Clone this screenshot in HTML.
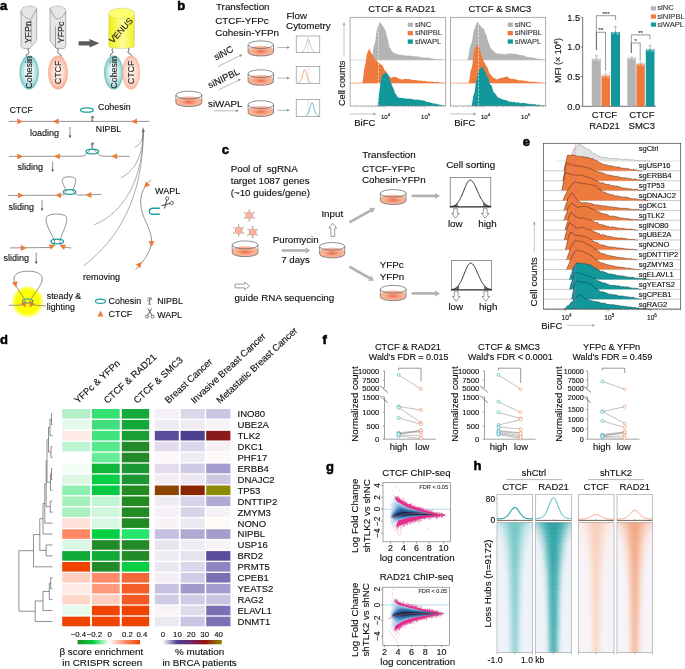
<!DOCTYPE html>
<html><head><meta charset="utf-8"><title>Figure</title>
<style>
html,body{margin:0;padding:0;background:#fff;}
body{width:685px;height:669px;overflow:hidden;}
svg{display:block;will-change:transform;}
text{font-family:"Liberation Sans",sans-serif;}
</style></head>
<body>
<svg width="685" height="669" viewBox="0 0 685 669" font-family="Liberation Sans, sans-serif">
<rect x="0" y="0" width="685" height="669" fill="#fff"/>
<defs>
<radialGradient id="gCoh" cx="50%" cy="50%" r="50%"><stop offset="0" stop-color="#ffffff"/><stop offset="0.45" stop-color="#e2f3f3"/><stop offset="0.8" stop-color="#a4d9d9"/><stop offset="1" stop-color="#6cc2c2"/></radialGradient>
<radialGradient id="gCtcf" cx="50%" cy="50%" r="50%"><stop offset="0" stop-color="#fffaf7"/><stop offset="0.45" stop-color="#fde6dc"/><stop offset="0.8" stop-color="#f9c6b0"/><stop offset="1" stop-color="#f3aa8c"/></radialGradient>
<linearGradient id="gVen" x1="0" x2="1" y1="0" y2="0"><stop offset="0" stop-color="#eeee10"/><stop offset="0.55" stop-color="#ffff9a"/><stop offset="1" stop-color="#efef20"/></linearGradient>
<radialGradient id="gGlow" cx="50%" cy="50%" r="50%"><stop offset="0" stop-color="#ffff10"/><stop offset="0.68" stop-color="#ffff00"/><stop offset="0.86" stop-color="#ffff30" stop-opacity="0.75"/><stop offset="1" stop-color="#ffff80" stop-opacity="0"/></radialGradient>
<linearGradient id="gDish" x1="0" x2="0" y1="0" y2="1"><stop offset="0" stop-color="#f07e5c"/><stop offset="0.5" stop-color="#f6a88c"/><stop offset="1" stop-color="#f4b39c"/></linearGradient>
<radialGradient id="gDishR" cx="50%" cy="55%" r="50%"><stop offset="0" stop-color="#ec6a44"/><stop offset="0.4" stop-color="#f39474"/><stop offset="1" stop-color="#f8bca4" stop-opacity="0.3"/></radialGradient>
</defs>
<text x="0.00" y="10.00" font-size="13" font-weight="bold" fill="#000" stroke="#000" stroke-width="0.55">a</text>
<path d="M21,11.4 C21,8 25,6.2 29,6.0 C33,5.9 36.7,7 36.7,8.8 L36.7,40.7 L29.4,48.6 L25.5,48.6 C22.5,48.6 21,47 21,45 Z" fill="#e6e6e6" stroke="none" stroke-width="0.6"/>
<path d="M21,11.4 L21,45 C21,47 22.5,48.6 25.5,48.6 L29.4,48.6 L36.7,40.7 L36.7,8.8" fill="none" stroke="#6a6a6a" stroke-width="0.5"/>
<path d="M21,11.4 C21,8 25,6.2 29,6.0 C33,5.9 36.7,7 36.7,8.8" fill="none" stroke="#6a6a6a" stroke-width="0.5" stroke-dasharray="1.3,0.8"/>
<path d="M21,11.4 C22,16 27,19.3 30.8,19.3 L36.7,8.8" fill="none" stroke="#6a6a6a" stroke-width="0.5"/>
<line x1="31.20" y1="20.10" x2="31.20" y2="42.90" stroke="#555" stroke-width="0.5"/>
<path d="M50,8.3 C51,7 54,6 57.9,6 C62,6 65.8,8 65.8,11.4 L65.8,45.5 C65.8,47.5 64.5,48.6 62.7,48.6 L55.7,48.2 L50,40.7 Z" fill="#e6e6e6" stroke="none" stroke-width="0.6"/>
<path d="M65.8,11.4 L65.8,45.5 C65.8,47.5 64.5,48.6 62.7,48.6 L55.7,48.2 L50,40.7 L50,8.3" fill="none" stroke="#6a6a6a" stroke-width="0.5"/>
<path d="M50,8.3 C51,7 54,6 57.9,6 C62,6 65.8,8 65.8,11.4" fill="none" stroke="#6a6a6a" stroke-width="0.5" stroke-dasharray="1.3,0.8"/>
<path d="M50,8.8 L55.5,18.8 C58,19.5 63,18.5 65.8,11.4" fill="none" stroke="#6a6a6a" stroke-width="0.5"/>
<line x1="55.50" y1="26.30" x2="55.50" y2="47.70" stroke="#555" stroke-width="0.5"/>
<text x="30.60" y="32.20" font-size="8.9" text-anchor="middle" fill="#1a1a1a" stroke="#1a1a1a" stroke-width="0.12" transform="rotate(-90 30.60 32.20) ">YFPn</text>
<text x="64.40" y="32.40" font-size="8.9" text-anchor="middle" fill="#1a1a1a" stroke="#1a1a1a" stroke-width="0.12" transform="rotate(-90 64.40 32.40) ">YFPc</text>
<path d="M28.5,48.6 C27,50.5 30.5,52.5 28,53.8 C26,54.8 25.5,55.5 26.5,57" fill="none" stroke="#222" stroke-width="0.7"/>
<path d="M57.5,48.4 C59.5,50 56,52 58.5,53.5 C61,54.5 61.5,55.5 61,57" fill="none" stroke="#222" stroke-width="0.7"/>
<ellipse cx="29.1" cy="72.4" rx="9.7" ry="17" fill="url(#gCoh)"/>
<ellipse cx="58" cy="72.4" rx="9.9" ry="17" fill="url(#gCtcf)"/>
<text x="32.30" y="72.40" font-size="8.9" text-anchor="middle" fill="#1a1a1a" stroke="#1a1a1a" stroke-width="0.12" transform="rotate(-90 32.30 72.40) ">Cohesin</text>
<text x="61.30" y="72.40" font-size="8.9" text-anchor="middle" fill="#1a1a1a" stroke="#1a1a1a" stroke-width="0.12" transform="rotate(-90 61.30 72.40) ">CTCF</text>
<polygon points="78.60,41.20 89.50,41.20 89.50,39.00 99.40,43.30 89.50,47.60 89.50,45.40 78.60,45.40" fill="#5a5a5a" stroke="none" stroke-width="0.6"/>
<path d="M108.8,13.5 L108.8,46.3 A12.8,2.2 0 0 0 134.4,46.3 L134.4,13.5 A12.8,5.3 0 0 0 108.8,13.5 Z" fill="url(#gVen)" stroke="#b0b0a0" stroke-width="0.4"/>
<ellipse cx="121.6" cy="13.5" rx="12.8" ry="5.3" fill="#ffff70" stroke="#b8b890" stroke-width="0.4" stroke-dasharray="1.2,1"/>
<text x="123.20" y="32.50" font-size="8.8" text-anchor="middle" fill="#1a1a1a" stroke="#1a1a1a" stroke-width="0.12" transform="rotate(-48 123.20 32.50) ">VENUS</text>
<path d="M113,48.3 C110,50 115,52 112,53.5 C110,54.5 110,55 111,56.5" fill="none" stroke="#222" stroke-width="0.7"/>
<path d="M128,48.3 C131,50 126,52 129,53.5 C131.5,54.5 132,55 131.5,56.5" fill="none" stroke="#222" stroke-width="0.7"/>
<ellipse cx="113.6" cy="72.4" rx="9.6" ry="17" fill="url(#gCoh)"/>
<ellipse cx="131.1" cy="72.4" rx="9.1" ry="17" fill="url(#gCtcf)" opacity="0.88"/>
<text x="116.80" y="72.40" font-size="8.9" text-anchor="middle" fill="#1a1a1a" stroke="#1a1a1a" stroke-width="0.12" transform="rotate(-90 116.80 72.40) ">Cohesin</text>
<text x="134.40" y="72.40" font-size="8.9" text-anchor="middle" fill="#1a1a1a" stroke="#1a1a1a" stroke-width="0.12" transform="rotate(-90 134.40 72.40) ">CTCF</text>
<line x1="8.90" y1="121.40" x2="149.50" y2="121.40" stroke="#7a7a7a" stroke-width="0.8"/>
<polygon points="23.10,121.40 17.30,118.50 17.30,124.30" fill="#F07A3A" stroke="none" stroke-width="0.6"/>
<polygon points="52.80,121.40 58.60,124.30 58.60,118.50" fill="#F07A3A" stroke="none" stroke-width="0.6"/>
<polygon points="131.10,121.40 136.90,124.30 136.90,118.50" fill="#F07A3A" stroke="none" stroke-width="0.6"/>
<text x="9.80" y="113.20" font-size="8.6" fill="#0d0d0d" stroke="#0d0d0d" stroke-width="0.12">CTCF</text>
<ellipse cx="86.9" cy="110" rx="6.3" ry="2.2" fill="none" stroke="#1a9ea0" stroke-width="1.3"/>
<text x="98.00" y="109.50" font-size="8.9" fill="#0d0d0d" stroke="#0d0d0d" stroke-width="0.12">Cohesin</text>
<path d="M90.86,116.61999999999999 L93.74,116.61999999999999 M92.3,116.61999999999999 L92.3,120.75999999999999 M91.13,120.75999999999999 L93.47,120.75999999999999 M91.22,117.69999999999999 C90.86,119.05 91.75999999999999,119.22999999999999 92.3,118.96" fill="none" stroke="#333" stroke-width="0.55"/>
<circle cx="93.11" cy="117.52" r="0.63" fill="none" stroke="#333" stroke-width="0.45"/>
<text x="95.80" y="132.00" font-size="8.8" fill="#0d0d0d" stroke="#0d0d0d" stroke-width="0.12">NIPBL</text>
<text x="29.90" y="135.90" font-size="9" fill="#0d0d0d" stroke="#0d0d0d" stroke-width="0.12">loading</text>
<line x1="70.00" y1="127.00" x2="70.00" y2="136.70" stroke="#444" stroke-width="0.6"/>
<polygon points="68.70,135.60 71.30,135.60 70.00,138.20" fill="#444" stroke="none" stroke-width="0.6"/>
<path d="M8.9,156.4 L82,156.2 C87,155.8 88.5,150.5 90.5,149.5 C91.5,149 93,149 94,149.5 C96,150.5 97.5,155.8 103,156.2 L129.7,156.4" fill="none" stroke="#7a7a7a" stroke-width="0.8"/>
<polygon points="23.10,156.40 17.30,153.50 17.30,159.30" fill="#F07A3A" stroke="none" stroke-width="0.6"/>
<polygon points="54.00,156.30 59.80,159.20 59.80,153.40" fill="#F07A3A" stroke="none" stroke-width="0.6"/>
<polygon points="111.30,156.30 117.10,159.20 117.10,153.40" fill="#F07A3A" stroke="none" stroke-width="0.6"/>
<ellipse cx="92.3" cy="151.5" rx="6.3" ry="2.4" fill="none" stroke="#1a9ea0" stroke-width="1.3"/>
<path d="M90.86,143.02 L93.74,143.02 M92.3,143.02 L92.3,147.16 M91.13,147.16 L93.47,147.16 M91.22,144.1 C90.86,145.45 91.75999999999999,145.63 92.3,145.36" fill="none" stroke="#333" stroke-width="0.55"/>
<circle cx="93.11" cy="143.92" r="0.63" fill="none" stroke="#333" stroke-width="0.45"/>
<text x="17.50" y="170.20" font-size="9" fill="#0d0d0d" stroke="#0d0d0d" stroke-width="0.12">sliding</text>
<line x1="52.60" y1="161.60" x2="52.60" y2="170.50" stroke="#444" stroke-width="0.6"/>
<polygon points="51.30,169.40 53.90,169.40 52.60,172.00" fill="#444" stroke="none" stroke-width="0.6"/>
<path d="M8.2,195.4 L60,195.3 C64,195 65.5,193 66.3,190.5 C64,186 61.5,182 62.5,179 C63.5,176 74.5,176 75.5,179 C76.5,182 74,186 72.8,190.5 C74,193 76,195 80,195.2 L101.6,194.3" fill="none" stroke="#7a7a7a" stroke-width="0.8"/>
<polygon points="23.80,195.40 18.00,192.50 18.00,198.30" fill="#F07A3A" stroke="none" stroke-width="0.6"/>
<polygon points="55.20,195.30 61.00,198.20 61.00,192.40" fill="#F07A3A" stroke="none" stroke-width="0.6"/>
<polygon points="85.60,195.00 91.40,197.90 91.40,192.10" fill="#F07A3A" stroke="none" stroke-width="0.6"/>
<ellipse cx="69.6" cy="192" rx="6.3" ry="2.3" fill="none" stroke="#1a9ea0" stroke-width="1.3"/>
<text x="8.60" y="209.90" font-size="9" fill="#0d0d0d" stroke="#0d0d0d" stroke-width="0.12">sliding</text>
<line x1="42.00" y1="200.00" x2="42.00" y2="209.50" stroke="#444" stroke-width="0.6"/>
<polygon points="40.70,208.40 43.30,208.40 42.00,211.00" fill="#444" stroke="none" stroke-width="0.6"/>
<path d="M9.8,247.9 L50,247.5 C53,246.5 54.5,244 54.8,241 C51,233 44,222 46.5,217 C49,213 64,213 66.5,217 C68.5,222 62,233 59.8,241 C60,244 62,246.5 65,247.4 L71.3,247.9" fill="none" stroke="#7a7a7a" stroke-width="0.8"/>
<polygon points="26.60,247.90 20.80,245.00 20.80,250.80" fill="#F07A3A" stroke="none" stroke-width="0.6"/>
<polygon points="55.31,245.11 48.86,244.36 50.85,249.81" fill="#F07A3A" stroke="none" stroke-width="0.6"/>
<polygon points="59.49,245.21 63.95,249.91 65.94,244.46" fill="#F07A3A" stroke="none" stroke-width="0.6"/>
<ellipse cx="57.2" cy="241.5" rx="6.3" ry="2.3" fill="none" stroke="#1a9ea0" stroke-width="1.3"/>
<text x="3.50" y="261.20" font-size="9" fill="#0d0d0d" stroke="#0d0d0d" stroke-width="0.12">sliding</text>
<line x1="36.20" y1="252.50" x2="36.20" y2="262.70" stroke="#444" stroke-width="0.6"/>
<polygon points="34.90,261.60 37.50,261.60 36.20,264.20" fill="#444" stroke="none" stroke-width="0.6"/>
<circle cx="27.6" cy="301.8" r="16.5" fill="url(#gGlow)"/>
<path d="M9,305.3 L20,305.2 C23,304.6 25,303 25.3,300.5 C22,295 14,285 14,279 C14,273.5 20,271.2 28,271.2 C36,271.2 42.3,273.5 42.3,279 C42.3,285 33,295 30,300.5 C30.3,303 32,304.6 35,305.2 L46,305.8" fill="none" stroke="#7a7a7a" stroke-width="0.8"/>
<ellipse cx="27.6" cy="301" rx="5.2" ry="2.0" fill="none" stroke="#1a9ea0" stroke-width="1.2"/>
<polygon points="25.80,307.57 25.41,301.10 20.39,304.00" fill="#F07A3A" stroke="none" stroke-width="0.6"/>
<polygon points="29.60,307.57 35.01,304.00 29.99,301.10" fill="#F07A3A" stroke="none" stroke-width="0.6"/>
<polygon points="15.86,287.45 17.70,281.24 11.99,282.24" fill="#F07A3A" stroke="none" stroke-width="0.6"/>
<text x="46.70" y="299.30" font-size="8.9" fill="#0d0d0d" stroke="#0d0d0d" stroke-width="0.12">steady &amp;</text>
<text x="46.70" y="309.80" font-size="8.9" fill="#0d0d0d" stroke="#0d0d0d" stroke-width="0.12">lighting</text>
<text x="83.00" y="279.90" font-size="9" fill="#0d0d0d" stroke="#0d0d0d" stroke-width="0.12">removing</text>
<path d="M143.2,131 C143.3,139 140,145 134.9,147.3" fill="none" stroke="#6a6a6a" stroke-width="0.55"/>
<path d="M143.2,131 C143.5,152 136,171 120.8,177.7" fill="none" stroke="#6a6a6a" stroke-width="0.55"/>
<path d="M143.2,131 C143.5,178 125,212 94.2,224.8" fill="none" stroke="#6a6a6a" stroke-width="0.55"/>
<path d="M143.2,131 C143.5,195 120,238 83.8,265.7" fill="none" stroke="#6a6a6a" stroke-width="0.55"/>
<polygon points="141.60,132.00 144.80,132.00 143.20,127.60" fill="#6a6a6a" stroke="none" stroke-width="0.6"/>
<path d="M151.2,179.8 C145,185 140.5,192 140.7,203 C141,218 151.5,228 151.5,240 C151.5,252 143,262 135.5,269.8" fill="none" stroke="#7a7a7a" stroke-width="0.8"/>
<polygon points="144.34,187.75 150.29,185.17 145.85,181.44" fill="#F07A3A" stroke="none" stroke-width="0.6"/>
<polygon points="151.88,246.89 154.26,240.86 148.48,241.36" fill="#F07A3A" stroke="none" stroke-width="0.6"/>
<polygon points="141.76,261.95 135.81,264.53 140.25,268.26" fill="#F07A3A" stroke="none" stroke-width="0.6"/>
<text x="155.00" y="193.50" font-size="9" fill="#0d0d0d" stroke="#0d0d0d" stroke-width="0.12">WAPL</text>
<path d="M159.8,208.3 L153.2,208.3 C150.6,208.3 149.3,209.8 149.3,211.3 C149.3,212.8 150.6,214.3 153.2,214.3 L159.8,214.3" fill="none" stroke="#1a9ea0" stroke-width="1.4"/>
<g transform="translate(166.8,203.4) rotate(-135) scale(1.45)"><circle cx="-2.2" cy="2.6" r="1.15" fill="none" stroke="#333" stroke-width="0.5"/><circle cx="2.2" cy="2.6" r="1.15" fill="none" stroke="#333" stroke-width="0.5"/><path d="M-1.6,1.6 L1.4,-3.6 M1.6,1.6 L-1.4,-3.6" stroke="#333" stroke-width="0.6" fill="none"/></g>
<ellipse cx="100.5" cy="301.2" rx="5.0" ry="2.1" fill="none" stroke="#1a9ea0" stroke-width="1.2"/>
<text x="108.60" y="304.20" font-size="8.9" fill="#0d0d0d" stroke="#0d0d0d" stroke-width="0.12">Cohesin</text>
<polygon points="100.50,310.60 97.60,316.40 103.40,316.40" fill="#F07A3A" stroke="none" stroke-width="0.6"/>
<text x="108.60" y="317.20" font-size="8.9" fill="#0d0d0d" stroke="#0d0d0d" stroke-width="0.12">CTCF</text>
<path d="M147.34,297.92999999999995 L151.66,297.92999999999995 M149.5,297.92999999999995 L149.5,304.14 M147.745,304.14 L151.255,304.14 M147.88,299.54999999999995 C147.34,301.575 148.69,301.84499999999997 149.5,301.44" fill="none" stroke="#333" stroke-width="0.55"/>
<circle cx="150.715" cy="299.28" r="0.945" fill="none" stroke="#333" stroke-width="0.45"/>
<text x="157.20" y="304.30" font-size="8.9" fill="#0d0d0d" stroke="#0d0d0d" stroke-width="0.12">NIPBL</text>
<g transform="translate(149.8,313.2) rotate(0) scale(1.3)"><circle cx="-2.2" cy="2.6" r="1.15" fill="none" stroke="#333" stroke-width="0.5"/><circle cx="2.2" cy="2.6" r="1.15" fill="none" stroke="#333" stroke-width="0.5"/><path d="M-1.6,1.6 L1.4,-3.6 M1.6,1.6 L-1.4,-3.6" stroke="#333" stroke-width="0.6" fill="none"/></g>
<text x="157.20" y="317.60" font-size="8.9" fill="#0d0d0d" stroke="#0d0d0d" stroke-width="0.12">WAPL</text>
<text x="177.20" y="9.90" font-size="13" font-weight="bold" fill="#000" stroke="#000" stroke-width="0.55">b</text>
<text x="216.00" y="9.90" font-size="9.8" fill="#0d0d0d" stroke="#0d0d0d" stroke-width="0.12">Transfection</text>
<text x="215.30" y="24.30" font-size="9.8" fill="#0d0d0d" stroke="#0d0d0d" stroke-width="0.12">CTCF-YFPc</text>
<text x="215.30" y="35.50" font-size="9.8" fill="#0d0d0d" stroke="#0d0d0d" stroke-width="0.12">Cohesin-YFPn</text>
<text x="286.40" y="18.60" font-size="9.8" fill="#0d0d0d" stroke="#0d0d0d" stroke-width="0.12">Flow</text>
<text x="286.10" y="29.30" font-size="9.8" fill="#0d0d0d" stroke="#0d0d0d" stroke-width="0.12">Cytometry</text>
<path d="M175.90,100.29 L175.90,102.75 A12.95,3.85 0 0 0 201.80,102.75 L201.80,100.29 A12.95,3.85 0 0 0 175.90,100.29 Z" fill="#f6b49a" stroke="none" stroke-width="0.6"/>
<ellipse cx="188.85" cy="101.63" rx="12.30" ry="4.04" fill="url(#gDishR)"/>
<path d="M175.90,95.05 L175.90,102.75 A12.95,3.85 0 0 0 201.80,102.75 L201.80,95.05" fill="none" stroke="#4a4a4a" stroke-width="0.6"/>
<ellipse cx="188.85" cy="95.05" rx="12.95" ry="3.85" fill="none" stroke="#4a4a4a" stroke-width="0.6"/>
<line x1="218.00" y1="66.50" x2="239.81" y2="55.73" stroke="#8a8a8a" stroke-width="0.6"/>
<polygon points="242.50,54.40 240.39,56.89 239.23,54.56" fill="#8a8a8a" stroke="none" stroke-width="0.6"/>
<line x1="218.60" y1="90.00" x2="238.31" y2="80.32" stroke="#8a8a8a" stroke-width="0.6"/>
<polygon points="241.00,79.00 238.88,81.49 237.73,79.16" fill="#8a8a8a" stroke="none" stroke-width="0.6"/>
<line x1="214.00" y1="110.80" x2="236.00" y2="110.80" stroke="#8a8a8a" stroke-width="0.6"/>
<polygon points="239.00,110.80 236.00,112.10 236.00,109.50" fill="#8a8a8a" stroke="none" stroke-width="0.6"/>
<text x="216.00" y="60.60" font-size="9.4" fill="#0d0d0d" stroke="#0d0d0d" stroke-width="0.12" transform="rotate(-28 216.00 60.60) ">siNC</text>
<text x="209.80" y="88.60" font-size="9.4" fill="#0d0d0d" stroke="#0d0d0d" stroke-width="0.12" transform="rotate(-26 209.80 88.60) ">siNIPBL</text>
<text x="208.00" y="107.00" font-size="9.8" fill="#0d0d0d" stroke="#0d0d0d" stroke-width="0.12">siWAPL</text>
<path d="M248.10,49.81 L248.10,52.23 A12.70,3.78 0 0 0 273.50,52.23 L273.50,49.81 A12.70,3.78 0 0 0 248.10,49.81 Z" fill="#f6b49a" stroke="none" stroke-width="0.6"/>
<ellipse cx="260.80" cy="51.13" rx="12.07" ry="3.96" fill="url(#gDishR)"/>
<path d="M248.10,44.67 L248.10,52.23 A12.70,3.78 0 0 0 273.50,52.23 L273.50,44.67" fill="none" stroke="#4a4a4a" stroke-width="0.6"/>
<ellipse cx="260.80" cy="44.67" rx="12.70" ry="3.78" fill="none" stroke="#4a4a4a" stroke-width="0.6"/>
<path d="M248.10,78.94 L248.10,81.42 A12.70,3.88 0 0 0 273.50,81.42 L273.50,78.94 A12.70,3.88 0 0 0 248.10,78.94 Z" fill="#f6b49a" stroke="none" stroke-width="0.6"/>
<ellipse cx="260.80" cy="80.30" rx="12.07" ry="4.07" fill="url(#gDishR)"/>
<path d="M248.10,73.67 L248.10,81.42 A12.70,3.88 0 0 0 273.50,81.42 L273.50,73.67" fill="none" stroke="#4a4a4a" stroke-width="0.6"/>
<ellipse cx="260.80" cy="73.67" rx="12.70" ry="3.88" fill="none" stroke="#4a4a4a" stroke-width="0.6"/>
<path d="M248.10,110.02 L248.10,112.55 A12.70,3.95 0 0 0 273.50,112.55 L273.50,110.02 A12.70,3.95 0 0 0 248.10,110.02 Z" fill="#f6b49a" stroke="none" stroke-width="0.6"/>
<ellipse cx="260.80" cy="111.40" rx="12.07" ry="4.15" fill="url(#gDishR)"/>
<path d="M248.10,104.65 L248.10,112.55 A12.70,3.95 0 0 0 273.50,112.55 L273.50,104.65" fill="none" stroke="#4a4a4a" stroke-width="0.6"/>
<ellipse cx="260.80" cy="104.65" rx="12.70" ry="3.95" fill="none" stroke="#4a4a4a" stroke-width="0.6"/>
<line x1="277.20" y1="47.50" x2="287.00" y2="47.50" stroke="#8a8a8a" stroke-width="0.6"/>
<polygon points="290.00,47.50 287.00,48.80 287.00,46.20" fill="#8a8a8a" stroke="none" stroke-width="0.6"/>
<line x1="277.20" y1="78.10" x2="287.00" y2="78.10" stroke="#8a8a8a" stroke-width="0.6"/>
<polygon points="290.00,78.10 287.00,79.40 287.00,76.80" fill="#8a8a8a" stroke="none" stroke-width="0.6"/>
<line x1="277.20" y1="110.30" x2="287.00" y2="110.30" stroke="#8a8a8a" stroke-width="0.6"/>
<polygon points="290.00,110.30 287.00,111.60 287.00,109.00" fill="#8a8a8a" stroke="none" stroke-width="0.6"/>
<rect x="296.20" y="36.00" width="23.60" height="16.70" fill="none" stroke="#808080" stroke-width="0.6"/>
<line x1="308.30" y1="37.00" x2="308.30" y2="52.70" stroke="#999" stroke-width="0.5" stroke-dasharray="1.2,1"/>
<polyline points="301.78,51.57 301.97,51.52 302.16,51.46 302.35,51.39 302.54,51.32 302.73,51.24 302.93,51.14 303.12,51.03 303.31,50.90 303.50,50.75 303.69,50.58 303.88,50.38 304.08,50.16 304.27,49.89 304.46,49.59 304.65,49.25 304.84,48.87 305.03,48.44 305.23,47.96 305.42,47.44 305.61,46.87 305.80,46.26 305.99,45.61 306.18,44.92 306.38,44.22 306.57,43.50 306.76,42.78 306.95,42.08 307.14,41.41 307.33,40.80 307.53,40.26 307.72,39.82 307.91,39.48 308.10,39.28 308.29,39.20 308.48,39.26 308.68,39.46 308.87,39.79 309.06,40.22 309.25,40.75 309.44,41.36 309.63,42.02 309.83,42.72 310.02,43.44 310.21,44.16 310.40,44.86 310.59,45.55 310.78,46.20 310.98,46.82 311.17,47.39 311.36,47.92 311.55,48.40 311.74,48.83 311.93,49.22 312.12,49.57 312.32,49.87 312.51,50.13 312.70,50.37 312.89,50.57 313.08,50.74 313.28,50.89 313.47,51.02 313.66,51.13 313.85,51.23 314.04,51.31 314.23,51.39 314.43,51.45 314.62,51.51 314.81,51.56" fill="none" stroke="#b0b0b0" stroke-width="0.7"/>
<rect x="296.20" y="66.30" width="23.60" height="17.30" fill="none" stroke="#808080" stroke-width="0.6"/>
<line x1="308.30" y1="67.30" x2="308.30" y2="83.60" stroke="#999" stroke-width="0.5" stroke-dasharray="1.2,1"/>
<polyline points="297.94,82.46 298.13,82.41 298.33,82.36 298.52,82.30 298.71,82.23 298.90,82.15 299.09,82.05 299.28,81.95 299.48,81.83 299.67,81.69 299.86,81.53 300.05,81.34 300.24,81.12 300.43,80.87 300.62,80.59 300.82,80.26 301.01,79.89 301.20,79.48 301.39,79.01 301.58,78.50 301.78,77.94 301.97,77.33 302.16,76.68 302.35,75.98 302.54,75.26 302.73,74.52 302.93,73.77 303.12,73.02 303.31,72.30 303.50,71.61 303.69,71.00 303.88,70.46 304.08,70.03 304.27,69.72 304.46,69.54 304.65,69.50 304.84,69.61 305.03,69.86 305.23,70.24 305.42,70.73 305.61,71.31 305.80,71.96 305.99,72.67 306.18,73.41 306.38,74.16 306.57,74.91 306.76,75.64 306.95,76.35 307.14,77.02 307.33,77.65 307.53,78.24 307.72,78.77 307.91,79.26 308.10,79.70 308.29,80.09 308.48,80.44 308.68,80.74 308.87,81.01 309.06,81.24 309.25,81.44 309.44,81.61 309.63,81.76 309.83,81.89 310.02,82.01 310.21,82.10 310.40,82.19 310.59,82.26 310.78,82.33 310.98,82.39 311.17,82.44" fill="none" stroke="#EE7B3E" stroke-width="0.7"/>
<rect x="296.20" y="99.40" width="23.60" height="17.30" fill="none" stroke="#808080" stroke-width="0.6"/>
<line x1="308.30" y1="100.40" x2="308.30" y2="116.70" stroke="#999" stroke-width="0.5" stroke-dasharray="1.2,1"/>
<polyline points="305.42,115.54 305.61,115.49 305.80,115.43 305.99,115.37 306.18,115.30 306.38,115.21 306.57,115.12 306.76,115.00 306.95,114.88 307.14,114.73 307.33,114.56 307.53,114.36 307.72,114.13 307.91,113.87 308.10,113.57 308.29,113.22 308.48,112.84 308.68,112.40 308.87,111.92 309.06,111.39 309.25,110.81 309.44,110.18 309.63,109.51 309.83,108.80 310.02,108.07 310.21,107.32 310.40,106.57 310.59,105.83 310.78,105.12 310.98,104.46 311.17,103.87 311.36,103.38 311.55,102.99 311.74,102.73 311.93,102.61 312.12,102.63 312.32,102.80 312.51,103.10 312.70,103.52 312.89,104.04 313.08,104.66 313.28,105.33 313.47,106.05 313.66,106.80 313.85,107.55 314.04,108.30 314.23,109.02 314.43,109.72 314.62,110.37 314.81,110.99 315.00,111.55 315.19,112.07 315.38,112.54 315.58,112.96 315.77,113.33 315.96,113.66 316.15,113.95 316.34,114.20 316.53,114.42 316.73,114.61 316.92,114.78 317.11,114.92 317.30,115.04 317.49,115.15 317.68,115.24 317.88,115.32 318.07,115.39 318.26,115.45 318.45,115.51 318.64,115.56" fill="none" stroke="#1fa3a8" stroke-width="0.7"/>
<path d="M371.00,60.10 L371.00,60.10 L371.70,58.56 L372.40,54.71 L373.10,49.63 L373.80,46.06 L374.50,44.07 L375.10,42.43 L375.70,38.43 L376.30,33.08 L376.90,29.19 L377.50,27.15 L378.13,26.13 L378.77,23.76 L379.40,22.25 L380.00,22.33 L380.60,23.50 L381.20,23.79 L381.80,24.29 L382.40,25.51 L383.00,26.55 L383.62,27.25 L384.25,28.12 L384.88,30.04 L385.50,30.05 L386.17,32.47 L386.83,36.33 L387.50,38.37 L388.17,40.65 L388.83,44.77 L389.50,47.62 L390.10,47.78 L390.70,48.78 L391.30,50.21 L391.90,51.13 L392.50,51.91 L393.10,52.11 L393.70,52.47 L394.30,52.70 L394.90,53.35 L395.50,53.63 L396.14,53.51 L396.79,53.79 L397.43,54.15 L398.07,54.08 L398.71,54.40 L399.36,54.91 L400.00,54.75 L400.62,54.81 L401.24,54.63 L401.87,54.82 L402.49,55.24 L403.11,54.87 L403.73,55.59 L404.36,55.47 L404.98,55.30 L405.60,55.74 L406.23,55.52 L406.86,55.87 L407.49,55.47 L408.12,55.47 L408.76,55.68 L409.39,55.55 L410.02,56.04 L410.65,55.86 L411.28,56.03 L411.91,56.13 L412.54,56.30 L413.18,56.11 L413.81,56.10 L414.44,56.48 L415.07,56.37 L415.70,56.81 L416.33,56.37 L416.96,56.44 L417.59,56.25 L418.23,56.43 L418.86,56.88 L419.49,56.90 L420.12,56.79 L420.75,57.33 L421.38,57.12 L422.01,57.42 L422.64,57.54 L423.27,57.65 L423.91,57.22 L424.54,57.72 L425.17,57.67 L425.80,57.58 L426.44,57.26 L427.07,57.86 L427.71,57.67 L428.35,57.70 L428.99,57.58 L429.62,57.75 L430.26,57.86 L430.90,58.41 L431.54,58.45 L432.18,58.62 L432.81,58.38 L433.45,58.45 L434.09,59.11 L434.73,59.16 L435.36,59.17 L436.00,59.19 L436.63,59.02 L437.27,58.98 L437.90,59.25 L438.53,59.49 L439.17,59.26 L439.80,59.37 L440.43,59.31 L441.07,59.12 L441.70,59.39 L442.33,59.58 L442.97,59.66 L443.60,59.72 L444.23,59.76 L444.87,59.79 L445.50,59.80 L445.50,60.10 Z" fill="#b4b4b4" stroke="none" stroke-width="0.3"/>
<line x1="350.10" y1="60.10" x2="445.70" y2="60.10" stroke="#c4c4c4" stroke-width="0.6"/>
<path d="M362.20,83.10 L362.20,83.10 L362.90,80.21 L363.60,73.98 L364.30,68.22 L365.00,64.82 L365.62,62.87 L366.25,58.34 L366.88,53.92 L367.50,52.18 L368.10,51.21 L368.70,49.64 L369.30,48.31 L370.15,50.56 L371.00,52.40 L371.65,53.50 L372.30,54.74 L372.92,55.13 L373.54,56.57 L374.16,58.09 L374.78,59.22 L375.40,59.78 L376.02,59.92 L376.64,60.92 L377.26,61.25 L377.88,62.20 L378.50,62.85 L379.23,63.09 L379.95,63.71 L380.67,64.38 L381.40,64.86 L382.08,64.80 L382.77,65.81 L383.45,67.62 L384.13,69.06 L384.82,70.45 L385.50,70.88 L386.10,71.23 L386.70,72.52 L387.30,73.61 L387.90,75.32 L388.50,75.93 L389.10,75.50 L389.70,76.32 L390.30,77.21 L390.90,77.45 L391.50,78.03 L392.17,77.61 L392.83,77.11 L393.50,76.95 L394.17,76.82 L394.83,76.94 L395.50,76.79 L396.10,77.12 L396.70,77.14 L397.30,77.84 L397.90,78.12 L398.50,78.62 L399.12,78.82 L399.74,78.70 L400.36,78.94 L400.98,79.33 L401.60,79.49 L402.27,79.40 L402.93,79.27 L403.60,79.39 L404.27,78.95 L404.93,78.88 L405.60,79.03 L406.21,79.06 L406.82,78.96 L407.43,79.08 L408.04,78.92 L408.65,78.88 L409.26,79.38 L409.87,79.18 L410.48,79.25 L411.09,79.35 L411.70,79.79 L412.32,79.91 L412.95,79.95 L413.57,80.05 L414.19,80.13 L414.82,79.94 L415.44,79.86 L416.06,80.02 L416.68,80.38 L417.31,80.37 L417.93,80.36 L418.55,80.93 L419.18,80.57 L419.80,80.41 L420.41,80.51 L421.01,80.55 L421.62,80.78 L422.22,81.03 L422.82,80.65 L423.43,81.03 L424.04,80.77 L424.64,80.72 L425.25,81.20 L425.85,81.27 L426.45,80.96 L427.06,81.19 L427.66,81.65 L428.27,81.75 L428.88,81.79 L429.48,81.31 L430.08,81.42 L430.69,81.92 L431.29,81.46 L431.90,81.36 L432.52,81.60 L433.14,81.83 L433.75,81.73 L434.37,82.06 L434.99,82.20 L435.61,81.59 L436.23,81.88 L436.85,82.04 L437.46,81.83 L438.08,82.26 L438.70,82.04 L439.32,82.15 L439.94,82.66 L440.55,82.71 L441.17,82.61 L441.79,82.68 L442.41,82.74 L443.03,82.80 L443.65,82.84 L444.26,82.87 L444.88,82.89 L445.50,82.90 L445.50,83.10 Z" fill="#EE7B3E" stroke="none" stroke-width="0.3"/>
<line x1="350.10" y1="83.10" x2="445.70" y2="83.10" stroke="#EE7B3E" stroke-width="0.6"/>
<path d="M377.40,106.00 L377.40,106.00 L378.03,102.52 L378.67,95.81 L379.30,91.94 L380.05,86.17 L380.80,80.06 L381.47,78.83 L382.13,75.64 L382.80,74.60 L383.48,74.29 L384.15,73.69 L384.82,72.95 L385.50,73.06 L386.12,72.86 L386.75,73.50 L387.38,73.82 L388.00,73.98 L388.75,76.69 L389.50,78.74 L390.17,80.30 L390.83,82.97 L391.50,83.79 L392.17,85.47 L392.83,87.57 L393.50,88.64 L394.17,90.06 L394.83,92.63 L395.50,93.79 L396.20,94.56 L396.90,95.90 L397.60,97.18 L398.33,97.03 L399.05,97.63 L399.77,97.98 L400.50,97.81 L401.12,98.03 L401.74,98.06 L402.36,98.01 L402.98,97.98 L403.60,98.34 L404.21,98.24 L404.82,98.36 L405.43,98.42 L406.04,98.38 L406.65,98.63 L407.26,98.67 L407.87,98.79 L408.48,98.53 L409.09,98.74 L409.70,98.64 L410.30,98.61 L410.90,99.13 L411.50,98.99 L412.10,98.80 L412.70,98.96 L413.30,99.54 L413.90,99.64 L414.50,99.48 L415.10,99.78 L415.70,99.68 L416.31,99.82 L416.92,99.46 L417.53,99.47 L418.14,99.50 L418.75,100.14 L419.36,99.87 L419.97,100.02 L420.58,100.47 L421.19,100.01 L421.80,99.97 L422.40,100.54 L423.00,100.15 L423.60,100.72 L424.20,100.87 L424.80,100.76 L425.40,101.10 L426.00,101.79 L426.60,101.78 L427.20,101.84 L427.80,102.01 L428.42,102.15 L429.05,102.15 L429.67,102.01 L430.29,102.69 L430.92,102.52 L431.54,102.83 L432.16,103.35 L432.78,103.36 L433.41,103.36 L434.03,103.62 L434.65,104.08 L435.28,103.53 L435.90,103.70 L436.50,103.59 L437.10,104.25 L437.70,104.23 L438.30,104.50 L438.90,104.12 L439.50,104.63 L440.10,104.89 L440.70,104.85 L441.30,104.68 L441.90,104.91 L442.50,105.45 L443.10,105.66 L443.70,105.53 L444.30,105.62 L444.90,105.68 L445.50,105.70 L445.50,106.00 Z" fill="#12979A" stroke="none" stroke-width="0.3"/>
<line x1="378.40" y1="20.50" x2="378.40" y2="106.00" stroke="#ffffff" stroke-width="0.8" stroke-dasharray="2,1.6" opacity="0.85"/>
<rect x="350.10" y="17.30" width="95.60" height="88.70" fill="none" stroke="#8a8a8a" stroke-width="0.7"/>
<path d="M467.30,60.10 L467.30,60.10 L467.92,58.62 L468.53,55.90 L469.15,51.96 L469.77,48.54 L470.38,45.59 L471.00,43.97 L471.70,42.59 L472.40,39.12 L473.10,34.07 L473.80,30.57 L474.50,28.89 L475.17,27.84 L475.83,24.41 L476.50,23.40 L477.15,22.20 L477.80,21.83 L478.65,23.31 L479.50,24.56 L480.17,24.95 L480.83,26.61 L481.50,27.36 L482.17,27.39 L482.83,28.17 L483.50,28.57 L484.12,29.44 L484.75,31.51 L485.38,33.40 L486.00,34.23 L486.62,35.53 L487.25,38.07 L487.88,41.25 L488.50,42.40 L489.17,43.84 L489.83,45.99 L490.50,47.44 L491.20,48.16 L491.90,49.96 L492.60,50.34 L493.27,50.69 L493.93,51.50 L494.60,52.02 L495.27,52.42 L495.93,53.55 L496.60,53.28 L497.21,53.56 L497.82,53.57 L498.43,53.40 L499.04,53.79 L499.65,53.80 L500.26,53.76 L500.87,53.63 L501.48,54.15 L502.09,53.85 L502.70,53.96 L503.32,53.99 L503.93,54.13 L504.55,54.13 L505.16,54.28 L505.78,54.16 L506.39,54.14 L507.01,53.60 L507.62,53.87 L508.24,53.87 L508.85,53.87 L509.47,53.30 L510.08,53.25 L510.70,53.38 L511.34,53.68 L511.97,53.77 L512.61,53.83 L513.25,53.83 L513.89,54.15 L514.52,54.04 L515.16,54.24 L515.80,53.78 L516.42,53.80 L517.05,54.19 L517.67,54.53 L518.30,54.17 L518.92,54.78 L519.55,54.88 L520.17,55.21 L520.80,54.98 L521.43,54.95 L522.06,55.01 L522.69,55.35 L523.32,55.30 L523.96,55.85 L524.59,55.89 L525.22,56.24 L525.85,56.27 L526.48,56.76 L527.11,57.01 L527.74,57.03 L528.38,57.28 L529.01,57.20 L529.64,57.37 L530.27,57.30 L530.90,57.39 L531.51,57.37 L532.11,57.31 L532.72,57.74 L533.33,57.90 L533.93,57.58 L534.54,58.31 L535.15,58.06 L535.75,58.28 L536.36,58.86 L536.97,58.45 L537.57,58.54 L538.18,58.84 L538.79,58.86 L539.39,58.86 L540.00,59.35 L540.61,59.10 L541.22,59.17 L541.83,59.02 L542.44,59.14 L543.06,59.22 L543.67,59.49 L544.28,59.62 L544.89,59.68 L545.50,59.70 L545.50,60.10 Z" fill="#b4b4b4" stroke="none" stroke-width="0.3"/>
<line x1="450.60" y1="60.10" x2="545.70" y2="60.10" stroke="#c4c4c4" stroke-width="0.6"/>
<path d="M468.40,83.10 L468.40,83.10 L469.02,81.27 L469.64,77.69 L470.26,73.24 L470.88,69.85 L471.50,68.43 L472.10,66.48 L472.70,61.86 L473.30,56.71 L473.90,51.74 L474.50,50.06 L475.27,48.53 L476.03,45.79 L476.80,44.27 L477.50,45.26 L478.20,46.45 L478.85,47.04 L479.50,48.23 L480.10,49.45 L480.70,51.93 L481.30,54.83 L481.90,57.75 L482.50,58.33 L483.17,59.74 L483.83,61.83 L484.50,62.76 L485.17,63.48 L485.83,65.77 L486.50,66.43 L487.18,66.87 L487.87,68.70 L488.55,70.73 L489.23,72.61 L489.92,73.97 L490.60,74.51 L491.20,74.94 L491.80,75.69 L492.40,77.00 L493.00,77.72 L493.60,77.97 L494.20,77.76 L494.80,78.39 L495.40,78.59 L496.00,79.31 L496.60,79.41 L497.21,79.22 L497.82,78.83 L498.43,78.66 L499.04,78.48 L499.65,78.55 L500.26,78.18 L500.87,78.03 L501.48,77.87 L502.09,78.01 L502.70,77.42 L503.37,77.84 L504.03,77.11 L504.70,76.89 L505.37,77.30 L506.03,76.80 L506.70,76.48 L507.37,76.52 L508.03,77.25 L508.70,77.86 L509.37,78.38 L510.03,78.24 L510.70,78.90 L511.33,78.66 L511.96,79.02 L512.59,78.83 L513.23,78.63 L513.86,79.33 L514.49,78.98 L515.12,79.34 L515.75,79.23 L516.38,79.51 L517.01,79.98 L517.64,79.65 L518.27,80.06 L518.91,80.48 L519.54,80.58 L520.17,80.29 L520.80,80.33 L521.40,80.45 L522.00,80.61 L522.60,80.52 L523.20,80.62 L523.80,80.35 L524.40,81.05 L525.00,80.64 L525.60,80.70 L526.20,81.33 L526.80,80.88 L527.40,81.15 L528.00,81.13 L528.60,81.65 L529.20,81.67 L529.80,81.72 L530.40,81.34 L531.00,81.64 L531.60,81.80 L532.21,81.77 L532.81,81.91 L533.42,82.11 L534.02,82.11 L534.62,81.65 L535.23,82.10 L535.83,81.71 L536.44,82.26 L537.04,82.32 L537.65,82.22 L538.25,82.52 L538.85,82.46 L539.46,82.13 L540.06,82.25 L540.67,82.37 L541.27,82.65 L541.88,82.71 L542.48,82.77 L543.08,82.81 L543.69,82.85 L544.29,82.88 L544.90,82.89 L545.50,82.90 L545.50,83.10 Z" fill="#EE7B3E" stroke="none" stroke-width="0.3"/>
<line x1="450.60" y1="83.10" x2="545.70" y2="83.10" stroke="#EE7B3E" stroke-width="0.6"/>
<path d="M471.40,106.00 L471.40,106.00 L472.05,104.03 L472.70,99.71 L473.35,95.57 L474.00,93.97 L474.62,91.66 L475.25,87.32 L475.88,82.02 L476.50,80.03 L477.12,78.26 L477.75,74.90 L478.38,71.71 L479.00,70.32 L479.62,69.17 L480.25,68.56 L480.88,67.15 L481.50,66.71 L482.17,67.26 L482.83,67.91 L483.50,68.27 L484.17,69.78 L484.83,71.38 L485.50,72.64 L486.17,73.55 L486.83,75.69 L487.50,76.93 L488.12,77.78 L488.74,79.76 L489.36,81.66 L489.98,83.96 L490.60,85.00 L491.27,85.12 L491.93,86.55 L492.60,88.89 L493.27,91.05 L493.93,92.52 L494.60,93.19 L495.27,93.38 L495.93,94.48 L496.60,95.58 L497.27,96.77 L497.93,97.48 L498.60,97.63 L499.21,97.78 L499.82,98.17 L500.43,98.39 L501.04,98.59 L501.65,98.99 L502.26,99.31 L502.87,99.77 L503.48,99.85 L504.09,99.52 L504.70,100.16 L505.30,99.95 L505.90,100.02 L506.50,100.08 L507.10,100.80 L507.70,101.06 L508.30,101.37 L508.90,101.54 L509.50,101.73 L510.10,101.53 L510.70,101.66 L511.33,101.65 L511.96,102.28 L512.59,102.32 L513.23,101.91 L513.86,101.85 L514.49,102.24 L515.12,102.25 L515.75,102.75 L516.38,102.57 L517.01,102.28 L517.64,102.44 L518.27,102.49 L518.91,102.48 L519.54,103.03 L520.17,103.16 L520.80,103.14 L521.40,102.90 L522.00,102.81 L522.60,102.68 L523.20,102.90 L523.80,103.03 L524.40,103.03 L525.00,103.34 L525.60,103.37 L526.20,103.82 L526.80,103.40 L527.40,103.87 L528.00,103.48 L528.60,103.74 L529.20,104.05 L529.80,104.22 L530.40,104.16 L531.00,103.90 L531.60,103.87 L532.21,104.30 L532.81,104.37 L533.42,104.11 L534.02,104.13 L534.62,104.34 L535.23,104.54 L535.83,104.37 L536.44,104.88 L537.04,104.78 L537.65,104.77 L538.25,104.53 L538.85,104.85 L539.46,104.79 L540.06,105.18 L540.67,105.44 L541.27,105.53 L541.88,105.11 L542.48,105.51 L543.08,105.57 L543.69,105.63 L544.29,105.67 L544.90,105.69 L545.50,105.70 L545.50,106.00 Z" fill="#12979A" stroke="none" stroke-width="0.3"/>
<line x1="478.40" y1="20.50" x2="478.40" y2="106.00" stroke="#ffffff" stroke-width="0.8" stroke-dasharray="2,1.6" opacity="0.85"/>
<rect x="450.60" y="17.30" width="95.10" height="88.70" fill="none" stroke="#8a8a8a" stroke-width="0.7"/>
<text x="368.30" y="12.10" font-size="9.45" fill="#0d0d0d" stroke="#0d0d0d" stroke-width="0.12">CTCF &amp; RAD21</text>
<text x="468.40" y="12.10" font-size="9.45" fill="#0d0d0d" stroke="#0d0d0d" stroke-width="0.12">CTCF &amp; SMC3</text>
<rect x="407.70" y="22.60" width="5.20" height="4.30" fill="#b3b3b3"/>
<rect x="407.70" y="31.00" width="5.20" height="4.30" fill="#EE7B3E"/>
<rect x="407.70" y="39.40" width="5.20" height="4.30" fill="#12979A"/>
<text x="414.90" y="26.90" font-size="7.5" fill="#333" stroke="#333" stroke-width="0.12">siNC</text>
<text x="414.90" y="35.20" font-size="7.5" fill="#333" stroke="#333" stroke-width="0.12">siNIPBL</text>
<text x="414.90" y="43.70" font-size="7.5" fill="#333" stroke="#333" stroke-width="0.12">siWAPL</text>
<rect x="507.70" y="22.60" width="5.20" height="4.30" fill="#b3b3b3"/>
<rect x="507.70" y="31.00" width="5.20" height="4.30" fill="#EE7B3E"/>
<rect x="507.70" y="39.40" width="5.20" height="4.30" fill="#12979A"/>
<text x="514.80" y="26.90" font-size="7.5" fill="#333" stroke="#333" stroke-width="0.12">siNC</text>
<text x="514.80" y="35.20" font-size="7.5" fill="#333" stroke="#333" stroke-width="0.12">siNIPBL</text>
<text x="514.80" y="43.70" font-size="7.5" fill="#333" stroke="#333" stroke-width="0.12">siWAPL</text>
<text x="345.50" y="83.30" font-size="9.2" text-anchor="middle" fill="#0d0d0d" stroke="#0d0d0d" stroke-width="0.12" transform="rotate(-90 345.50 83.30) ">Cell counts</text>
<line x1="344.00" y1="56.50" x2="344.00" y2="25.20" stroke="#a0a0a0" stroke-width="0.6"/>
<polygon points="344.00,22.00 345.40,25.20 342.60,25.20" fill="#a0a0a0" stroke="none" stroke-width="0.6"/>
<line x1="349.60" y1="114.00" x2="373.40" y2="114.00" stroke="#a0a0a0" stroke-width="0.6"/>
<polygon points="376.60,114.00 373.40,115.40 373.40,112.60" fill="#a0a0a0" stroke="none" stroke-width="0.6"/>
<text x="354.20" y="126.20" font-size="9.5" fill="#0d0d0d" stroke="#0d0d0d" stroke-width="0.12">BiFC</text>
<text x="381.00" y="119.20" font-size="6.0" fill="#0d0d0d" stroke="#0d0d0d" stroke-width="0.12">10<tspan font-size="4.4" dy="-2.8">4</tspan></text>
<text x="421.10" y="119.20" font-size="6.0" fill="#0d0d0d" stroke="#0d0d0d" stroke-width="0.12">10<tspan font-size="4.4" dy="-2.8">5</tspan></text>
<line x1="356.17" y1="106.00" x2="356.17" y2="107.30" stroke="#777" stroke-width="0.4"/>
<line x1="363.23" y1="106.00" x2="363.23" y2="107.30" stroke="#777" stroke-width="0.4"/>
<line x1="368.24" y1="106.00" x2="368.24" y2="107.30" stroke="#777" stroke-width="0.4"/>
<line x1="372.13" y1="106.00" x2="372.13" y2="107.30" stroke="#777" stroke-width="0.4"/>
<line x1="375.30" y1="106.00" x2="375.30" y2="107.30" stroke="#777" stroke-width="0.4"/>
<line x1="377.99" y1="106.00" x2="377.99" y2="107.30" stroke="#777" stroke-width="0.4"/>
<line x1="380.31" y1="106.00" x2="380.31" y2="107.30" stroke="#777" stroke-width="0.4"/>
<line x1="382.37" y1="106.00" x2="382.37" y2="107.30" stroke="#777" stroke-width="0.4"/>
<line x1="384.20" y1="106.00" x2="384.20" y2="108.00" stroke="#777" stroke-width="0.4"/>
<line x1="396.27" y1="106.00" x2="396.27" y2="107.30" stroke="#777" stroke-width="0.4"/>
<line x1="403.33" y1="106.00" x2="403.33" y2="107.30" stroke="#777" stroke-width="0.4"/>
<line x1="408.34" y1="106.00" x2="408.34" y2="107.30" stroke="#777" stroke-width="0.4"/>
<line x1="412.23" y1="106.00" x2="412.23" y2="107.30" stroke="#777" stroke-width="0.4"/>
<line x1="415.40" y1="106.00" x2="415.40" y2="107.30" stroke="#777" stroke-width="0.4"/>
<line x1="418.09" y1="106.00" x2="418.09" y2="107.30" stroke="#777" stroke-width="0.4"/>
<line x1="420.41" y1="106.00" x2="420.41" y2="107.30" stroke="#777" stroke-width="0.4"/>
<line x1="422.47" y1="106.00" x2="422.47" y2="107.30" stroke="#777" stroke-width="0.4"/>
<line x1="424.30" y1="106.00" x2="424.30" y2="108.00" stroke="#777" stroke-width="0.4"/>
<line x1="436.37" y1="106.00" x2="436.37" y2="107.30" stroke="#777" stroke-width="0.4"/>
<line x1="443.43" y1="106.00" x2="443.43" y2="107.30" stroke="#777" stroke-width="0.4"/>
<line x1="449.60" y1="114.00" x2="473.40" y2="114.00" stroke="#a0a0a0" stroke-width="0.6"/>
<polygon points="476.60,114.00 473.40,115.40 473.40,112.60" fill="#a0a0a0" stroke="none" stroke-width="0.6"/>
<text x="454.20" y="126.20" font-size="9.5" fill="#0d0d0d" stroke="#0d0d0d" stroke-width="0.12">BiFC</text>
<text x="481.00" y="119.20" font-size="6.0" fill="#0d0d0d" stroke="#0d0d0d" stroke-width="0.12">10<tspan font-size="4.4" dy="-2.8">4</tspan></text>
<text x="521.10" y="119.20" font-size="6.0" fill="#0d0d0d" stroke="#0d0d0d" stroke-width="0.12">10<tspan font-size="4.4" dy="-2.8">5</tspan></text>
<line x1="456.17" y1="106.00" x2="456.17" y2="107.30" stroke="#777" stroke-width="0.4"/>
<line x1="463.23" y1="106.00" x2="463.23" y2="107.30" stroke="#777" stroke-width="0.4"/>
<line x1="468.24" y1="106.00" x2="468.24" y2="107.30" stroke="#777" stroke-width="0.4"/>
<line x1="472.13" y1="106.00" x2="472.13" y2="107.30" stroke="#777" stroke-width="0.4"/>
<line x1="475.30" y1="106.00" x2="475.30" y2="107.30" stroke="#777" stroke-width="0.4"/>
<line x1="477.99" y1="106.00" x2="477.99" y2="107.30" stroke="#777" stroke-width="0.4"/>
<line x1="480.31" y1="106.00" x2="480.31" y2="107.30" stroke="#777" stroke-width="0.4"/>
<line x1="482.37" y1="106.00" x2="482.37" y2="107.30" stroke="#777" stroke-width="0.4"/>
<line x1="484.20" y1="106.00" x2="484.20" y2="108.00" stroke="#777" stroke-width="0.4"/>
<line x1="496.27" y1="106.00" x2="496.27" y2="107.30" stroke="#777" stroke-width="0.4"/>
<line x1="503.33" y1="106.00" x2="503.33" y2="107.30" stroke="#777" stroke-width="0.4"/>
<line x1="508.34" y1="106.00" x2="508.34" y2="107.30" stroke="#777" stroke-width="0.4"/>
<line x1="512.23" y1="106.00" x2="512.23" y2="107.30" stroke="#777" stroke-width="0.4"/>
<line x1="515.40" y1="106.00" x2="515.40" y2="107.30" stroke="#777" stroke-width="0.4"/>
<line x1="518.09" y1="106.00" x2="518.09" y2="107.30" stroke="#777" stroke-width="0.4"/>
<line x1="520.41" y1="106.00" x2="520.41" y2="107.30" stroke="#777" stroke-width="0.4"/>
<line x1="522.47" y1="106.00" x2="522.47" y2="107.30" stroke="#777" stroke-width="0.4"/>
<line x1="524.30" y1="106.00" x2="524.30" y2="108.00" stroke="#777" stroke-width="0.4"/>
<line x1="536.37" y1="106.00" x2="536.37" y2="107.30" stroke="#777" stroke-width="0.4"/>
<line x1="543.43" y1="106.00" x2="543.43" y2="107.30" stroke="#777" stroke-width="0.4"/>
<line x1="582.70" y1="17.20" x2="582.70" y2="106.30" stroke="#333" stroke-width="0.7"/>
<line x1="582.70" y1="106.30" x2="656.00" y2="106.30" stroke="#333" stroke-width="0.7"/>
<line x1="580.70" y1="106.30" x2="582.70" y2="106.30" stroke="#333" stroke-width="0.6"/>
<text x="580.30" y="109.60" font-size="9.3" text-anchor="end" fill="#0d0d0d" stroke="#0d0d0d" stroke-width="0.12">0.0</text>
<line x1="580.70" y1="76.60" x2="582.70" y2="76.60" stroke="#333" stroke-width="0.6"/>
<text x="580.30" y="79.90" font-size="9.3" text-anchor="end" fill="#0d0d0d" stroke="#0d0d0d" stroke-width="0.12">0.5</text>
<line x1="580.70" y1="46.90" x2="582.70" y2="46.90" stroke="#333" stroke-width="0.6"/>
<text x="580.30" y="50.20" font-size="9.3" text-anchor="end" fill="#0d0d0d" stroke="#0d0d0d" stroke-width="0.12">1.0</text>
<line x1="580.70" y1="17.20" x2="582.70" y2="17.20" stroke="#333" stroke-width="0.6"/>
<text x="580.30" y="20.50" font-size="9.3" text-anchor="end" fill="#0d0d0d" stroke="#0d0d0d" stroke-width="0.12">1.5</text>
<line x1="581.50" y1="91.45" x2="582.70" y2="91.45" stroke="#555" stroke-width="0.4"/>
<line x1="581.50" y1="61.75" x2="582.70" y2="61.75" stroke="#555" stroke-width="0.4"/>
<line x1="581.50" y1="32.05" x2="582.70" y2="32.05" stroke="#555" stroke-width="0.4"/>
<rect x="591.80" y="58.78" width="9.00" height="47.52" fill="#b3b3b3"/>
<line x1="596.30" y1="55.81" x2="596.30" y2="58.78" stroke="#555" stroke-width="0.5"/>
<line x1="595.00" y1="55.81" x2="597.60" y2="55.81" stroke="#555" stroke-width="0.5"/>
<circle cx="594.10" cy="59.37" r="1.3" fill="#ffffff" fill-opacity="0.35" stroke="#dddddd" stroke-width="0.3"/>
<circle cx="596.30" cy="57.00" r="1.3" fill="#ffffff" fill-opacity="0.35" stroke="#dddddd" stroke-width="0.3"/>
<circle cx="598.50" cy="59.97" r="1.3" fill="#ffffff" fill-opacity="0.35" stroke="#dddddd" stroke-width="0.3"/>
<rect x="601.50" y="75.41" width="8.60" height="30.89" fill="#EE7B3E"/>
<line x1="605.80" y1="73.63" x2="605.80" y2="75.41" stroke="#555" stroke-width="0.5"/>
<line x1="604.50" y1="73.63" x2="607.10" y2="73.63" stroke="#555" stroke-width="0.5"/>
<circle cx="603.60" cy="76.01" r="1.3" fill="#ffffff" fill-opacity="0.35" stroke="#dddddd" stroke-width="0.3"/>
<circle cx="605.80" cy="74.34" r="1.3" fill="#ffffff" fill-opacity="0.35" stroke="#dddddd" stroke-width="0.3"/>
<circle cx="608.00" cy="76.60" r="1.3" fill="#ffffff" fill-opacity="0.35" stroke="#dddddd" stroke-width="0.3"/>
<rect x="611.00" y="32.05" width="9.00" height="74.25" fill="#12979A"/>
<line x1="615.50" y1="26.70" x2="615.50" y2="32.05" stroke="#555" stroke-width="0.5"/>
<line x1="614.20" y1="26.70" x2="616.80" y2="26.70" stroke="#555" stroke-width="0.5"/>
<circle cx="613.30" cy="32.64" r="1.3" fill="#ffffff" fill-opacity="0.35" stroke="#dddddd" stroke-width="0.3"/>
<circle cx="615.50" cy="28.84" r="1.3" fill="#ffffff" fill-opacity="0.35" stroke="#dddddd" stroke-width="0.3"/>
<circle cx="617.70" cy="33.24" r="1.3" fill="#ffffff" fill-opacity="0.35" stroke="#dddddd" stroke-width="0.3"/>
<rect x="627.30" y="57.59" width="8.50" height="48.71" fill="#b3b3b3"/>
<line x1="631.55" y1="57.00" x2="631.55" y2="57.59" stroke="#555" stroke-width="0.5"/>
<line x1="630.25" y1="57.00" x2="632.85" y2="57.00" stroke="#555" stroke-width="0.5"/>
<circle cx="629.35" cy="58.19" r="1.3" fill="#ffffff" fill-opacity="0.35" stroke="#dddddd" stroke-width="0.3"/>
<circle cx="631.55" cy="57.24" r="1.3" fill="#ffffff" fill-opacity="0.35" stroke="#dddddd" stroke-width="0.3"/>
<circle cx="633.75" cy="58.78" r="1.3" fill="#ffffff" fill-opacity="0.35" stroke="#dddddd" stroke-width="0.3"/>
<rect x="636.40" y="63.53" width="8.40" height="42.77" fill="#EE7B3E"/>
<line x1="640.60" y1="62.34" x2="640.60" y2="63.53" stroke="#555" stroke-width="0.5"/>
<line x1="639.30" y1="62.34" x2="641.90" y2="62.34" stroke="#555" stroke-width="0.5"/>
<circle cx="638.40" cy="64.13" r="1.3" fill="#ffffff" fill-opacity="0.35" stroke="#dddddd" stroke-width="0.3"/>
<circle cx="640.60" cy="62.82" r="1.3" fill="#ffffff" fill-opacity="0.35" stroke="#dddddd" stroke-width="0.3"/>
<circle cx="642.80" cy="64.72" r="1.3" fill="#ffffff" fill-opacity="0.35" stroke="#dddddd" stroke-width="0.3"/>
<rect x="645.80" y="49.28" width="8.70" height="57.02" fill="#12979A"/>
<line x1="650.15" y1="45.71" x2="650.15" y2="49.28" stroke="#555" stroke-width="0.5"/>
<line x1="648.85" y1="45.71" x2="651.45" y2="45.71" stroke="#555" stroke-width="0.5"/>
<circle cx="647.95" cy="49.87" r="1.3" fill="#ffffff" fill-opacity="0.35" stroke="#dddddd" stroke-width="0.3"/>
<circle cx="650.15" cy="47.14" r="1.3" fill="#ffffff" fill-opacity="0.35" stroke="#dddddd" stroke-width="0.3"/>
<circle cx="652.35" cy="50.46" r="1.3" fill="#ffffff" fill-opacity="0.35" stroke="#dddddd" stroke-width="0.3"/>
<polyline points="596.40,50.00 596.40,15.70 615.60,15.70 615.60,20.00" fill="none" stroke="#333" stroke-width="0.5"/>
<text x="606.00" y="15.60" font-size="6.0" text-anchor="middle" fill="#333" stroke="#333" stroke-width="0.12">***</text>
<polyline points="596.40,50.00 596.40,32.30 605.50,32.30 605.50,70.60" fill="none" stroke="#333" stroke-width="0.5"/>
<text x="600.95" y="32.20" font-size="6.0" text-anchor="middle" fill="#333" stroke="#333" stroke-width="0.12">**</text>
<polyline points="631.30,53.00 631.30,34.90 649.90,34.90 649.90,39.30" fill="none" stroke="#333" stroke-width="0.5"/>
<text x="640.60" y="34.80" font-size="6.0" text-anchor="middle" fill="#333" stroke="#333" stroke-width="0.12">**</text>
<polyline points="631.30,53.00 631.30,43.00 640.20,43.00 640.20,60.50" fill="none" stroke="#333" stroke-width="0.5"/>
<text x="635.75" y="42.90" font-size="6.0" text-anchor="middle" fill="#333" stroke="#333" stroke-width="0.12">*</text>
<text x="560.50" y="60.50" font-size="9.0" text-anchor="middle" fill="#0d0d0d" stroke="#0d0d0d" stroke-width="0.12" transform="rotate(-90 560.50 60.50) ">MFI (× 10<tspan font-size="5.5" dy="-3">4</tspan><tspan dy="3">)</tspan></text>
<text x="604.50" y="118.00" font-size="9.5" text-anchor="middle" fill="#0d0d0d" stroke="#0d0d0d" stroke-width="0.12">CTCF</text>
<text x="641.80" y="118.00" font-size="9.5" text-anchor="middle" fill="#0d0d0d" stroke="#0d0d0d" stroke-width="0.12">CTCF</text>
<text x="604.50" y="129.10" font-size="9.5" text-anchor="middle" fill="#0d0d0d" stroke="#0d0d0d" stroke-width="0.12">RAD21</text>
<text x="641.80" y="129.10" font-size="9.5" text-anchor="middle" fill="#0d0d0d" stroke="#0d0d0d" stroke-width="0.12">SMC3</text>
<rect x="650.90" y="6.30" width="5.10" height="4.20" fill="#b3b3b3"/>
<text x="657.30" y="10.40" font-size="7.6" fill="#333" stroke="#333" stroke-width="0.12">siNC</text>
<rect x="650.90" y="14.40" width="5.10" height="4.20" fill="#EE7B3E"/>
<text x="657.30" y="18.50" font-size="7.6" fill="#333" stroke="#333" stroke-width="0.12">siNIPBL</text>
<rect x="650.90" y="22.50" width="5.10" height="4.20" fill="#12979A"/>
<text x="657.30" y="26.60" font-size="7.6" fill="#333" stroke="#333" stroke-width="0.12">siWAPL</text>
<text x="221.70" y="153.70" font-size="13" font-weight="bold" fill="#000" stroke="#000" stroke-width="0.55">c</text>
<text x="230.70" y="171.60" font-size="9.8" fill="#0d0d0d" stroke="#0d0d0d" stroke-width="0.12">Pool of&#160; sgRNA</text>
<text x="230.70" y="183.60" font-size="9.8" fill="#0d0d0d" stroke="#0d0d0d" stroke-width="0.12">target 1087 genes</text>
<text x="230.70" y="195.50" font-size="9.8" fill="#0d0d0d" stroke="#0d0d0d" stroke-width="0.12">(~10 guides/gene)</text>
<line x1="252.32" y1="217.30" x2="254.05" y2="218.30" stroke="#555" stroke-width="0.5"/>
<circle cx="254.05" cy="218.30" r="0.45" fill="#444"/>
<line x1="249.20" y1="219.10" x2="249.20" y2="221.10" stroke="#555" stroke-width="0.5"/>
<circle cx="249.20" cy="221.10" r="0.45" fill="#444"/>
<line x1="246.08" y1="217.30" x2="244.35" y2="218.30" stroke="#555" stroke-width="0.5"/>
<circle cx="244.35" cy="218.30" r="0.45" fill="#444"/>
<line x1="246.08" y1="213.70" x2="244.35" y2="212.70" stroke="#555" stroke-width="0.5"/>
<circle cx="244.35" cy="212.70" r="0.45" fill="#444"/>
<line x1="249.20" y1="211.90" x2="249.20" y2="209.90" stroke="#555" stroke-width="0.5"/>
<circle cx="249.20" cy="209.90" r="0.45" fill="#444"/>
<line x1="252.32" y1="213.70" x2="254.05" y2="212.70" stroke="#555" stroke-width="0.5"/>
<circle cx="254.05" cy="212.70" r="0.45" fill="#444"/>
<circle cx="249.2" cy="215.5" r="3.6" fill="#f6b4a0" stroke="#c88a78" stroke-width="0.4"/>
<line x1="241.82" y1="232.20" x2="243.55" y2="233.20" stroke="#555" stroke-width="0.5"/>
<circle cx="243.55" cy="233.20" r="0.45" fill="#444"/>
<line x1="238.70" y1="234.00" x2="238.70" y2="236.00" stroke="#555" stroke-width="0.5"/>
<circle cx="238.70" cy="236.00" r="0.45" fill="#444"/>
<line x1="235.58" y1="232.20" x2="233.85" y2="233.20" stroke="#555" stroke-width="0.5"/>
<circle cx="233.85" cy="233.20" r="0.45" fill="#444"/>
<line x1="235.58" y1="228.60" x2="233.85" y2="227.60" stroke="#555" stroke-width="0.5"/>
<circle cx="233.85" cy="227.60" r="0.45" fill="#444"/>
<line x1="238.70" y1="226.80" x2="238.70" y2="224.80" stroke="#555" stroke-width="0.5"/>
<circle cx="238.70" cy="224.80" r="0.45" fill="#444"/>
<line x1="241.82" y1="228.60" x2="243.55" y2="227.60" stroke="#555" stroke-width="0.5"/>
<circle cx="243.55" cy="227.60" r="0.45" fill="#444"/>
<circle cx="238.7" cy="230.4" r="3.6" fill="#f6b4a0" stroke="#c88a78" stroke-width="0.4"/>
<line x1="255.82" y1="234.00" x2="257.55" y2="235.00" stroke="#555" stroke-width="0.5"/>
<circle cx="257.55" cy="235.00" r="0.45" fill="#444"/>
<line x1="252.70" y1="235.80" x2="252.70" y2="237.80" stroke="#555" stroke-width="0.5"/>
<circle cx="252.70" cy="237.80" r="0.45" fill="#444"/>
<line x1="249.58" y1="234.00" x2="247.85" y2="235.00" stroke="#555" stroke-width="0.5"/>
<circle cx="247.85" cy="235.00" r="0.45" fill="#444"/>
<line x1="249.58" y1="230.40" x2="247.85" y2="229.40" stroke="#555" stroke-width="0.5"/>
<circle cx="247.85" cy="229.40" r="0.45" fill="#444"/>
<line x1="252.70" y1="228.60" x2="252.70" y2="226.60" stroke="#555" stroke-width="0.5"/>
<circle cx="252.70" cy="226.60" r="0.45" fill="#444"/>
<line x1="255.82" y1="230.40" x2="257.55" y2="229.40" stroke="#555" stroke-width="0.5"/>
<circle cx="257.55" cy="229.40" r="0.45" fill="#444"/>
<circle cx="252.7" cy="232.2" r="3.6" fill="#f6b4a0" stroke="#c88a78" stroke-width="0.4"/>
<path d="M232.20,250.22 L232.20,252.75 A12.85,3.95 0 0 0 257.90,252.75 L257.90,250.22 A12.85,3.95 0 0 0 232.20,250.22 Z" fill="#f6b49a" stroke="none" stroke-width="0.6"/>
<ellipse cx="245.05" cy="251.60" rx="12.21" ry="4.15" fill="url(#gDishR)"/>
<path d="M232.20,244.85 L232.20,252.75 A12.85,3.95 0 0 0 257.90,252.75 L257.90,244.85" fill="none" stroke="#4a4a4a" stroke-width="0.6"/>
<ellipse cx="245.05" cy="244.85" rx="12.85" ry="3.95" fill="none" stroke="#4a4a4a" stroke-width="0.6"/>
<text x="272.80" y="242.70" font-size="9.7" fill="#0d0d0d" stroke="#0d0d0d" stroke-width="0.12">Puromycin</text>
<line x1="281.60" y1="250.50" x2="305.50" y2="250.50" stroke="#b0b0b0" stroke-width="2.6"/>
<polygon points="310.50,250.50 305.50,253.50 305.50,247.50" fill="#b0b0b0" stroke="none" stroke-width="0.6"/>
<text x="281.20" y="263.20" font-size="9.7" fill="#0d0d0d" stroke="#0d0d0d" stroke-width="0.12">7 days</text>
<polygon points="235.10,284.10 244.70,284.10 244.70,282.20 249.50,286.00 244.70,289.80 244.70,287.90 235.10,287.90" fill="#fff" stroke="#555" stroke-width="0.6"/>
<text x="234.60" y="301.00" font-size="9.8" fill="#0d0d0d" stroke="#0d0d0d" stroke-width="0.12">guide RNA sequencing</text>
<path d="M319.60,251.59 L319.60,254.05 A12.55,3.85 0 0 0 344.70,254.05 L344.70,251.59 A12.55,3.85 0 0 0 319.60,251.59 Z" fill="#f6b49a" stroke="none" stroke-width="0.6"/>
<ellipse cx="332.15" cy="252.93" rx="11.92" ry="4.04" fill="url(#gDishR)"/>
<path d="M319.60,246.35 L319.60,254.05 A12.55,3.85 0 0 0 344.70,254.05 L344.70,246.35" fill="none" stroke="#4a4a4a" stroke-width="0.6"/>
<ellipse cx="332.15" cy="246.35" rx="12.55" ry="3.85" fill="none" stroke="#4a4a4a" stroke-width="0.6"/>
<text x="321.40" y="216.60" font-size="9.8" fill="#0d0d0d" stroke="#0d0d0d" stroke-width="0.12">Input</text>
<polygon points="330.90,236.40 330.90,228.00 329.00,228.00 332.80,223.20 336.60,228.00 334.70,228.00 334.70,236.40" fill="#fff" stroke="#555" stroke-width="0.6"/>
<line x1="349.40" y1="222.30" x2="370.83" y2="210.42" stroke="#b0b0b0" stroke-width="2.6"/>
<polygon points="375.20,208.00 372.28,213.05 369.37,207.80" fill="#b0b0b0" stroke="none" stroke-width="0.6"/>
<line x1="349.40" y1="266.70" x2="369.65" y2="278.23" stroke="#b0b0b0" stroke-width="2.6"/>
<polygon points="374.00,280.70 368.17,280.83 371.14,275.62" fill="#b0b0b0" stroke="none" stroke-width="0.6"/>
<text x="362.20" y="158.00" font-size="9.8" fill="#0d0d0d" stroke="#0d0d0d" stroke-width="0.12">Transfection</text>
<text x="361.90" y="171.90" font-size="9.8" fill="#0d0d0d" stroke="#0d0d0d" stroke-width="0.12">CTCF-YFPc</text>
<text x="361.90" y="183.40" font-size="9.8" fill="#0d0d0d" stroke="#0d0d0d" stroke-width="0.12">Cohesin-YFPn</text>
<path d="M380.40,198.39 L380.40,200.78 A12.80,3.73 0 0 0 406.00,200.78 L406.00,198.39 A12.80,3.73 0 0 0 380.40,198.39 Z" fill="#f6b49a" stroke="none" stroke-width="0.6"/>
<ellipse cx="393.20" cy="199.69" rx="12.16" ry="3.91" fill="url(#gDishR)"/>
<path d="M380.40,193.32 L380.40,200.78 A12.80,3.73 0 0 0 406.00,200.78 L406.00,193.32" fill="none" stroke="#4a4a4a" stroke-width="0.6"/>
<ellipse cx="393.20" cy="193.32" rx="12.80" ry="3.73" fill="none" stroke="#4a4a4a" stroke-width="0.6"/>
<text x="379.70" y="268.40" font-size="9.8" fill="#0d0d0d" stroke="#0d0d0d" stroke-width="0.12">YFPc</text>
<text x="379.70" y="279.80" font-size="9.8" fill="#0d0d0d" stroke="#0d0d0d" stroke-width="0.12">YFPn</text>
<path d="M380.40,294.43 L380.40,296.88 A12.80,3.83 0 0 0 406.00,296.88 L406.00,294.43 A12.80,3.83 0 0 0 380.40,294.43 Z" fill="#f6b49a" stroke="none" stroke-width="0.6"/>
<ellipse cx="393.20" cy="295.77" rx="12.16" ry="4.02" fill="url(#gDishR)"/>
<path d="M380.40,289.22 L380.40,296.88 A12.80,3.83 0 0 0 406.00,296.88 L406.00,289.22" fill="none" stroke="#4a4a4a" stroke-width="0.6"/>
<ellipse cx="393.20" cy="289.22" rx="12.80" ry="3.83" fill="none" stroke="#4a4a4a" stroke-width="0.6"/>
<line x1="411.70" y1="195.90" x2="435.00" y2="195.90" stroke="#b0b0b0" stroke-width="2.6"/>
<polygon points="440.00,195.90 435.00,198.90 435.00,192.90" fill="#b0b0b0" stroke="none" stroke-width="0.6"/>
<line x1="411.50" y1="293.40" x2="435.00" y2="293.40" stroke="#b0b0b0" stroke-width="2.6"/>
<polygon points="440.00,293.40 435.00,296.40 435.00,290.40" fill="#b0b0b0" stroke="none" stroke-width="0.6"/>
<text x="446.20" y="168.40" font-size="9.8" fill="#0d0d0d" stroke="#0d0d0d" stroke-width="0.12">Cell sorting</text>
<rect x="450.20" y="177.50" width="40.60" height="29.40" fill="none" stroke="#555" stroke-width="0.6"/>
<polygon points="450.20,206.68 450.71,206.62 451.21,206.55 451.72,206.46 452.23,206.35 452.74,206.21 453.25,206.05 453.75,205.86 454.26,205.64 454.77,205.37 455.27,205.06 455.78,204.70 456.29,204.28 456.80,203.81 457.31,203.27 457.81,202.66 457.81,206.90 450.20,206.90" fill="#6a6a6a" stroke="none" stroke-width="0.6"/>
<polygon points="483.19,201.87 483.69,202.50 484.20,203.07 484.71,203.58 485.22,204.04 485.73,204.45 486.23,204.81 486.74,205.12 487.25,205.40 487.75,205.64 488.26,205.85 488.77,206.02 489.28,206.17 489.79,206.30 490.29,206.41 490.80,206.50 490.80,206.90 483.19,206.90" fill="#6a6a6a" stroke="none" stroke-width="0.6"/>
<polyline points="450.20,206.68 450.71,206.62 451.21,206.55 451.72,206.46 452.23,206.35 452.74,206.21 453.25,206.05 453.75,205.86 454.26,205.64 454.77,205.37 455.27,205.06 455.78,204.70 456.29,204.28 456.80,203.81 457.31,203.27 457.81,202.66 458.32,201.99 458.83,201.24 459.33,200.41 459.84,199.52 460.35,198.55 460.86,197.51 461.37,196.41 461.87,195.25 462.38,194.05 462.89,192.81 463.39,191.54 463.90,190.26 464.41,188.99 464.92,187.74 465.43,186.52 465.93,185.37 466.44,184.29 466.95,183.30 467.45,182.42 467.96,181.66 468.47,181.05 468.98,180.58 469.49,180.26 469.99,180.11 470.50,180.12 471.01,180.27 471.51,180.56 472.02,180.97 472.53,181.50 473.04,182.16 473.55,182.92 474.05,183.77 474.56,184.71 475.07,185.71 475.57,186.78 476.08,187.89 476.59,189.03 477.10,190.18 477.61,191.34 478.11,192.50 478.62,193.63 479.13,194.74 479.63,195.82 480.14,196.85 480.65,197.83 481.16,198.75 481.67,199.62 482.17,200.43 482.68,201.18 483.19,201.87 483.69,202.50 484.20,203.07 484.71,203.58 485.22,204.04 485.73,204.45 486.23,204.81 486.74,205.12 487.25,205.40 487.75,205.64 488.26,205.85 488.77,206.02 489.28,206.17 489.79,206.30 490.29,206.41 490.80,206.50" fill="none" stroke="#1a1a1a" stroke-width="0.9"/>
<line x1="449.70" y1="206.90" x2="491.30" y2="206.90" stroke="#222" stroke-width="1.0"/>
<rect x="451.40" y="260.50" width="40.30" height="29.40" fill="none" stroke="#555" stroke-width="0.6"/>
<polygon points="451.40,289.60 451.90,289.52 452.41,289.42 452.91,289.30 453.41,289.16 453.92,288.99 454.42,288.79 454.93,288.55 455.43,288.27 455.93,287.95 456.44,287.58 456.94,287.15 457.44,286.66 457.95,286.10 458.45,285.48 458.96,284.79 458.96,289.90 451.40,289.90" fill="#6a6a6a" stroke="none" stroke-width="0.6"/>
<polygon points="484.14,285.44 484.65,286.01 485.15,286.52 485.65,286.98 486.16,287.40 486.66,287.76 487.17,288.08 487.67,288.36 488.17,288.60 488.68,288.81 489.18,288.99 489.69,289.15 490.19,289.28 490.69,289.39 491.20,289.48 491.70,289.56 491.70,289.90 484.14,289.90" fill="#6a6a6a" stroke="none" stroke-width="0.6"/>
<polyline points="451.40,289.60 451.90,289.52 452.41,289.42 452.91,289.30 453.41,289.16 453.92,288.99 454.42,288.79 454.93,288.55 455.43,288.27 455.93,287.95 456.44,287.58 456.94,287.15 457.44,286.66 457.95,286.10 458.45,285.48 458.96,284.79 459.46,284.03 459.96,283.19 460.47,282.29 460.97,281.31 461.47,280.26 461.98,279.16 462.48,278.00 462.99,276.79 463.49,275.55 463.99,274.29 464.50,273.02 465.00,271.76 465.50,270.52 466.01,269.33 466.51,268.19 467.02,267.13 467.52,266.17 468.02,265.31 468.53,264.58 469.03,263.98 469.53,263.53 470.04,263.24 470.54,263.11 471.05,263.13 471.55,263.29 472.05,263.58 472.56,264.00 473.06,264.54 473.56,265.20 474.07,265.95 474.57,266.80 475.08,267.74 475.58,268.74 476.08,269.80 476.59,270.90 477.09,272.03 477.59,273.18 478.10,274.33 478.60,275.47 479.11,276.60 479.61,277.71 480.11,278.77 480.62,279.80 481.12,280.77 481.62,281.70 482.13,282.56 482.63,283.37 483.14,284.12 483.64,284.81 484.14,285.44 484.65,286.01 485.15,286.52 485.65,286.98 486.16,287.40 486.66,287.76 487.17,288.08 487.67,288.36 488.17,288.60 488.68,288.81 489.18,288.99 489.69,289.15 490.19,289.28 490.69,289.39 491.20,289.48 491.70,289.56" fill="none" stroke="#1a1a1a" stroke-width="0.9"/>
<line x1="450.90" y1="289.90" x2="492.20" y2="289.90" stroke="#222" stroke-width="1.0"/>
<polygon points="453.60,208.70 453.60,213.50 451.70,213.50 455.50,218.30 459.30,213.50 457.40,213.50 457.40,208.70" fill="#fff" stroke="#555" stroke-width="0.6"/>
<polygon points="483.30,208.70 483.30,213.50 481.40,213.50 485.20,218.30 489.00,213.50 487.10,213.50 487.10,208.70" fill="#fff" stroke="#555" stroke-width="0.6"/>
<polygon points="454.30,291.20 454.30,296.50 452.40,296.50 456.20,301.30 460.00,296.50 458.10,296.50 458.10,291.20" fill="#fff" stroke="#555" stroke-width="0.6"/>
<polygon points="484.00,291.20 484.00,296.50 482.10,296.50 485.90,301.30 489.70,296.50 487.80,296.50 487.80,291.20" fill="#fff" stroke="#555" stroke-width="0.6"/>
<text x="447.90" y="227.10" font-size="9.8" fill="#0d0d0d" stroke="#0d0d0d" stroke-width="0.12">low</text>
<text x="478.20" y="227.10" font-size="9.8" fill="#0d0d0d" stroke="#0d0d0d" stroke-width="0.12">high</text>
<text x="448.40" y="310.00" font-size="9.8" fill="#0d0d0d" stroke="#0d0d0d" stroke-width="0.12">low</text>
<text x="478.90" y="310.00" font-size="9.8" fill="#0d0d0d" stroke="#0d0d0d" stroke-width="0.12">high</text>
<text x="0.00" y="343.50" font-size="13" font-weight="bold" fill="#000" stroke="#000" stroke-width="0.55">d</text>
<rect x="62.20" y="409.00" width="27.90" height="9.60" fill="#b3f0c8"/>
<rect x="91.90" y="409.00" width="27.80" height="9.60" fill="#35e073"/>
<rect x="121.80" y="409.00" width="27.40" height="9.60" fill="#15a83a"/>
<rect x="154.80" y="409.00" width="24.00" height="9.60" fill="#f5f0f5"/>
<rect x="180.60" y="409.00" width="24.10" height="9.60" fill="#dcd6ea"/>
<rect x="206.20" y="409.00" width="24.20" height="9.60" fill="#cbc6e2"/>
<text x="237.50" y="417.20" font-size="9.55" fill="#0d0d0d" stroke="#0d0d0d" stroke-width="0.12">INO80</text>
<rect x="62.20" y="419.93" width="27.90" height="9.60" fill="#e3faea"/>
<rect x="91.90" y="419.93" width="27.80" height="9.60" fill="#3fe07b"/>
<rect x="121.80" y="419.93" width="27.40" height="9.60" fill="#14a83a"/>
<rect x="154.80" y="419.93" width="24.00" height="9.60" fill="#efebf3"/>
<rect x="180.60" y="419.93" width="24.10" height="9.60" fill="#efebf3"/>
<rect x="206.20" y="419.93" width="24.20" height="9.60" fill="#f7f3f7"/>
<text x="237.50" y="428.13" font-size="9.55" fill="#0d0d0d" stroke="#0d0d0d" stroke-width="0.12">UBE2A</text>
<rect x="62.20" y="430.86" width="27.90" height="9.60" fill="#ffebe5"/>
<rect x="91.90" y="430.86" width="27.80" height="9.60" fill="#3fe47d"/>
<rect x="121.80" y="430.86" width="27.40" height="9.60" fill="#1a9e33"/>
<rect x="154.80" y="430.86" width="24.00" height="9.60" fill="#5a4e9c"/>
<rect x="180.60" y="430.86" width="24.10" height="9.60" fill="#4b3f8e"/>
<rect x="206.20" y="430.86" width="24.20" height="9.60" fill="#8b1a1a"/>
<text x="237.50" y="439.06" font-size="9.55" fill="#0d0d0d" stroke="#0d0d0d" stroke-width="0.12">TLK2</text>
<rect x="62.20" y="441.79" width="27.90" height="9.60" fill="#bff5d2"/>
<rect x="91.90" y="441.79" width="27.80" height="9.60" fill="#55e88a"/>
<rect x="121.80" y="441.79" width="27.40" height="9.60" fill="#228b28"/>
<rect x="154.80" y="441.79" width="24.00" height="9.60" fill="#e2dcec"/>
<rect x="180.60" y="441.79" width="24.10" height="9.60" fill="#dcd6ea"/>
<rect x="206.20" y="441.79" width="24.20" height="9.60" fill="#f5f0f5"/>
<text x="237.50" y="449.99" font-size="9.55" fill="#0d0d0d" stroke="#0d0d0d" stroke-width="0.12">DKC1</text>
<rect x="62.20" y="452.72" width="27.90" height="9.60" fill="#ffffff"/>
<rect x="91.90" y="452.72" width="27.80" height="9.60" fill="#66eb98"/>
<rect x="121.80" y="452.72" width="27.40" height="9.60" fill="#228b28"/>
<rect x="154.80" y="452.72" width="24.00" height="9.60" fill="#fdf8f8"/>
<rect x="180.60" y="452.72" width="24.10" height="9.60" fill="#efebf3"/>
<rect x="206.20" y="452.72" width="24.20" height="9.60" fill="#fdf8f8"/>
<text x="237.50" y="460.92" font-size="9.55" fill="#0d0d0d" stroke="#0d0d0d" stroke-width="0.12">PHF17</text>
<rect x="62.20" y="463.65" width="27.90" height="9.60" fill="#f2fdf5"/>
<rect x="91.90" y="463.65" width="27.80" height="9.60" fill="#10b53c"/>
<rect x="121.80" y="463.65" width="27.40" height="9.60" fill="#1b9832"/>
<rect x="154.80" y="463.65" width="24.00" height="9.60" fill="#e2dcec"/>
<rect x="180.60" y="463.65" width="24.10" height="9.60" fill="#cfc9e4"/>
<rect x="206.20" y="463.65" width="24.20" height="9.60" fill="#a29ccc"/>
<text x="237.50" y="471.85" font-size="9.55" fill="#0d0d0d" stroke="#0d0d0d" stroke-width="0.12">ERBB4</text>
<rect x="62.20" y="474.58" width="27.90" height="9.60" fill="#dcf8e5"/>
<rect x="91.90" y="474.58" width="27.80" height="9.60" fill="#07cf44"/>
<rect x="121.80" y="474.58" width="27.40" height="9.60" fill="#1c9632"/>
<rect x="154.80" y="474.58" width="24.00" height="9.60" fill="#f3eef4"/>
<rect x="180.60" y="474.58" width="24.10" height="9.60" fill="#ece7f1"/>
<rect x="206.20" y="474.58" width="24.20" height="9.60" fill="#cfc9e4"/>
<text x="237.50" y="482.78" font-size="9.55" fill="#0d0d0d" stroke="#0d0d0d" stroke-width="0.12">DNAJC2</text>
<rect x="62.20" y="485.51" width="27.90" height="9.60" fill="#8eefb0"/>
<rect x="91.90" y="485.51" width="27.80" height="9.60" fill="#06c944"/>
<rect x="121.80" y="485.51" width="27.40" height="9.60" fill="#228b22"/>
<rect x="154.80" y="485.51" width="24.00" height="9.60" fill="#8b4500"/>
<rect x="180.60" y="485.51" width="24.10" height="9.60" fill="#8b2500"/>
<rect x="206.20" y="485.51" width="24.20" height="9.60" fill="#8b8b00"/>
<text x="237.50" y="493.71" font-size="9.55" fill="#0d0d0d" stroke="#0d0d0d" stroke-width="0.12">TP53</text>
<rect x="62.20" y="496.44" width="27.90" height="9.60" fill="#a3f0bc"/>
<rect x="91.90" y="496.44" width="27.80" height="9.60" fill="#c1f5d2"/>
<rect x="121.80" y="496.44" width="27.40" height="9.60" fill="#228b22"/>
<rect x="154.80" y="496.44" width="24.00" height="9.60" fill="#efebf3"/>
<rect x="180.60" y="496.44" width="24.10" height="9.60" fill="#d8d3e9"/>
<rect x="206.20" y="496.44" width="24.20" height="9.60" fill="#b0aad4"/>
<text x="237.50" y="504.64" font-size="9.55" fill="#0d0d0d" stroke="#0d0d0d" stroke-width="0.12">DNTTIP2</text>
<rect x="62.20" y="507.37" width="27.90" height="9.60" fill="#a8f0c0"/>
<rect x="91.90" y="507.37" width="27.80" height="9.60" fill="#cff7dc"/>
<rect x="121.80" y="507.37" width="27.40" height="9.60" fill="#228b22"/>
<rect x="154.80" y="507.37" width="24.00" height="9.60" fill="#f5f1f6"/>
<rect x="180.60" y="507.37" width="24.10" height="9.60" fill="#d8d3e9"/>
<rect x="206.20" y="507.37" width="24.20" height="9.60" fill="#f5f1f6"/>
<text x="237.50" y="515.57" font-size="9.55" fill="#0d0d0d" stroke="#0d0d0d" stroke-width="0.12">ZMYM3</text>
<rect x="62.20" y="518.30" width="27.90" height="9.60" fill="#ffe0d8"/>
<rect x="91.90" y="518.30" width="27.80" height="9.60" fill="#d8f8e3"/>
<rect x="121.80" y="518.30" width="27.40" height="9.60" fill="#228b22"/>
<rect x="154.80" y="518.30" width="24.00" height="9.60" fill="#f7f3f7"/>
<rect x="180.60" y="518.30" width="24.10" height="9.60" fill="#ede9f2"/>
<rect x="206.20" y="518.30" width="24.20" height="9.60" fill="#fffaf7"/>
<text x="237.50" y="526.50" font-size="9.55" fill="#0d0d0d" stroke="#0d0d0d" stroke-width="0.12">NONO</text>
<rect x="62.20" y="529.23" width="27.90" height="9.60" fill="#ff8866"/>
<rect x="91.90" y="529.23" width="27.80" height="9.60" fill="#06cf44"/>
<rect x="121.80" y="529.23" width="27.40" height="9.60" fill="#25e56b"/>
<rect x="154.80" y="529.23" width="24.00" height="9.60" fill="#c5c0e0"/>
<rect x="180.60" y="529.23" width="24.10" height="9.60" fill="#b0aad4"/>
<rect x="206.20" y="529.23" width="24.20" height="9.60" fill="#a39dcd"/>
<text x="237.50" y="537.43" font-size="9.55" fill="#0d0d0d" stroke="#0d0d0d" stroke-width="0.12">NIPBL</text>
<rect x="62.20" y="540.16" width="27.90" height="9.60" fill="#d9f8e3"/>
<rect x="91.90" y="540.16" width="27.80" height="9.60" fill="#228b28"/>
<rect x="121.80" y="540.16" width="27.40" height="9.60" fill="#228b28"/>
<rect x="154.80" y="540.16" width="24.00" height="9.60" fill="#e8e4ee"/>
<rect x="180.60" y="540.16" width="24.10" height="9.60" fill="#f0ecf3"/>
<rect x="206.20" y="540.16" width="24.20" height="9.60" fill="#f7f3f7"/>
<text x="237.50" y="548.36" font-size="9.55" fill="#0d0d0d" stroke="#0d0d0d" stroke-width="0.12">USP16</text>
<rect x="62.20" y="551.09" width="27.90" height="9.60" fill="#12ab38"/>
<rect x="91.90" y="551.09" width="27.80" height="9.60" fill="#12ab38"/>
<rect x="121.80" y="551.09" width="27.40" height="9.60" fill="#228b28"/>
<rect x="154.80" y="551.09" width="24.00" height="9.60" fill="#f0ecf3"/>
<rect x="180.60" y="551.09" width="24.10" height="9.60" fill="#e6e2ee"/>
<rect x="206.20" y="551.09" width="24.20" height="9.60" fill="#5a4e9c"/>
<text x="237.50" y="559.29" font-size="9.55" fill="#0d0d0d" stroke="#0d0d0d" stroke-width="0.12">BRD2</text>
<rect x="62.20" y="562.02" width="27.90" height="9.60" fill="#ee4400"/>
<rect x="91.90" y="562.02" width="27.80" height="9.60" fill="#228b28"/>
<rect x="121.80" y="562.02" width="27.40" height="9.60" fill="#07cf44"/>
<rect x="154.80" y="562.02" width="24.00" height="9.60" fill="#ebe7f0"/>
<rect x="180.60" y="562.02" width="24.10" height="9.60" fill="#dcd6ea"/>
<rect x="206.20" y="562.02" width="24.20" height="9.60" fill="#8d86c2"/>
<text x="237.50" y="570.22" font-size="9.55" fill="#0d0d0d" stroke="#0d0d0d" stroke-width="0.12">PRMT5</text>
<rect x="62.20" y="572.95" width="27.90" height="9.60" fill="#ffd0c2"/>
<rect x="91.90" y="572.95" width="27.80" height="9.60" fill="#ff8a6a"/>
<rect x="121.80" y="572.95" width="27.40" height="9.60" fill="#f26838"/>
<rect x="154.80" y="572.95" width="24.00" height="9.60" fill="#f3eff5"/>
<rect x="180.60" y="572.95" width="24.10" height="9.60" fill="#d2cde6"/>
<rect x="206.20" y="572.95" width="24.20" height="9.60" fill="#7a70b2"/>
<text x="237.50" y="581.15" font-size="9.55" fill="#0d0d0d" stroke="#0d0d0d" stroke-width="0.12">CPEB1</text>
<rect x="62.20" y="583.88" width="27.90" height="9.60" fill="#ffebe5"/>
<rect x="91.90" y="583.88" width="27.80" height="9.60" fill="#ff9a7c"/>
<rect x="121.80" y="583.88" width="27.40" height="9.60" fill="#f45c28"/>
<rect x="154.80" y="583.88" width="24.00" height="9.60" fill="#c8c3e2"/>
<rect x="180.60" y="583.88" width="24.10" height="9.60" fill="#a19aca"/>
<rect x="206.20" y="583.88" width="24.20" height="9.60" fill="#a29ccc"/>
<text x="237.50" y="592.08" font-size="9.55" fill="#0d0d0d" stroke="#0d0d0d" stroke-width="0.12">YEATS2</text>
<rect x="62.20" y="594.81" width="27.90" height="9.60" fill="#ffd6ca"/>
<rect x="91.90" y="594.81" width="27.80" height="9.60" fill="#ffcdbd"/>
<rect x="121.80" y="594.81" width="27.40" height="9.60" fill="#f35a26"/>
<rect x="154.80" y="594.81" width="24.00" height="9.60" fill="#d0cbe5"/>
<rect x="180.60" y="594.81" width="24.10" height="9.60" fill="#d0cbe5"/>
<rect x="206.20" y="594.81" width="24.20" height="9.60" fill="#c9c4e2"/>
<text x="237.50" y="603.01" font-size="9.55" fill="#0d0d0d" stroke="#0d0d0d" stroke-width="0.12">RAG2</text>
<rect x="62.20" y="605.74" width="27.90" height="9.60" fill="#e5fbec"/>
<rect x="91.90" y="605.74" width="27.80" height="9.60" fill="#ee4400"/>
<rect x="121.80" y="605.74" width="27.40" height="9.60" fill="#ee4400"/>
<rect x="154.80" y="605.74" width="24.00" height="9.60" fill="#f7f3f7"/>
<rect x="180.60" y="605.74" width="24.10" height="9.60" fill="#e0dbec"/>
<rect x="206.20" y="605.74" width="24.20" height="9.60" fill="#7a70b4"/>
<text x="237.50" y="613.94" font-size="9.55" fill="#0d0d0d" stroke="#0d0d0d" stroke-width="0.12">ELAVL1</text>
<rect x="62.20" y="616.67" width="27.90" height="9.60" fill="#ee4400"/>
<rect x="91.90" y="616.67" width="27.80" height="9.60" fill="#ee4400"/>
<rect x="121.80" y="616.67" width="27.40" height="9.60" fill="#ee4400"/>
<rect x="154.80" y="616.67" width="24.00" height="9.60" fill="#ece8f1"/>
<rect x="180.60" y="616.67" width="24.10" height="9.60" fill="#c9c4e2"/>
<rect x="206.20" y="616.67" width="24.20" height="9.60" fill="#7a70b4"/>
<text x="237.50" y="624.87" font-size="9.55" fill="#0d0d0d" stroke="#0d0d0d" stroke-width="0.12">DNMT1</text>
<text x="77.95" y="404.00" font-size="9.5" fill="#0d0d0d" stroke="#0d0d0d" stroke-width="0.12" transform="rotate(-43 77.95 404.00) ">YFPc &amp; YFPn</text>
<text x="107.60" y="404.00" font-size="9.5" fill="#0d0d0d" stroke="#0d0d0d" stroke-width="0.12" transform="rotate(-43 107.60 404.00) ">CTCF &amp; RAD21</text>
<text x="137.30" y="404.00" font-size="9.5" fill="#0d0d0d" stroke="#0d0d0d" stroke-width="0.12" transform="rotate(-43 137.30 404.00) ">CTCF &amp; SMC3</text>
<text x="168.60" y="404.00" font-size="9.5" fill="#0d0d0d" stroke="#0d0d0d" stroke-width="0.12" transform="rotate(-43 168.60 404.00) ">Breast Cancer</text>
<text x="194.45" y="404.00" font-size="9.5" fill="#0d0d0d" stroke="#0d0d0d" stroke-width="0.12" transform="rotate(-43 194.45 404.00) ">Invasive Breast Cancer</text>
<text x="220.10" y="404.00" font-size="9.5" fill="#0d0d0d" stroke="#0d0d0d" stroke-width="0.12" transform="rotate(-43 220.10 404.00) ">Metastatic Breast Cancer</text>
<line x1="51.50" y1="413.80" x2="52.50" y2="413.80" stroke="#444" stroke-width="0.6"/>
<line x1="51.50" y1="424.73" x2="52.50" y2="424.73" stroke="#444" stroke-width="0.6"/>
<line x1="51.50" y1="413.80" x2="51.50" y2="424.73" stroke="#444" stroke-width="0.6"/>
<line x1="50.00" y1="419.26" x2="51.50" y2="419.26" stroke="#444" stroke-width="0.6"/>
<line x1="50.00" y1="435.66" x2="52.50" y2="435.66" stroke="#444" stroke-width="0.6"/>
<line x1="50.00" y1="419.26" x2="50.00" y2="435.66" stroke="#444" stroke-width="0.6"/>
<line x1="51.00" y1="446.59" x2="52.50" y2="446.59" stroke="#444" stroke-width="0.6"/>
<line x1="51.00" y1="457.52" x2="52.50" y2="457.52" stroke="#444" stroke-width="0.6"/>
<line x1="51.00" y1="446.59" x2="51.00" y2="457.52" stroke="#444" stroke-width="0.6"/>
<line x1="48.50" y1="427.46" x2="50.00" y2="427.46" stroke="#444" stroke-width="0.6"/>
<line x1="48.50" y1="452.06" x2="51.00" y2="452.06" stroke="#444" stroke-width="0.6"/>
<line x1="48.50" y1="427.46" x2="48.50" y2="452.06" stroke="#444" stroke-width="0.6"/>
<line x1="51.50" y1="468.45" x2="52.50" y2="468.45" stroke="#444" stroke-width="0.6"/>
<line x1="51.50" y1="479.38" x2="52.50" y2="479.38" stroke="#444" stroke-width="0.6"/>
<line x1="51.50" y1="468.45" x2="51.50" y2="479.38" stroke="#444" stroke-width="0.6"/>
<line x1="50.50" y1="473.91" x2="51.50" y2="473.91" stroke="#444" stroke-width="0.6"/>
<line x1="50.50" y1="490.31" x2="52.50" y2="490.31" stroke="#444" stroke-width="0.6"/>
<line x1="50.50" y1="473.91" x2="50.50" y2="490.31" stroke="#444" stroke-width="0.6"/>
<line x1="47.00" y1="439.76" x2="48.50" y2="439.76" stroke="#444" stroke-width="0.6"/>
<line x1="47.00" y1="482.11" x2="50.50" y2="482.11" stroke="#444" stroke-width="0.6"/>
<line x1="47.00" y1="439.76" x2="47.00" y2="482.11" stroke="#444" stroke-width="0.6"/>
<line x1="50.30" y1="501.24" x2="52.50" y2="501.24" stroke="#444" stroke-width="0.6"/>
<line x1="50.30" y1="512.17" x2="52.50" y2="512.17" stroke="#444" stroke-width="0.6"/>
<line x1="50.30" y1="501.24" x2="50.30" y2="512.17" stroke="#444" stroke-width="0.6"/>
<line x1="46.20" y1="460.94" x2="47.00" y2="460.94" stroke="#444" stroke-width="0.6"/>
<line x1="46.20" y1="506.70" x2="50.30" y2="506.70" stroke="#444" stroke-width="0.6"/>
<line x1="46.20" y1="460.94" x2="46.20" y2="506.70" stroke="#444" stroke-width="0.6"/>
<line x1="44.80" y1="483.82" x2="46.20" y2="483.82" stroke="#444" stroke-width="0.6"/>
<line x1="44.80" y1="523.10" x2="52.50" y2="523.10" stroke="#444" stroke-width="0.6"/>
<line x1="44.80" y1="483.82" x2="44.80" y2="523.10" stroke="#444" stroke-width="0.6"/>
<line x1="43.00" y1="503.46" x2="44.80" y2="503.46" stroke="#444" stroke-width="0.6"/>
<line x1="43.00" y1="534.03" x2="52.50" y2="534.03" stroke="#444" stroke-width="0.6"/>
<line x1="43.00" y1="503.46" x2="43.00" y2="534.03" stroke="#444" stroke-width="0.6"/>
<line x1="46.10" y1="544.96" x2="52.50" y2="544.96" stroke="#444" stroke-width="0.6"/>
<line x1="46.10" y1="555.89" x2="52.50" y2="555.89" stroke="#444" stroke-width="0.6"/>
<line x1="46.10" y1="544.96" x2="46.10" y2="555.89" stroke="#444" stroke-width="0.6"/>
<line x1="39.80" y1="518.75" x2="43.00" y2="518.75" stroke="#444" stroke-width="0.6"/>
<line x1="39.80" y1="550.42" x2="46.10" y2="550.42" stroke="#444" stroke-width="0.6"/>
<line x1="39.80" y1="518.75" x2="39.80" y2="550.42" stroke="#444" stroke-width="0.6"/>
<line x1="33.50" y1="534.59" x2="39.80" y2="534.59" stroke="#444" stroke-width="0.6"/>
<line x1="33.50" y1="566.82" x2="52.50" y2="566.82" stroke="#444" stroke-width="0.6"/>
<line x1="33.50" y1="534.59" x2="33.50" y2="566.82" stroke="#444" stroke-width="0.6"/>
<line x1="50.70" y1="577.75" x2="52.50" y2="577.75" stroke="#444" stroke-width="0.6"/>
<line x1="50.70" y1="588.68" x2="52.50" y2="588.68" stroke="#444" stroke-width="0.6"/>
<line x1="50.70" y1="577.75" x2="50.70" y2="588.68" stroke="#444" stroke-width="0.6"/>
<line x1="49.30" y1="583.21" x2="50.70" y2="583.21" stroke="#444" stroke-width="0.6"/>
<line x1="49.30" y1="599.61" x2="52.50" y2="599.61" stroke="#444" stroke-width="0.6"/>
<line x1="49.30" y1="583.21" x2="49.30" y2="599.61" stroke="#444" stroke-width="0.6"/>
<line x1="43.00" y1="591.41" x2="49.30" y2="591.41" stroke="#444" stroke-width="0.6"/>
<line x1="43.00" y1="610.54" x2="52.50" y2="610.54" stroke="#444" stroke-width="0.6"/>
<line x1="43.00" y1="591.41" x2="43.00" y2="610.54" stroke="#444" stroke-width="0.6"/>
<line x1="35.20" y1="600.98" x2="43.00" y2="600.98" stroke="#444" stroke-width="0.6"/>
<line x1="35.20" y1="621.47" x2="52.50" y2="621.47" stroke="#444" stroke-width="0.6"/>
<line x1="35.20" y1="600.98" x2="35.20" y2="621.47" stroke="#444" stroke-width="0.6"/>
<line x1="18.90" y1="550.70" x2="33.50" y2="550.70" stroke="#444" stroke-width="0.6"/>
<line x1="18.90" y1="611.22" x2="35.20" y2="611.22" stroke="#444" stroke-width="0.6"/>
<line x1="18.90" y1="550.70" x2="18.90" y2="611.22" stroke="#444" stroke-width="0.6"/>
<defs>
<linearGradient id="gGR" x1="0" x2="1" y1="0" y2="0"><stop offset="0" stop-color="#228b22"/><stop offset="0.25" stop-color="#06cf44"/><stop offset="0.5" stop-color="#ffffff"/><stop offset="0.75" stop-color="#ff9070"/><stop offset="1" stop-color="#ee4400"/></linearGradient>
<linearGradient id="gPU" x1="0" x2="1" y1="0" y2="0"><stop offset="0" stop-color="#ffffff"/><stop offset="0.25" stop-color="#4b3f8e"/><stop offset="0.45" stop-color="#6a2a70"/><stop offset="0.72" stop-color="#9a1010"/><stop offset="1" stop-color="#8b8b00"/></linearGradient>
</defs>
<rect x="77.60" y="640.00" width="62.40" height="4.30" fill="url(#gGR)"/>
<text x="78.40" y="636.60" font-size="7.8" text-anchor="middle" fill="#0d0d0d" stroke="#0d0d0d" stroke-width="0.12">−0.4</text>
<text x="94.40" y="636.60" font-size="7.8" text-anchor="middle" fill="#0d0d0d" stroke="#0d0d0d" stroke-width="0.12">−0.2</text>
<text x="109.70" y="636.60" font-size="7.8" text-anchor="middle" fill="#0d0d0d" stroke="#0d0d0d" stroke-width="0.12">0</text>
<text x="127.30" y="636.60" font-size="7.8" text-anchor="middle" fill="#0d0d0d" stroke="#0d0d0d" stroke-width="0.12">0.2</text>
<text x="141.90" y="636.60" font-size="7.8" text-anchor="middle" fill="#0d0d0d" stroke="#0d0d0d" stroke-width="0.12">0.4</text>
<text x="59.40" y="654.70" font-size="9.85" fill="#0d0d0d" stroke="#0d0d0d" stroke-width="0.12">β score enrichment</text>
<text x="62.30" y="666.10" font-size="9.85" fill="#0d0d0d" stroke="#0d0d0d" stroke-width="0.12">in CRISPR screen</text>
<rect x="162.40" y="640.00" width="59.40" height="4.30" fill="url(#gPU)"/>
<text x="162.80" y="636.60" font-size="7.8" text-anchor="middle" fill="#0d0d0d" stroke="#0d0d0d" stroke-width="0.12">0</text>
<text x="177.40" y="636.60" font-size="7.8" text-anchor="middle" fill="#0d0d0d" stroke="#0d0d0d" stroke-width="0.12">10</text>
<text x="191.20" y="636.60" font-size="7.8" text-anchor="middle" fill="#0d0d0d" stroke="#0d0d0d" stroke-width="0.12">20</text>
<text x="204.70" y="636.60" font-size="7.8" text-anchor="middle" fill="#0d0d0d" stroke="#0d0d0d" stroke-width="0.12">30</text>
<text x="218.60" y="636.60" font-size="7.8" text-anchor="middle" fill="#0d0d0d" stroke="#0d0d0d" stroke-width="0.12">40</text>
<text x="199.60" y="654.70" font-size="9.85" text-anchor="middle" fill="#0d0d0d" stroke="#0d0d0d" stroke-width="0.12">% mutation</text>
<text x="199.60" y="666.10" font-size="9.85" text-anchor="middle" fill="#0d0d0d" stroke="#0d0d0d" stroke-width="0.12">in BRCA patients</text>
<text x="522.70" y="146.40" font-size="13" font-weight="bold" fill="#000" stroke="#000" stroke-width="0.55">e</text>
<rect x="543.50" y="143.30" width="137.20" height="165.80" fill="#ffffff"/>
<line x1="556.00" y1="161.00" x2="680.70" y2="161.00" stroke="#d0d0d0" stroke-width="0.6"/>
<path d="M569.00,161.00 L569.00,161.00 L569.62,159.88 L570.25,158.17 L570.88,156.37 L571.50,155.00 L572.12,153.91 L572.75,152.07 L573.38,150.16 L574.00,148.85 L574.60,148.25 L575.20,148.01 L575.80,147.15 L576.40,146.01 L577.00,145.57 L577.55,145.13 L578.10,145.12 L578.65,144.14 L579.20,143.98 L579.76,144.33 L580.32,144.92 L580.88,144.62 L581.44,145.53 L582.00,145.21 L582.60,146.00 L583.20,146.63 L583.80,146.89 L584.40,147.92 L585.00,147.59 L585.62,148.11 L586.23,148.67 L586.85,149.00 L587.47,149.19 L588.08,149.24 L588.70,149.10 L589.31,150.01 L589.93,150.29 L590.54,151.14 L591.16,151.20 L591.77,152.63 L592.39,153.21 L593.00,153.40 L593.57,153.23 L594.14,153.14 L594.71,153.64 L595.29,154.31 L595.86,154.56 L596.43,154.97 L597.00,155.65 L597.63,155.87 L598.26,155.41 L598.89,155.87 L599.51,156.83 L600.14,156.55 L600.77,157.03 L601.40,157.11 L601.96,157.16 L602.52,157.34 L603.07,157.55 L603.63,157.37 L604.19,157.39 L604.75,156.94 L605.31,157.80 L605.86,157.16 L606.42,157.95 L606.98,157.94 L607.54,157.64 L608.09,157.75 L608.65,158.21 L609.21,158.65 L609.77,158.35 L610.33,158.51 L610.88,158.08 L611.44,158.76 L612.00,158.62 L612.55,158.15 L613.10,158.94 L613.66,158.63 L614.21,158.30 L614.76,158.38 L615.31,159.08 L615.87,159.14 L616.42,159.17 L616.97,158.46 L617.52,159.12 L618.07,158.74 L618.63,158.67 L619.18,159.24 L619.73,159.37 L620.28,158.81 L620.83,159.17 L621.39,159.55 L621.94,159.18 L622.49,159.58 L623.04,159.66 L623.60,159.93 L624.15,159.26 L624.70,159.13 L625.26,159.38 L625.82,159.12 L626.38,159.97 L626.94,159.81 L627.50,159.63 L628.05,159.23 L628.61,159.28 L629.17,159.84 L629.73,160.02 L630.29,159.91 L630.85,159.91 L631.41,159.57 L631.97,160.29 L632.53,159.79 L633.09,159.89 L633.65,159.86 L634.20,159.95 L634.76,160.13 L635.32,160.41 L635.88,160.44 L636.44,160.42 L637.00,160.05 L637.57,160.68 L638.13,160.59 L638.70,160.11 L639.26,160.58 L639.83,160.78 L640.39,160.84 L640.96,160.41 L641.52,160.65 L642.09,160.54 L642.65,160.58 L643.22,160.63 L643.78,160.67 L644.35,160.72 L644.91,160.76 L645.48,160.80 L646.04,160.84 L646.61,160.88 L647.17,160.92 L647.74,160.94 L648.30,160.97 L648.87,160.99 L649.43,161.00 L650.00,161.00 L650.00,161.00 Z" fill="#e2e2e2" stroke="none" stroke-width="0.6"/>
<path d="M568.70,161.00 L569.00,161.00 L569.62,159.88 L570.25,158.17 L570.88,156.37 L571.50,155.00 L572.12,153.91 L572.75,152.07 L573.38,150.16 L574.00,148.85 L574.60,148.25 L575.20,148.01 L575.80,147.15 L576.40,146.01 L577.00,145.57 L577.55,145.13 L578.10,145.12 L578.65,144.14 L579.20,143.98 L579.76,144.33 L580.32,144.92 L580.88,144.62 L581.44,145.53 L582.00,145.21 L582.60,146.00 L583.20,146.63 L583.80,146.89 L584.40,147.92 L585.00,147.59 L585.62,148.11 L586.23,148.67 L586.85,149.00 L587.47,149.19 L588.08,149.24 L588.70,149.10 L589.31,150.01 L589.93,150.29 L590.54,151.14 L591.16,151.20 L591.77,152.63 L592.39,153.21 L593.00,153.40 L593.57,153.23 L594.14,153.14 L594.71,153.64 L595.29,154.31 L595.86,154.56 L596.43,154.97 L597.00,155.65 L597.63,155.87 L598.26,155.41 L598.89,155.87 L599.51,156.83 L600.14,156.55 L600.77,157.03 L601.40,157.11 L601.96,157.16 L602.52,157.34 L603.07,157.55 L603.63,157.37 L604.19,157.39 L604.75,156.94 L605.31,157.80 L605.86,157.16 L606.42,157.95 L606.98,157.94 L607.54,157.64 L608.09,157.75 L608.65,158.21 L609.21,158.65 L609.77,158.35 L610.33,158.51 L610.88,158.08 L611.44,158.76 L612.00,158.62 L612.55,158.15 L613.10,158.94 L613.66,158.63 L614.21,158.30 L614.76,158.38 L615.31,159.08 L615.87,159.14 L616.42,159.17 L616.97,158.46 L617.52,159.12 L618.07,158.74 L618.63,158.67 L619.18,159.24 L619.73,159.37 L620.28,158.81 L620.83,159.17 L621.39,159.55 L621.94,159.18 L622.49,159.58 L623.04,159.66 L623.60,159.93 L624.15,159.26 L624.70,159.13 L625.26,159.38 L625.82,159.12 L626.38,159.97 L626.94,159.81 L627.50,159.63 L628.05,159.23 L628.61,159.28 L629.17,159.84 L629.73,160.02 L630.29,159.91 L630.85,159.91 L631.41,159.57 L631.97,160.29 L632.53,159.79 L633.09,159.89 L633.65,159.86 L634.20,159.95 L634.76,160.13 L635.32,160.41 L635.88,160.44 L636.44,160.42 L637.00,160.05 L637.57,160.68 L638.13,160.59 L638.70,160.11 L639.26,160.58 L639.83,160.78 L640.39,160.84 L640.96,160.41 L641.52,160.65 L642.09,160.54 L642.65,160.58 L643.22,160.63 L643.78,160.67 L644.35,160.72 L644.91,160.76 L645.48,160.80 L646.04,160.84 L646.61,160.88 L647.17,160.92 L647.74,160.94 L648.30,160.97 L648.87,160.99 L649.43,161.00 L650.00,161.00" fill="none" stroke="#8a8a8a" stroke-width="0.5"/>
<line x1="543.50" y1="170.87" x2="680.70" y2="170.87" stroke="#a8a8a8" stroke-width="0.6"/>
<path d="M564.00,170.87 L564.00,170.87 L564.75,166.94 L565.50,163.53 L566.17,161.10 L566.83,157.42 L567.50,155.25 L568.12,155.31 L568.75,155.12 L569.38,155.11 L570.00,155.42 L570.56,155.60 L571.11,155.39 L571.67,155.15 L572.23,155.03 L572.79,154.91 L573.34,154.78 L573.90,154.93 L574.49,155.48 L575.07,155.00 L575.66,155.73 L576.24,155.74 L576.83,156.15 L577.41,155.99 L578.00,156.54 L578.61,156.52 L579.23,156.58 L579.84,156.74 L580.46,156.17 L581.07,156.52 L581.69,156.81 L582.30,156.77 L582.92,156.28 L583.53,156.85 L584.15,157.27 L584.77,156.91 L585.38,157.18 L586.00,156.93 L586.60,157.77 L587.20,157.52 L587.80,157.34 L588.40,157.47 L589.00,157.55 L589.60,158.46 L590.20,158.32 L590.80,158.52 L591.40,158.56 L592.00,158.12 L592.60,158.85 L593.20,158.94 L593.80,159.81 L594.40,159.64 L595.00,160.12 L595.61,160.42 L596.23,160.28 L596.84,160.58 L597.46,161.82 L598.07,161.83 L598.69,162.14 L599.30,162.63 L599.89,162.58 L600.47,163.01 L601.06,163.27 L601.65,163.59 L602.24,163.65 L602.83,163.92 L603.41,164.55 L604.00,164.81 L604.59,164.56 L605.18,164.34 L605.77,164.92 L606.36,164.96 L606.95,165.24 L607.54,164.89 L608.13,165.27 L608.72,165.84 L609.31,165.90 L609.90,165.67 L610.49,165.56 L611.08,165.56 L611.67,166.18 L612.27,166.26 L612.86,165.96 L613.45,166.40 L614.04,166.70 L614.63,166.86 L615.23,166.43 L615.82,167.13 L616.41,166.98 L617.00,167.20 L617.55,167.17 L618.10,166.82 L618.65,166.78 L619.20,167.45 L619.75,167.72 L620.30,167.38 L620.85,167.99 L621.40,168.31 L621.95,167.63 L622.50,168.18 L623.05,167.93 L623.60,168.39 L624.15,168.01 L624.70,168.41 L625.25,168.69 L625.81,168.87 L626.36,168.46 L626.91,168.47 L627.47,168.34 L628.02,169.20 L628.57,168.85 L629.13,169.20 L629.68,169.21 L630.23,169.65 L630.79,169.64 L631.34,169.52 L631.89,169.23 L632.45,170.01 L633.00,169.68 L633.56,169.41 L634.12,169.30 L634.69,170.06 L635.25,170.20 L635.81,169.55 L636.38,169.63 L636.94,170.18 L637.50,170.68 L638.06,170.39 L638.62,170.49 L639.19,170.60 L639.75,170.69 L640.31,170.76 L640.88,170.82 L641.44,170.86 L642.00,170.87 L642.00,170.87 Z" fill="#EE7B3E" stroke="none" stroke-width="0.6"/>
<path d="M563.70,170.87 L564.00,170.87 L564.75,166.94 L565.50,163.53 L566.17,161.10 L566.83,157.42 L567.50,155.25 L568.12,155.31 L568.75,155.12 L569.38,155.11 L570.00,155.42 L570.56,155.60 L571.11,155.39 L571.67,155.15 L572.23,155.03 L572.79,154.91 L573.34,154.78 L573.90,154.93 L574.49,155.48 L575.07,155.00 L575.66,155.73 L576.24,155.74 L576.83,156.15 L577.41,155.99 L578.00,156.54 L578.61,156.52 L579.23,156.58 L579.84,156.74 L580.46,156.17 L581.07,156.52 L581.69,156.81 L582.30,156.77 L582.92,156.28 L583.53,156.85 L584.15,157.27 L584.77,156.91 L585.38,157.18 L586.00,156.93 L586.60,157.77 L587.20,157.52 L587.80,157.34 L588.40,157.47 L589.00,157.55 L589.60,158.46 L590.20,158.32 L590.80,158.52 L591.40,158.56 L592.00,158.12 L592.60,158.85 L593.20,158.94 L593.80,159.81 L594.40,159.64 L595.00,160.12 L595.61,160.42 L596.23,160.28 L596.84,160.58 L597.46,161.82 L598.07,161.83 L598.69,162.14 L599.30,162.63 L599.89,162.58 L600.47,163.01 L601.06,163.27 L601.65,163.59 L602.24,163.65 L602.83,163.92 L603.41,164.55 L604.00,164.81 L604.59,164.56 L605.18,164.34 L605.77,164.92 L606.36,164.96 L606.95,165.24 L607.54,164.89 L608.13,165.27 L608.72,165.84 L609.31,165.90 L609.90,165.67 L610.49,165.56 L611.08,165.56 L611.67,166.18 L612.27,166.26 L612.86,165.96 L613.45,166.40 L614.04,166.70 L614.63,166.86 L615.23,166.43 L615.82,167.13 L616.41,166.98 L617.00,167.20 L617.55,167.17 L618.10,166.82 L618.65,166.78 L619.20,167.45 L619.75,167.72 L620.30,167.38 L620.85,167.99 L621.40,168.31 L621.95,167.63 L622.50,168.18 L623.05,167.93 L623.60,168.39 L624.15,168.01 L624.70,168.41 L625.25,168.69 L625.81,168.87 L626.36,168.46 L626.91,168.47 L627.47,168.34 L628.02,169.20 L628.57,168.85 L629.13,169.20 L629.68,169.21 L630.23,169.65 L630.79,169.64 L631.34,169.52 L631.89,169.23 L632.45,170.01 L633.00,169.68 L633.56,169.41 L634.12,169.30 L634.69,170.06 L635.25,170.20 L635.81,169.55 L636.38,169.63 L636.94,170.18 L637.50,170.68 L638.06,170.39 L638.62,170.49 L639.19,170.60 L639.75,170.69 L640.31,170.76 L640.88,170.82 L641.44,170.86 L642.00,170.87" fill="none" stroke="#4a2412" stroke-width="0.5"/>
<line x1="543.50" y1="180.75" x2="680.70" y2="180.75" stroke="#a8a8a8" stroke-width="0.6"/>
<path d="M563.00,180.75 L563.00,180.75 L563.75,176.36 L564.50,172.85 L565.17,169.84 L565.83,165.38 L566.50,162.65 L567.08,163.35 L567.67,163.03 L568.25,163.85 L568.83,164.00 L569.42,163.84 L570.00,163.95 L570.56,164.60 L571.11,164.74 L571.67,164.81 L572.23,164.96 L572.79,165.31 L573.34,165.72 L573.90,165.67 L574.49,165.27 L575.07,165.19 L575.66,166.06 L576.24,165.69 L576.83,165.62 L577.41,166.33 L578.00,165.64 L578.61,166.32 L579.23,165.98 L579.84,166.14 L580.46,166.20 L581.07,166.60 L581.69,166.59 L582.30,166.47 L582.92,166.68 L583.53,166.64 L584.15,167.04 L584.77,167.27 L585.38,167.81 L586.00,167.34 L586.60,167.51 L587.20,167.87 L587.80,167.59 L588.40,167.79 L589.00,168.30 L589.60,168.75 L590.20,168.62 L590.80,169.00 L591.38,169.07 L591.96,169.04 L592.53,169.69 L593.11,169.78 L593.69,170.15 L594.27,170.99 L594.84,170.80 L595.42,171.53 L596.00,171.04 L596.60,171.05 L597.20,171.44 L597.80,172.06 L598.40,171.91 L599.00,172.29 L599.60,172.03 L600.20,172.97 L600.80,172.47 L601.40,172.40 L601.96,172.69 L602.52,172.76 L603.08,173.53 L603.64,173.08 L604.20,173.80 L604.76,173.67 L605.32,173.96 L605.88,174.85 L606.44,174.43 L607.00,174.36 L607.59,175.16 L608.18,174.98 L608.77,174.72 L609.37,175.39 L609.96,174.88 L610.55,175.60 L611.14,175.27 L611.73,176.03 L612.33,175.84 L612.92,175.57 L613.51,176.28 L614.10,176.26 L614.68,176.06 L615.26,176.28 L615.85,176.62 L616.43,176.60 L617.01,176.75 L617.59,176.20 L618.18,176.59 L618.76,176.56 L619.34,177.38 L619.92,176.99 L620.51,177.75 L621.09,177.52 L621.67,177.56 L622.25,177.92 L622.84,177.54 L623.42,177.88 L624.00,177.87 L624.57,177.61 L625.13,178.34 L625.69,177.58 L626.26,177.97 L626.83,178.24 L627.39,177.96 L627.95,178.52 L628.52,177.96 L629.09,178.43 L629.65,178.72 L630.22,178.46 L630.78,178.84 L631.35,179.17 L631.91,178.75 L632.47,179.45 L633.04,178.82 L633.61,179.39 L634.17,179.08 L634.73,178.80 L635.30,179.17 L635.86,179.11 L636.43,179.46 L636.99,179.80 L637.55,179.84 L638.12,179.82 L638.68,179.50 L639.24,179.77 L639.81,179.81 L640.37,179.58 L640.93,180.39 L641.49,180.42 L642.06,180.29 L642.62,180.39 L643.18,180.49 L643.75,180.58 L644.31,180.65 L644.87,180.70 L645.44,180.73 L646.00,180.75 L646.00,180.75 Z" fill="#EE7B3E" stroke="none" stroke-width="0.6"/>
<path d="M562.70,180.75 L563.00,180.75 L563.75,176.36 L564.50,172.85 L565.17,169.84 L565.83,165.38 L566.50,162.65 L567.08,163.35 L567.67,163.03 L568.25,163.85 L568.83,164.00 L569.42,163.84 L570.00,163.95 L570.56,164.60 L571.11,164.74 L571.67,164.81 L572.23,164.96 L572.79,165.31 L573.34,165.72 L573.90,165.67 L574.49,165.27 L575.07,165.19 L575.66,166.06 L576.24,165.69 L576.83,165.62 L577.41,166.33 L578.00,165.64 L578.61,166.32 L579.23,165.98 L579.84,166.14 L580.46,166.20 L581.07,166.60 L581.69,166.59 L582.30,166.47 L582.92,166.68 L583.53,166.64 L584.15,167.04 L584.77,167.27 L585.38,167.81 L586.00,167.34 L586.60,167.51 L587.20,167.87 L587.80,167.59 L588.40,167.79 L589.00,168.30 L589.60,168.75 L590.20,168.62 L590.80,169.00 L591.38,169.07 L591.96,169.04 L592.53,169.69 L593.11,169.78 L593.69,170.15 L594.27,170.99 L594.84,170.80 L595.42,171.53 L596.00,171.04 L596.60,171.05 L597.20,171.44 L597.80,172.06 L598.40,171.91 L599.00,172.29 L599.60,172.03 L600.20,172.97 L600.80,172.47 L601.40,172.40 L601.96,172.69 L602.52,172.76 L603.08,173.53 L603.64,173.08 L604.20,173.80 L604.76,173.67 L605.32,173.96 L605.88,174.85 L606.44,174.43 L607.00,174.36 L607.59,175.16 L608.18,174.98 L608.77,174.72 L609.37,175.39 L609.96,174.88 L610.55,175.60 L611.14,175.27 L611.73,176.03 L612.33,175.84 L612.92,175.57 L613.51,176.28 L614.10,176.26 L614.68,176.06 L615.26,176.28 L615.85,176.62 L616.43,176.60 L617.01,176.75 L617.59,176.20 L618.18,176.59 L618.76,176.56 L619.34,177.38 L619.92,176.99 L620.51,177.75 L621.09,177.52 L621.67,177.56 L622.25,177.92 L622.84,177.54 L623.42,177.88 L624.00,177.87 L624.57,177.61 L625.13,178.34 L625.69,177.58 L626.26,177.97 L626.83,178.24 L627.39,177.96 L627.95,178.52 L628.52,177.96 L629.09,178.43 L629.65,178.72 L630.22,178.46 L630.78,178.84 L631.35,179.17 L631.91,178.75 L632.47,179.45 L633.04,178.82 L633.61,179.39 L634.17,179.08 L634.73,178.80 L635.30,179.17 L635.86,179.11 L636.43,179.46 L636.99,179.80 L637.55,179.84 L638.12,179.82 L638.68,179.50 L639.24,179.77 L639.81,179.81 L640.37,179.58 L640.93,180.39 L641.49,180.42 L642.06,180.29 L642.62,180.39 L643.18,180.49 L643.75,180.58 L644.31,180.65 L644.87,180.70 L645.44,180.73 L646.00,180.75" fill="none" stroke="#4a2412" stroke-width="0.5"/>
<line x1="543.50" y1="190.62" x2="680.70" y2="190.62" stroke="#a8a8a8" stroke-width="0.6"/>
<path d="M562.00,190.62 L562.00,190.62 L562.75,185.98 L563.50,182.05 L564.13,179.63 L564.77,174.79 L565.40,172.57 L566.00,172.45 L566.60,172.83 L567.20,172.84 L567.80,173.18 L568.40,173.78 L569.00,173.51 L569.61,173.71 L570.23,174.18 L570.84,173.70 L571.45,174.60 L572.06,174.96 L572.67,175.25 L573.29,174.93 L573.90,174.79 L574.49,174.87 L575.07,175.23 L575.66,175.37 L576.24,175.62 L576.83,175.07 L577.41,175.16 L578.00,175.35 L578.61,175.09 L579.23,175.29 L579.84,174.87 L580.46,175.07 L581.07,175.53 L581.69,174.95 L582.30,175.73 L582.92,175.39 L583.53,175.74 L584.15,176.21 L584.77,176.68 L585.38,176.27 L586.00,177.06 L586.60,176.64 L587.20,176.46 L587.80,177.42 L588.40,177.64 L589.00,177.55 L589.60,177.88 L590.20,177.93 L590.80,177.84 L591.38,178.51 L591.96,178.63 L592.53,179.00 L593.11,179.65 L593.69,179.34 L594.27,179.87 L594.84,180.29 L595.42,181.17 L596.00,180.51 L596.60,180.66 L597.20,181.09 L597.80,181.10 L598.40,181.66 L599.00,182.17 L599.60,182.58 L600.20,182.72 L600.80,183.07 L601.40,182.87 L601.96,182.54 L602.52,182.72 L603.08,182.78 L603.64,183.13 L604.20,183.78 L604.76,183.77 L605.32,184.11 L605.88,183.98 L606.44,184.35 L607.00,184.63 L607.59,184.32 L608.18,184.11 L608.77,184.91 L609.37,184.47 L609.96,185.42 L610.55,185.39 L611.14,185.59 L611.73,185.31 L612.33,185.29 L612.92,185.59 L613.51,186.05 L614.10,185.58 L614.68,186.10 L615.26,186.24 L615.85,185.73 L616.43,186.10 L617.01,186.18 L617.59,186.37 L618.18,186.26 L618.76,186.90 L619.34,186.76 L619.92,187.07 L620.51,187.10 L621.09,187.64 L621.67,187.52 L622.25,187.78 L622.84,188.11 L623.42,188.26 L624.00,187.91 L624.57,188.41 L625.13,187.69 L625.69,188.43 L626.26,188.60 L626.83,188.61 L627.39,187.96 L627.95,188.58 L628.52,188.87 L629.09,189.08 L629.65,189.18 L630.22,188.71 L630.78,188.87 L631.35,188.92 L631.91,188.98 L632.47,189.68 L633.04,189.28 L633.61,189.55 L634.17,189.19 L634.73,189.22 L635.30,189.17 L635.87,189.92 L636.44,189.23 L637.01,189.24 L637.58,189.27 L638.15,190.10 L638.72,190.10 L639.29,190.28 L639.86,190.44 L640.44,189.81 L641.01,190.21 L641.58,190.31 L642.15,190.39 L642.72,190.47 L643.29,190.53 L643.86,190.58 L644.43,190.61 L645.00,190.62 L645.00,190.62 Z" fill="#EE7B3E" stroke="none" stroke-width="0.6"/>
<path d="M561.70,190.62 L562.00,190.62 L562.75,185.98 L563.50,182.05 L564.13,179.63 L564.77,174.79 L565.40,172.57 L566.00,172.45 L566.60,172.83 L567.20,172.84 L567.80,173.18 L568.40,173.78 L569.00,173.51 L569.61,173.71 L570.23,174.18 L570.84,173.70 L571.45,174.60 L572.06,174.96 L572.67,175.25 L573.29,174.93 L573.90,174.79 L574.49,174.87 L575.07,175.23 L575.66,175.37 L576.24,175.62 L576.83,175.07 L577.41,175.16 L578.00,175.35 L578.61,175.09 L579.23,175.29 L579.84,174.87 L580.46,175.07 L581.07,175.53 L581.69,174.95 L582.30,175.73 L582.92,175.39 L583.53,175.74 L584.15,176.21 L584.77,176.68 L585.38,176.27 L586.00,177.06 L586.60,176.64 L587.20,176.46 L587.80,177.42 L588.40,177.64 L589.00,177.55 L589.60,177.88 L590.20,177.93 L590.80,177.84 L591.38,178.51 L591.96,178.63 L592.53,179.00 L593.11,179.65 L593.69,179.34 L594.27,179.87 L594.84,180.29 L595.42,181.17 L596.00,180.51 L596.60,180.66 L597.20,181.09 L597.80,181.10 L598.40,181.66 L599.00,182.17 L599.60,182.58 L600.20,182.72 L600.80,183.07 L601.40,182.87 L601.96,182.54 L602.52,182.72 L603.08,182.78 L603.64,183.13 L604.20,183.78 L604.76,183.77 L605.32,184.11 L605.88,183.98 L606.44,184.35 L607.00,184.63 L607.59,184.32 L608.18,184.11 L608.77,184.91 L609.37,184.47 L609.96,185.42 L610.55,185.39 L611.14,185.59 L611.73,185.31 L612.33,185.29 L612.92,185.59 L613.51,186.05 L614.10,185.58 L614.68,186.10 L615.26,186.24 L615.85,185.73 L616.43,186.10 L617.01,186.18 L617.59,186.37 L618.18,186.26 L618.76,186.90 L619.34,186.76 L619.92,187.07 L620.51,187.10 L621.09,187.64 L621.67,187.52 L622.25,187.78 L622.84,188.11 L623.42,188.26 L624.00,187.91 L624.57,188.41 L625.13,187.69 L625.69,188.43 L626.26,188.60 L626.83,188.61 L627.39,187.96 L627.95,188.58 L628.52,188.87 L629.09,189.08 L629.65,189.18 L630.22,188.71 L630.78,188.87 L631.35,188.92 L631.91,188.98 L632.47,189.68 L633.04,189.28 L633.61,189.55 L634.17,189.19 L634.73,189.22 L635.30,189.17 L635.87,189.92 L636.44,189.23 L637.01,189.24 L637.58,189.27 L638.15,190.10 L638.72,190.10 L639.29,190.28 L639.86,190.44 L640.44,189.81 L641.01,190.21 L641.58,190.31 L642.15,190.39 L642.72,190.47 L643.29,190.53 L643.86,190.58 L644.43,190.61 L645.00,190.62" fill="none" stroke="#4a2412" stroke-width="0.5"/>
<line x1="543.50" y1="200.49" x2="680.70" y2="200.49" stroke="#a8a8a8" stroke-width="0.6"/>
<path d="M563.00,200.49 L563.00,200.49 L563.67,198.92 L564.33,196.67 L565.00,195.20 L565.60,194.75 L566.20,193.57 L566.80,191.97 L567.40,190.48 L568.00,189.26 L568.58,189.39 L569.17,188.36 L569.75,187.06 L570.33,186.22 L570.92,185.08 L571.50,184.69 L572.07,184.11 L572.63,183.94 L573.20,183.35 L573.77,182.15 L574.33,182.08 L574.90,181.58 L575.50,181.85 L576.10,182.52 L576.70,182.37 L577.30,182.54 L577.90,182.39 L578.50,182.83 L579.13,182.57 L579.77,182.87 L580.40,183.35 L581.03,182.96 L581.67,183.80 L582.30,183.21 L582.90,183.82 L583.50,184.04 L584.10,183.96 L584.70,183.56 L585.30,183.46 L585.90,184.41 L586.50,184.00 L587.11,184.03 L587.73,183.83 L588.34,184.47 L588.96,184.30 L589.57,184.53 L590.19,184.17 L590.80,184.71 L591.40,184.15 L592.00,184.89 L592.60,185.14 L593.20,184.92 L593.80,185.30 L594.40,185.79 L595.00,185.37 L595.57,186.06 L596.14,185.93 L596.71,186.69 L597.29,187.36 L597.86,188.18 L598.43,188.93 L599.00,189.08 L599.57,189.25 L600.14,189.22 L600.71,190.51 L601.29,190.40 L601.86,191.75 L602.43,192.00 L603.00,192.11 L603.58,191.58 L604.17,192.07 L604.75,192.38 L605.33,192.17 L605.92,193.04 L606.50,193.13 L607.08,193.36 L607.67,193.44 L608.25,193.69 L608.83,193.98 L609.42,194.38 L610.00,194.45 L610.58,194.64 L611.17,194.11 L611.75,194.41 L612.33,194.52 L612.92,195.23 L613.50,195.20 L614.08,195.11 L614.67,195.48 L615.25,196.06 L615.83,195.90 L616.42,195.61 L617.00,196.23 L617.57,196.29 L618.14,196.24 L618.71,195.95 L619.29,195.92 L619.86,196.65 L620.43,196.78 L621.00,196.82 L621.57,196.88 L622.14,196.82 L622.71,197.26 L623.29,197.21 L623.86,197.41 L624.43,196.75 L625.00,196.99 L625.57,197.57 L626.14,196.86 L626.71,197.73 L627.29,197.59 L627.86,197.20 L628.43,197.52 L629.00,197.73 L629.57,198.16 L630.14,198.53 L630.71,198.27 L631.29,198.87 L631.86,198.87 L632.43,198.77 L633.00,199.11 L633.56,198.80 L634.12,198.48 L634.69,198.63 L635.25,198.88 L635.81,198.85 L636.38,199.11 L636.94,199.50 L637.50,199.20 L638.06,199.49 L638.62,199.30 L639.19,199.25 L639.75,199.77 L640.31,199.72 L640.88,199.62 L641.44,199.95 L642.00,200.14 L642.60,199.71 L643.20,199.61 L643.80,200.02 L644.40,200.10 L645.00,200.19 L645.60,200.28 L646.20,200.36 L646.80,200.43 L647.40,200.48 L648.00,200.49 L648.00,200.49 Z" fill="#EE7B3E" stroke="none" stroke-width="0.6"/>
<path d="M562.70,200.49 L563.00,200.49 L563.67,198.92 L564.33,196.67 L565.00,195.20 L565.60,194.75 L566.20,193.57 L566.80,191.97 L567.40,190.48 L568.00,189.26 L568.58,189.39 L569.17,188.36 L569.75,187.06 L570.33,186.22 L570.92,185.08 L571.50,184.69 L572.07,184.11 L572.63,183.94 L573.20,183.35 L573.77,182.15 L574.33,182.08 L574.90,181.58 L575.50,181.85 L576.10,182.52 L576.70,182.37 L577.30,182.54 L577.90,182.39 L578.50,182.83 L579.13,182.57 L579.77,182.87 L580.40,183.35 L581.03,182.96 L581.67,183.80 L582.30,183.21 L582.90,183.82 L583.50,184.04 L584.10,183.96 L584.70,183.56 L585.30,183.46 L585.90,184.41 L586.50,184.00 L587.11,184.03 L587.73,183.83 L588.34,184.47 L588.96,184.30 L589.57,184.53 L590.19,184.17 L590.80,184.71 L591.40,184.15 L592.00,184.89 L592.60,185.14 L593.20,184.92 L593.80,185.30 L594.40,185.79 L595.00,185.37 L595.57,186.06 L596.14,185.93 L596.71,186.69 L597.29,187.36 L597.86,188.18 L598.43,188.93 L599.00,189.08 L599.57,189.25 L600.14,189.22 L600.71,190.51 L601.29,190.40 L601.86,191.75 L602.43,192.00 L603.00,192.11 L603.58,191.58 L604.17,192.07 L604.75,192.38 L605.33,192.17 L605.92,193.04 L606.50,193.13 L607.08,193.36 L607.67,193.44 L608.25,193.69 L608.83,193.98 L609.42,194.38 L610.00,194.45 L610.58,194.64 L611.17,194.11 L611.75,194.41 L612.33,194.52 L612.92,195.23 L613.50,195.20 L614.08,195.11 L614.67,195.48 L615.25,196.06 L615.83,195.90 L616.42,195.61 L617.00,196.23 L617.57,196.29 L618.14,196.24 L618.71,195.95 L619.29,195.92 L619.86,196.65 L620.43,196.78 L621.00,196.82 L621.57,196.88 L622.14,196.82 L622.71,197.26 L623.29,197.21 L623.86,197.41 L624.43,196.75 L625.00,196.99 L625.57,197.57 L626.14,196.86 L626.71,197.73 L627.29,197.59 L627.86,197.20 L628.43,197.52 L629.00,197.73 L629.57,198.16 L630.14,198.53 L630.71,198.27 L631.29,198.87 L631.86,198.87 L632.43,198.77 L633.00,199.11 L633.56,198.80 L634.12,198.48 L634.69,198.63 L635.25,198.88 L635.81,198.85 L636.38,199.11 L636.94,199.50 L637.50,199.20 L638.06,199.49 L638.62,199.30 L639.19,199.25 L639.75,199.77 L640.31,199.72 L640.88,199.62 L641.44,199.95 L642.00,200.14 L642.60,199.71 L643.20,199.61 L643.80,200.02 L644.40,200.10 L645.00,200.19 L645.60,200.28 L646.20,200.36 L646.80,200.43 L647.40,200.48 L648.00,200.49" fill="none" stroke="#4a2412" stroke-width="0.5"/>
<line x1="543.50" y1="210.37" x2="680.70" y2="210.37" stroke="#a8a8a8" stroke-width="0.6"/>
<path d="M564.00,210.37 L564.00,210.37 L564.67,208.56 L565.33,205.74 L566.00,204.05 L566.62,203.11 L567.25,200.74 L567.88,198.50 L568.50,197.53 L569.16,196.76 L569.82,196.07 L570.48,194.39 L571.14,192.90 L571.80,192.47 L572.47,193.13 L573.15,194.74 L573.83,195.86 L574.50,196.41 L575.12,196.84 L575.75,198.30 L576.38,199.33 L577.00,199.68 L577.62,200.63 L578.25,200.83 L578.88,201.34 L579.50,201.97 L580.06,201.98 L580.62,201.79 L581.18,202.93 L581.74,202.72 L582.30,203.17 L582.94,202.58 L583.58,202.36 L584.22,202.65 L584.86,202.96 L585.50,202.50 L586.08,202.58 L586.67,202.55 L587.25,202.91 L587.83,202.96 L588.42,202.92 L589.00,203.25 L589.60,203.38 L590.20,203.00 L590.80,203.81 L591.40,203.56 L592.00,204.01 L592.60,203.87 L593.20,204.63 L593.80,204.00 L594.40,204.66 L595.00,204.97 L595.57,204.79 L596.14,204.72 L596.71,205.15 L597.29,204.88 L597.86,204.99 L598.43,204.86 L599.00,205.30 L599.57,205.51 L600.14,205.66 L600.71,205.31 L601.29,205.23 L601.86,205.68 L602.43,206.00 L603.00,205.50 L603.56,205.88 L604.11,206.07 L604.67,206.20 L605.22,205.69 L605.78,205.75 L606.33,206.01 L606.89,206.26 L607.44,206.29 L608.00,206.71 L608.56,206.17 L609.11,206.83 L609.67,206.68 L610.22,206.62 L610.78,206.71 L611.33,207.09 L611.89,207.30 L612.44,207.11 L613.00,207.50 L613.57,206.87 L614.14,207.33 L614.71,206.92 L615.29,207.50 L615.86,207.46 L616.43,207.65 L617.00,207.57 L617.57,207.87 L618.14,208.13 L618.71,207.57 L619.29,208.06 L619.86,208.18 L620.43,208.22 L621.00,208.15 L621.57,208.27 L622.14,208.16 L622.71,208.20 L623.29,208.52 L623.86,208.05 L624.43,208.14 L625.00,208.87 L625.55,208.18 L626.10,208.14 L626.65,208.28 L627.20,208.92 L627.75,208.36 L628.30,208.61 L628.85,209.24 L629.40,209.33 L629.95,208.57 L630.50,208.93 L631.05,209.38 L631.60,209.60 L632.15,209.65 L632.70,209.65 L633.25,209.23 L633.80,209.68 L634.35,209.91 L634.90,209.27 L635.45,209.40 L636.00,209.97 L636.56,209.32 L637.12,209.60 L637.69,209.48 L638.25,209.62 L638.81,209.47 L639.38,209.89 L639.94,209.95 L640.50,210.02 L641.06,210.08 L641.62,210.15 L642.19,210.20 L642.75,210.26 L643.31,210.30 L643.88,210.34 L644.44,210.36 L645.00,210.37 L645.00,210.37 Z" fill="#EE7B3E" stroke="none" stroke-width="0.6"/>
<path d="M563.70,210.37 L564.00,210.37 L564.67,208.56 L565.33,205.74 L566.00,204.05 L566.62,203.11 L567.25,200.74 L567.88,198.50 L568.50,197.53 L569.16,196.76 L569.82,196.07 L570.48,194.39 L571.14,192.90 L571.80,192.47 L572.47,193.13 L573.15,194.74 L573.83,195.86 L574.50,196.41 L575.12,196.84 L575.75,198.30 L576.38,199.33 L577.00,199.68 L577.62,200.63 L578.25,200.83 L578.88,201.34 L579.50,201.97 L580.06,201.98 L580.62,201.79 L581.18,202.93 L581.74,202.72 L582.30,203.17 L582.94,202.58 L583.58,202.36 L584.22,202.65 L584.86,202.96 L585.50,202.50 L586.08,202.58 L586.67,202.55 L587.25,202.91 L587.83,202.96 L588.42,202.92 L589.00,203.25 L589.60,203.38 L590.20,203.00 L590.80,203.81 L591.40,203.56 L592.00,204.01 L592.60,203.87 L593.20,204.63 L593.80,204.00 L594.40,204.66 L595.00,204.97 L595.57,204.79 L596.14,204.72 L596.71,205.15 L597.29,204.88 L597.86,204.99 L598.43,204.86 L599.00,205.30 L599.57,205.51 L600.14,205.66 L600.71,205.31 L601.29,205.23 L601.86,205.68 L602.43,206.00 L603.00,205.50 L603.56,205.88 L604.11,206.07 L604.67,206.20 L605.22,205.69 L605.78,205.75 L606.33,206.01 L606.89,206.26 L607.44,206.29 L608.00,206.71 L608.56,206.17 L609.11,206.83 L609.67,206.68 L610.22,206.62 L610.78,206.71 L611.33,207.09 L611.89,207.30 L612.44,207.11 L613.00,207.50 L613.57,206.87 L614.14,207.33 L614.71,206.92 L615.29,207.50 L615.86,207.46 L616.43,207.65 L617.00,207.57 L617.57,207.87 L618.14,208.13 L618.71,207.57 L619.29,208.06 L619.86,208.18 L620.43,208.22 L621.00,208.15 L621.57,208.27 L622.14,208.16 L622.71,208.20 L623.29,208.52 L623.86,208.05 L624.43,208.14 L625.00,208.87 L625.55,208.18 L626.10,208.14 L626.65,208.28 L627.20,208.92 L627.75,208.36 L628.30,208.61 L628.85,209.24 L629.40,209.33 L629.95,208.57 L630.50,208.93 L631.05,209.38 L631.60,209.60 L632.15,209.65 L632.70,209.65 L633.25,209.23 L633.80,209.68 L634.35,209.91 L634.90,209.27 L635.45,209.40 L636.00,209.97 L636.56,209.32 L637.12,209.60 L637.69,209.48 L638.25,209.62 L638.81,209.47 L639.38,209.89 L639.94,209.95 L640.50,210.02 L641.06,210.08 L641.62,210.15 L642.19,210.20 L642.75,210.26 L643.31,210.30 L643.88,210.34 L644.44,210.36 L645.00,210.37" fill="none" stroke="#4a2412" stroke-width="0.5"/>
<line x1="543.50" y1="220.24" x2="680.70" y2="220.24" stroke="#a8a8a8" stroke-width="0.6"/>
<path d="M564.00,220.24 L564.00,220.24 L564.67,218.43 L565.33,215.49 L566.00,214.51 L566.62,212.97 L567.25,210.71 L567.88,208.12 L568.50,207.30 L569.16,206.43 L569.82,205.61 L570.48,204.54 L571.14,203.45 L571.80,203.06 L572.47,203.14 L573.15,204.39 L573.83,204.88 L574.50,205.56 L575.08,205.40 L575.67,205.79 L576.25,206.25 L576.83,206.47 L577.42,207.63 L578.00,207.03 L578.60,207.31 L579.20,207.07 L579.80,206.80 L580.40,206.50 L581.00,206.85 L581.58,206.78 L582.17,206.20 L582.75,206.87 L583.33,206.25 L583.92,206.15 L584.50,206.66 L585.10,206.25 L585.70,206.43 L586.30,206.50 L586.90,207.29 L587.50,206.81 L588.08,207.32 L588.67,207.56 L589.25,207.48 L589.83,208.55 L590.42,208.15 L591.00,208.33 L591.60,208.66 L592.20,208.41 L592.80,209.17 L593.40,209.45 L594.00,209.82 L594.60,210.01 L595.20,210.90 L595.80,211.01 L596.40,211.23 L597.00,211.19 L597.60,211.02 L598.20,211.69 L598.80,211.49 L599.40,212.21 L600.00,212.49 L600.60,213.07 L601.20,213.19 L601.80,213.05 L602.40,213.53 L603.00,213.48 L603.56,213.92 L604.11,214.00 L604.67,214.12 L605.22,214.00 L605.78,214.13 L606.33,214.18 L606.89,215.06 L607.44,214.67 L608.00,214.74 L608.56,215.27 L609.11,215.94 L609.67,215.92 L610.22,216.38 L610.78,216.38 L611.33,215.86 L611.89,216.25 L612.44,216.27 L613.00,216.18 L613.57,216.08 L614.14,216.39 L614.71,216.45 L615.29,216.53 L615.86,216.56 L616.43,216.77 L617.00,216.82 L617.57,217.38 L618.14,217.12 L618.71,217.45 L619.29,217.33 L619.86,218.07 L620.43,218.14 L621.00,218.41 L621.57,217.88 L622.14,217.87 L622.71,218.20 L623.29,218.54 L623.86,218.20 L624.43,218.27 L625.00,218.48 L625.55,218.77 L626.10,218.75 L626.65,218.68 L627.20,218.82 L627.75,218.77 L628.30,218.65 L628.85,218.46 L629.40,219.33 L629.95,218.95 L630.50,219.50 L631.05,219.52 L631.60,218.97 L632.15,219.26 L632.70,219.03 L633.25,219.52 L633.80,219.96 L634.35,219.67 L634.90,219.53 L635.45,219.24 L636.00,219.21 L636.57,219.67 L637.14,219.75 L637.71,220.07 L638.29,219.76 L638.86,219.81 L639.43,219.88 L640.00,219.94 L640.57,220.00 L641.14,220.07 L641.71,220.12 L642.29,220.17 L642.86,220.21 L643.43,220.23 L644.00,220.24 L644.00,220.24 Z" fill="#EE7B3E" stroke="none" stroke-width="0.6"/>
<path d="M563.70,220.24 L564.00,220.24 L564.67,218.43 L565.33,215.49 L566.00,214.51 L566.62,212.97 L567.25,210.71 L567.88,208.12 L568.50,207.30 L569.16,206.43 L569.82,205.61 L570.48,204.54 L571.14,203.45 L571.80,203.06 L572.47,203.14 L573.15,204.39 L573.83,204.88 L574.50,205.56 L575.08,205.40 L575.67,205.79 L576.25,206.25 L576.83,206.47 L577.42,207.63 L578.00,207.03 L578.60,207.31 L579.20,207.07 L579.80,206.80 L580.40,206.50 L581.00,206.85 L581.58,206.78 L582.17,206.20 L582.75,206.87 L583.33,206.25 L583.92,206.15 L584.50,206.66 L585.10,206.25 L585.70,206.43 L586.30,206.50 L586.90,207.29 L587.50,206.81 L588.08,207.32 L588.67,207.56 L589.25,207.48 L589.83,208.55 L590.42,208.15 L591.00,208.33 L591.60,208.66 L592.20,208.41 L592.80,209.17 L593.40,209.45 L594.00,209.82 L594.60,210.01 L595.20,210.90 L595.80,211.01 L596.40,211.23 L597.00,211.19 L597.60,211.02 L598.20,211.69 L598.80,211.49 L599.40,212.21 L600.00,212.49 L600.60,213.07 L601.20,213.19 L601.80,213.05 L602.40,213.53 L603.00,213.48 L603.56,213.92 L604.11,214.00 L604.67,214.12 L605.22,214.00 L605.78,214.13 L606.33,214.18 L606.89,215.06 L607.44,214.67 L608.00,214.74 L608.56,215.27 L609.11,215.94 L609.67,215.92 L610.22,216.38 L610.78,216.38 L611.33,215.86 L611.89,216.25 L612.44,216.27 L613.00,216.18 L613.57,216.08 L614.14,216.39 L614.71,216.45 L615.29,216.53 L615.86,216.56 L616.43,216.77 L617.00,216.82 L617.57,217.38 L618.14,217.12 L618.71,217.45 L619.29,217.33 L619.86,218.07 L620.43,218.14 L621.00,218.41 L621.57,217.88 L622.14,217.87 L622.71,218.20 L623.29,218.54 L623.86,218.20 L624.43,218.27 L625.00,218.48 L625.55,218.77 L626.10,218.75 L626.65,218.68 L627.20,218.82 L627.75,218.77 L628.30,218.65 L628.85,218.46 L629.40,219.33 L629.95,218.95 L630.50,219.50 L631.05,219.52 L631.60,218.97 L632.15,219.26 L632.70,219.03 L633.25,219.52 L633.80,219.96 L634.35,219.67 L634.90,219.53 L635.45,219.24 L636.00,219.21 L636.57,219.67 L637.14,219.75 L637.71,220.07 L638.29,219.76 L638.86,219.81 L639.43,219.88 L640.00,219.94 L640.57,220.00 L641.14,220.07 L641.71,220.12 L642.29,220.17 L642.86,220.21 L643.43,220.23 L644.00,220.24" fill="none" stroke="#4a2412" stroke-width="0.5"/>
<line x1="543.50" y1="230.11" x2="680.70" y2="230.11" stroke="#a8a8a8" stroke-width="0.6"/>
<path d="M565.00,230.11 L565.00,230.11 L565.67,228.17 L566.33,225.19 L567.00,223.43 L567.67,221.73 L568.33,218.37 L569.00,215.95 L569.58,215.89 L570.15,213.89 L570.72,213.45 L571.30,212.18 L571.97,213.25 L572.65,214.25 L573.33,214.51 L574.00,215.35 L574.60,215.16 L575.20,216.27 L575.80,217.14 L576.40,217.11 L577.00,217.42 L577.60,217.35 L578.20,217.58 L578.80,218.31 L579.40,217.95 L580.00,217.93 L580.57,218.12 L581.13,217.62 L581.70,218.13 L582.27,217.40 L582.83,217.55 L583.40,218.15 L584.00,218.25 L584.60,217.94 L585.20,218.13 L585.80,219.13 L586.40,219.18 L587.00,218.91 L587.63,219.50 L588.27,219.07 L588.90,219.68 L589.53,220.32 L590.17,220.25 L590.80,220.15 L591.38,220.35 L591.96,220.36 L592.53,221.16 L593.11,220.95 L593.69,221.74 L594.27,221.86 L594.84,222.19 L595.42,222.60 L596.00,222.72 L596.60,222.43 L597.20,222.50 L597.80,222.95 L598.40,223.51 L599.00,224.14 L599.60,224.71 L600.20,224.20 L600.80,224.65 L601.40,224.62 L601.97,225.09 L602.55,224.92 L603.12,224.69 L603.69,224.97 L604.27,225.34 L604.84,225.79 L605.41,225.88 L605.99,225.66 L606.56,226.32 L607.13,226.23 L607.71,226.47 L608.28,226.35 L608.85,226.54 L609.43,227.08 L610.00,227.36 L610.58,227.14 L611.16,227.03 L611.73,226.94 L612.31,226.81 L612.89,226.83 L613.47,227.69 L614.04,227.08 L614.62,227.22 L615.20,227.28 L615.78,227.66 L616.36,228.05 L616.93,227.63 L617.51,227.77 L618.09,227.97 L618.67,227.84 L619.24,228.40 L619.82,228.67 L620.40,228.27 L620.96,228.06 L621.53,228.62 L622.09,228.17 L622.66,228.06 L623.22,228.76 L623.79,228.50 L624.35,228.52 L624.92,228.80 L625.48,229.12 L626.05,229.17 L626.61,228.80 L627.18,228.84 L627.74,229.21 L628.31,229.60 L628.87,229.00 L629.44,229.06 L630.00,229.55 L630.57,229.26 L631.14,229.01 L631.71,229.07 L632.28,229.47 L632.85,229.60 L633.42,229.67 L633.98,229.76 L634.55,229.85 L635.12,229.93 L635.69,230.01 L636.26,230.06 L636.83,230.10 L637.40,230.11 L637.40,230.11 Z" fill="#EE7B3E" stroke="none" stroke-width="0.6"/>
<path d="M564.70,230.11 L565.00,230.11 L565.67,228.17 L566.33,225.19 L567.00,223.43 L567.67,221.73 L568.33,218.37 L569.00,215.95 L569.58,215.89 L570.15,213.89 L570.72,213.45 L571.30,212.18 L571.97,213.25 L572.65,214.25 L573.33,214.51 L574.00,215.35 L574.60,215.16 L575.20,216.27 L575.80,217.14 L576.40,217.11 L577.00,217.42 L577.60,217.35 L578.20,217.58 L578.80,218.31 L579.40,217.95 L580.00,217.93 L580.57,218.12 L581.13,217.62 L581.70,218.13 L582.27,217.40 L582.83,217.55 L583.40,218.15 L584.00,218.25 L584.60,217.94 L585.20,218.13 L585.80,219.13 L586.40,219.18 L587.00,218.91 L587.63,219.50 L588.27,219.07 L588.90,219.68 L589.53,220.32 L590.17,220.25 L590.80,220.15 L591.38,220.35 L591.96,220.36 L592.53,221.16 L593.11,220.95 L593.69,221.74 L594.27,221.86 L594.84,222.19 L595.42,222.60 L596.00,222.72 L596.60,222.43 L597.20,222.50 L597.80,222.95 L598.40,223.51 L599.00,224.14 L599.60,224.71 L600.20,224.20 L600.80,224.65 L601.40,224.62 L601.97,225.09 L602.55,224.92 L603.12,224.69 L603.69,224.97 L604.27,225.34 L604.84,225.79 L605.41,225.88 L605.99,225.66 L606.56,226.32 L607.13,226.23 L607.71,226.47 L608.28,226.35 L608.85,226.54 L609.43,227.08 L610.00,227.36 L610.58,227.14 L611.16,227.03 L611.73,226.94 L612.31,226.81 L612.89,226.83 L613.47,227.69 L614.04,227.08 L614.62,227.22 L615.20,227.28 L615.78,227.66 L616.36,228.05 L616.93,227.63 L617.51,227.77 L618.09,227.97 L618.67,227.84 L619.24,228.40 L619.82,228.67 L620.40,228.27 L620.96,228.06 L621.53,228.62 L622.09,228.17 L622.66,228.06 L623.22,228.76 L623.79,228.50 L624.35,228.52 L624.92,228.80 L625.48,229.12 L626.05,229.17 L626.61,228.80 L627.18,228.84 L627.74,229.21 L628.31,229.60 L628.87,229.00 L629.44,229.06 L630.00,229.55 L630.57,229.26 L631.14,229.01 L631.71,229.07 L632.28,229.47 L632.85,229.60 L633.42,229.67 L633.98,229.76 L634.55,229.85 L635.12,229.93 L635.69,230.01 L636.26,230.06 L636.83,230.10 L637.40,230.11" fill="none" stroke="#4a2412" stroke-width="0.5"/>
<line x1="543.50" y1="239.99" x2="680.70" y2="239.99" stroke="#a8a8a8" stroke-width="0.6"/>
<path d="M564.30,239.99 L564.30,239.99 L564.87,238.09 L565.43,235.08 L566.00,233.26 L566.67,231.46 L567.33,227.62 L568.00,226.11 L568.80,224.28 L569.60,222.77 L570.17,222.88 L570.73,223.73 L571.30,224.50 L571.87,224.31 L572.43,225.39 L573.00,225.84 L573.57,225.51 L574.14,225.72 L574.71,226.78 L575.29,226.92 L575.86,227.63 L576.43,227.83 L577.00,228.42 L577.60,228.38 L578.20,227.44 L578.80,227.46 L579.40,227.73 L580.00,227.63 L580.57,227.89 L581.13,227.38 L581.70,227.65 L582.27,227.14 L582.83,227.26 L583.40,227.20 L584.00,227.17 L584.60,228.05 L585.20,228.55 L585.80,228.72 L586.40,228.98 L587.00,229.16 L587.63,229.29 L588.27,229.07 L588.90,229.10 L589.53,229.79 L590.17,229.59 L590.80,229.72 L591.38,230.56 L591.96,230.30 L592.53,230.80 L593.11,231.43 L593.69,231.07 L594.27,232.08 L594.84,232.13 L595.42,232.28 L596.00,232.08 L596.60,232.41 L597.20,232.87 L597.80,233.13 L598.40,233.75 L599.00,233.41 L599.60,233.75 L600.20,234.75 L600.80,235.12 L601.40,235.01 L601.97,234.94 L602.55,234.52 L603.12,234.62 L603.69,234.82 L604.27,235.69 L604.84,235.20 L605.41,235.45 L605.99,235.70 L606.56,235.58 L607.13,236.59 L607.71,236.67 L608.28,236.26 L608.85,236.20 L609.43,236.50 L610.00,236.87 L610.58,236.62 L611.16,236.51 L611.73,237.15 L612.31,237.03 L612.89,237.19 L613.47,237.41 L614.04,237.21 L614.62,237.61 L615.20,237.67 L615.78,237.88 L616.36,237.52 L616.93,238.24 L617.51,237.71 L618.09,238.27 L618.67,238.49 L619.24,237.75 L619.82,238.42 L620.40,237.80 L620.96,237.87 L621.53,237.88 L622.09,238.59 L622.66,238.37 L623.22,238.76 L623.79,238.09 L624.35,238.25 L624.92,238.53 L625.48,238.77 L626.05,238.96 L626.61,238.61 L627.18,239.00 L627.74,238.93 L628.31,239.43 L628.87,239.40 L629.44,239.58 L630.00,238.99 L630.57,239.15 L631.14,239.56 L631.71,238.96 L632.28,239.58 L632.85,239.53 L633.42,239.54 L633.98,239.63 L634.55,239.72 L635.12,239.81 L635.69,239.88 L636.26,239.94 L636.83,239.97 L637.40,239.99 L637.40,239.99 Z" fill="#EE7B3E" stroke="none" stroke-width="0.6"/>
<path d="M564.00,239.99 L564.30,239.99 L564.87,238.09 L565.43,235.08 L566.00,233.26 L566.67,231.46 L567.33,227.62 L568.00,226.11 L568.80,224.28 L569.60,222.77 L570.17,222.88 L570.73,223.73 L571.30,224.50 L571.87,224.31 L572.43,225.39 L573.00,225.84 L573.57,225.51 L574.14,225.72 L574.71,226.78 L575.29,226.92 L575.86,227.63 L576.43,227.83 L577.00,228.42 L577.60,228.38 L578.20,227.44 L578.80,227.46 L579.40,227.73 L580.00,227.63 L580.57,227.89 L581.13,227.38 L581.70,227.65 L582.27,227.14 L582.83,227.26 L583.40,227.20 L584.00,227.17 L584.60,228.05 L585.20,228.55 L585.80,228.72 L586.40,228.98 L587.00,229.16 L587.63,229.29 L588.27,229.07 L588.90,229.10 L589.53,229.79 L590.17,229.59 L590.80,229.72 L591.38,230.56 L591.96,230.30 L592.53,230.80 L593.11,231.43 L593.69,231.07 L594.27,232.08 L594.84,232.13 L595.42,232.28 L596.00,232.08 L596.60,232.41 L597.20,232.87 L597.80,233.13 L598.40,233.75 L599.00,233.41 L599.60,233.75 L600.20,234.75 L600.80,235.12 L601.40,235.01 L601.97,234.94 L602.55,234.52 L603.12,234.62 L603.69,234.82 L604.27,235.69 L604.84,235.20 L605.41,235.45 L605.99,235.70 L606.56,235.58 L607.13,236.59 L607.71,236.67 L608.28,236.26 L608.85,236.20 L609.43,236.50 L610.00,236.87 L610.58,236.62 L611.16,236.51 L611.73,237.15 L612.31,237.03 L612.89,237.19 L613.47,237.41 L614.04,237.21 L614.62,237.61 L615.20,237.67 L615.78,237.88 L616.36,237.52 L616.93,238.24 L617.51,237.71 L618.09,238.27 L618.67,238.49 L619.24,237.75 L619.82,238.42 L620.40,237.80 L620.96,237.87 L621.53,237.88 L622.09,238.59 L622.66,238.37 L623.22,238.76 L623.79,238.09 L624.35,238.25 L624.92,238.53 L625.48,238.77 L626.05,238.96 L626.61,238.61 L627.18,239.00 L627.74,238.93 L628.31,239.43 L628.87,239.40 L629.44,239.58 L630.00,238.99 L630.57,239.15 L631.14,239.56 L631.71,238.96 L632.28,239.58 L632.85,239.53 L633.42,239.54 L633.98,239.63 L634.55,239.72 L635.12,239.81 L635.69,239.88 L636.26,239.94 L636.83,239.97 L637.40,239.99" fill="none" stroke="#4a2412" stroke-width="0.5"/>
<line x1="543.50" y1="249.86" x2="680.70" y2="249.86" stroke="#a8a8a8" stroke-width="0.6"/>
<path d="M565.40,249.86 L565.40,249.86 L566.20,246.67 L567.00,243.07 L567.67,240.48 L568.33,237.08 L569.00,235.16 L569.57,234.19 L570.13,233.10 L570.70,231.90 L571.28,232.86 L571.85,232.63 L572.42,234.01 L573.00,233.50 L573.57,233.80 L574.14,234.44 L574.71,234.51 L575.29,235.02 L575.86,235.36 L576.43,235.64 L577.00,235.58 L577.57,235.04 L578.14,235.09 L578.71,235.23 L579.29,236.06 L579.86,235.97 L580.43,235.48 L581.00,236.26 L581.58,235.71 L582.17,236.23 L582.75,235.78 L583.33,236.81 L583.92,236.23 L584.50,236.70 L585.08,236.98 L585.67,237.35 L586.25,236.91 L586.83,237.50 L587.42,238.05 L588.00,237.92 L588.56,237.68 L589.12,238.75 L589.68,238.96 L590.24,239.80 L590.80,239.95 L591.38,239.51 L591.96,239.81 L592.53,240.63 L593.11,241.16 L593.69,241.61 L594.27,241.56 L594.84,242.02 L595.42,242.47 L596.00,242.62 L596.60,242.35 L597.20,242.50 L597.80,242.75 L598.40,243.37 L599.00,244.14 L599.60,244.68 L600.20,244.42 L600.80,244.95 L601.40,244.76 L601.97,245.38 L602.55,244.77 L603.12,245.31 L603.69,244.99 L604.27,245.12 L604.84,245.64 L605.41,246.25 L605.99,245.64 L606.56,246.21 L607.13,246.03 L607.71,246.74 L608.28,246.94 L608.85,246.47 L609.43,246.96 L610.00,247.16 L610.58,246.99 L611.16,246.82 L611.73,247.40 L612.31,247.01 L612.89,247.15 L613.47,247.18 L614.04,247.64 L614.62,247.21 L615.20,247.23 L615.78,247.29 L616.36,247.88 L616.93,247.63 L617.51,248.02 L618.09,247.77 L618.67,248.46 L619.24,247.78 L619.82,247.74 L620.40,248.16 L620.96,248.16 L621.53,248.17 L622.09,248.20 L622.66,248.72 L623.22,247.93 L623.79,248.67 L624.35,248.78 L624.92,248.93 L625.48,248.87 L626.05,248.44 L626.61,249.23 L627.18,249.24 L627.74,248.75 L628.31,249.26 L628.87,249.46 L629.44,248.96 L630.00,248.99 L630.57,249.05 L631.14,248.93 L631.71,249.53 L632.28,248.91 L632.85,249.13 L633.42,249.41 L633.98,249.51 L634.55,249.60 L635.12,249.68 L635.69,249.75 L636.26,249.81 L636.83,249.85 L637.40,249.86 L637.40,249.86 Z" fill="#EE7B3E" stroke="none" stroke-width="0.6"/>
<path d="M565.10,249.86 L565.40,249.86 L566.20,246.67 L567.00,243.07 L567.67,240.48 L568.33,237.08 L569.00,235.16 L569.57,234.19 L570.13,233.10 L570.70,231.90 L571.28,232.86 L571.85,232.63 L572.42,234.01 L573.00,233.50 L573.57,233.80 L574.14,234.44 L574.71,234.51 L575.29,235.02 L575.86,235.36 L576.43,235.64 L577.00,235.58 L577.57,235.04 L578.14,235.09 L578.71,235.23 L579.29,236.06 L579.86,235.97 L580.43,235.48 L581.00,236.26 L581.58,235.71 L582.17,236.23 L582.75,235.78 L583.33,236.81 L583.92,236.23 L584.50,236.70 L585.08,236.98 L585.67,237.35 L586.25,236.91 L586.83,237.50 L587.42,238.05 L588.00,237.92 L588.56,237.68 L589.12,238.75 L589.68,238.96 L590.24,239.80 L590.80,239.95 L591.38,239.51 L591.96,239.81 L592.53,240.63 L593.11,241.16 L593.69,241.61 L594.27,241.56 L594.84,242.02 L595.42,242.47 L596.00,242.62 L596.60,242.35 L597.20,242.50 L597.80,242.75 L598.40,243.37 L599.00,244.14 L599.60,244.68 L600.20,244.42 L600.80,244.95 L601.40,244.76 L601.97,245.38 L602.55,244.77 L603.12,245.31 L603.69,244.99 L604.27,245.12 L604.84,245.64 L605.41,246.25 L605.99,245.64 L606.56,246.21 L607.13,246.03 L607.71,246.74 L608.28,246.94 L608.85,246.47 L609.43,246.96 L610.00,247.16 L610.58,246.99 L611.16,246.82 L611.73,247.40 L612.31,247.01 L612.89,247.15 L613.47,247.18 L614.04,247.64 L614.62,247.21 L615.20,247.23 L615.78,247.29 L616.36,247.88 L616.93,247.63 L617.51,248.02 L618.09,247.77 L618.67,248.46 L619.24,247.78 L619.82,247.74 L620.40,248.16 L620.96,248.16 L621.53,248.17 L622.09,248.20 L622.66,248.72 L623.22,247.93 L623.79,248.67 L624.35,248.78 L624.92,248.93 L625.48,248.87 L626.05,248.44 L626.61,249.23 L627.18,249.24 L627.74,248.75 L628.31,249.26 L628.87,249.46 L629.44,248.96 L630.00,248.99 L630.57,249.05 L631.14,248.93 L631.71,249.53 L632.28,248.91 L632.85,249.13 L633.42,249.41 L633.98,249.51 L634.55,249.60 L635.12,249.68 L635.69,249.75 L636.26,249.81 L636.83,249.85 L637.40,249.86" fill="none" stroke="#4a2412" stroke-width="0.5"/>
<line x1="543.50" y1="259.73" x2="680.70" y2="259.73" stroke="#a8a8a8" stroke-width="0.6"/>
<path d="M566.50,259.73 L566.50,259.73 L567.17,258.59 L567.83,255.63 L568.50,253.74 L569.12,252.64 L569.75,250.43 L570.38,248.17 L571.00,246.82 L571.67,246.02 L572.33,243.69 L573.00,242.41 L573.63,242.53 L574.27,241.19 L574.90,240.51 L575.52,241.08 L576.14,240.58 L576.76,240.60 L577.38,241.19 L578.00,241.20 L578.61,240.86 L579.23,241.23 L579.84,241.46 L580.46,241.10 L581.07,241.37 L581.69,241.85 L582.30,241.97 L582.92,242.03 L583.53,242.31 L584.15,242.30 L584.77,242.94 L585.38,243.21 L586.00,243.45 L586.60,243.51 L587.20,244.48 L587.80,244.41 L588.40,244.42 L589.00,244.85 L589.60,245.82 L590.20,245.91 L590.80,245.81 L591.38,246.19 L591.96,246.39 L592.53,247.31 L593.11,247.58 L593.69,248.14 L594.27,249.18 L594.84,249.58 L595.42,249.18 L596.00,249.48 L596.60,249.46 L597.20,250.07 L597.80,250.39 L598.40,250.89 L599.00,251.49 L599.60,252.82 L600.20,252.75 L600.80,253.42 L601.40,253.17 L601.97,253.57 L602.55,253.41 L603.12,253.20 L603.69,253.65 L604.27,254.18 L604.84,254.16 L605.41,254.47 L605.99,254.25 L606.56,255.08 L607.13,255.29 L607.71,255.18 L608.28,255.83 L608.85,255.53 L609.43,255.29 L610.00,255.72 L610.58,255.96 L611.16,255.83 L611.73,255.84 L612.31,256.29 L612.89,256.43 L613.47,256.56 L614.04,256.56 L614.62,256.61 L615.20,256.87 L615.78,257.07 L616.36,257.37 L616.93,257.10 L617.51,256.97 L618.09,257.29 L618.67,257.43 L619.24,257.43 L619.82,257.89 L620.40,257.44 L620.96,257.68 L621.53,257.63 L622.09,257.62 L622.66,257.82 L623.22,258.03 L623.79,258.18 L624.35,258.29 L624.92,258.12 L625.48,258.34 L626.05,258.25 L626.61,258.86 L627.18,258.64 L627.74,258.25 L628.31,258.88 L628.87,258.64 L629.44,258.73 L630.00,258.93 L630.57,258.31 L631.14,258.98 L631.71,258.62 L632.28,259.27 L632.85,259.45 L633.42,258.84 L633.98,259.29 L634.55,259.40 L635.12,259.51 L635.69,259.60 L636.26,259.67 L636.83,259.72 L637.40,259.73 L637.40,259.73 Z" fill="#EE7B3E" stroke="none" stroke-width="0.6"/>
<path d="M566.20,259.73 L566.50,259.73 L567.17,258.59 L567.83,255.63 L568.50,253.74 L569.12,252.64 L569.75,250.43 L570.38,248.17 L571.00,246.82 L571.67,246.02 L572.33,243.69 L573.00,242.41 L573.63,242.53 L574.27,241.19 L574.90,240.51 L575.52,241.08 L576.14,240.58 L576.76,240.60 L577.38,241.19 L578.00,241.20 L578.61,240.86 L579.23,241.23 L579.84,241.46 L580.46,241.10 L581.07,241.37 L581.69,241.85 L582.30,241.97 L582.92,242.03 L583.53,242.31 L584.15,242.30 L584.77,242.94 L585.38,243.21 L586.00,243.45 L586.60,243.51 L587.20,244.48 L587.80,244.41 L588.40,244.42 L589.00,244.85 L589.60,245.82 L590.20,245.91 L590.80,245.81 L591.38,246.19 L591.96,246.39 L592.53,247.31 L593.11,247.58 L593.69,248.14 L594.27,249.18 L594.84,249.58 L595.42,249.18 L596.00,249.48 L596.60,249.46 L597.20,250.07 L597.80,250.39 L598.40,250.89 L599.00,251.49 L599.60,252.82 L600.20,252.75 L600.80,253.42 L601.40,253.17 L601.97,253.57 L602.55,253.41 L603.12,253.20 L603.69,253.65 L604.27,254.18 L604.84,254.16 L605.41,254.47 L605.99,254.25 L606.56,255.08 L607.13,255.29 L607.71,255.18 L608.28,255.83 L608.85,255.53 L609.43,255.29 L610.00,255.72 L610.58,255.96 L611.16,255.83 L611.73,255.84 L612.31,256.29 L612.89,256.43 L613.47,256.56 L614.04,256.56 L614.62,256.61 L615.20,256.87 L615.78,257.07 L616.36,257.37 L616.93,257.10 L617.51,256.97 L618.09,257.29 L618.67,257.43 L619.24,257.43 L619.82,257.89 L620.40,257.44 L620.96,257.68 L621.53,257.63 L622.09,257.62 L622.66,257.82 L623.22,258.03 L623.79,258.18 L624.35,258.29 L624.92,258.12 L625.48,258.34 L626.05,258.25 L626.61,258.86 L627.18,258.64 L627.74,258.25 L628.31,258.88 L628.87,258.64 L629.44,258.73 L630.00,258.93 L630.57,258.31 L631.14,258.98 L631.71,258.62 L632.28,259.27 L632.85,259.45 L633.42,258.84 L633.98,259.29 L634.55,259.40 L635.12,259.51 L635.69,259.60 L636.26,259.67 L636.83,259.72 L637.40,259.73" fill="none" stroke="#4a2412" stroke-width="0.5"/>
<line x1="543.50" y1="269.61" x2="680.70" y2="269.61" stroke="#a8a8a8" stroke-width="0.6"/>
<path d="M566.50,269.61 L566.50,269.61 L567.17,268.36 L567.83,266.30 L568.50,264.71 L569.12,263.72 L569.75,261.39 L570.38,259.90 L571.00,258.85 L571.62,257.41 L572.25,255.89 L572.88,254.70 L573.50,253.75 L574.12,253.22 L574.75,251.80 L575.38,250.72 L576.00,249.99 L576.60,250.07 L577.20,250.47 L577.80,250.42 L578.40,250.54 L579.00,250.57 L579.66,250.87 L580.32,250.69 L580.98,250.88 L581.64,250.79 L582.30,251.54 L582.92,251.01 L583.53,252.15 L584.15,251.92 L584.77,252.54 L585.38,252.97 L586.00,252.69 L586.60,253.15 L587.20,253.57 L587.80,253.64 L588.40,254.02 L589.00,254.72 L589.60,255.32 L590.20,255.54 L590.80,255.64 L591.38,255.54 L591.96,256.30 L592.53,256.74 L593.11,257.22 L593.69,258.04 L594.27,258.73 L594.84,258.84 L595.42,259.15 L596.00,259.61 L596.60,259.77 L597.20,260.32 L597.80,260.66 L598.40,261.34 L599.00,261.52 L599.60,262.05 L600.20,262.95 L600.80,262.51 L601.40,263.17 L601.97,262.73 L602.55,262.82 L603.12,262.84 L603.69,263.69 L604.27,263.70 L604.84,263.48 L605.41,264.53 L605.99,264.73 L606.56,264.50 L607.13,264.79 L607.71,264.61 L608.28,264.91 L608.85,265.26 L609.43,264.93 L610.00,265.39 L610.58,265.41 L611.16,265.31 L611.73,265.65 L612.31,265.77 L612.89,265.68 L613.47,266.03 L614.04,265.64 L614.62,266.04 L615.20,266.33 L615.78,266.88 L616.36,266.78 L616.93,266.90 L617.51,266.89 L618.09,267.00 L618.67,266.82 L619.24,266.82 L619.82,267.30 L620.40,267.36 L620.96,267.21 L621.53,266.91 L622.09,267.55 L622.66,267.45 L623.22,267.27 L623.79,267.95 L624.35,267.91 L624.92,267.42 L625.48,267.67 L626.05,268.05 L626.61,268.51 L627.18,267.90 L627.74,268.17 L628.31,268.12 L628.87,268.02 L629.44,268.15 L630.00,268.58 L630.56,268.83 L631.12,268.74 L631.68,268.59 L632.24,268.66 L632.79,269.02 L633.35,269.11 L633.91,268.80 L634.47,268.92 L635.03,269.24 L635.59,269.20 L636.15,269.29 L636.71,269.38 L637.26,269.45 L637.82,269.52 L638.38,269.56 L638.94,269.60 L639.50,269.61 L639.50,269.61 Z" fill="#EE7B3E" stroke="none" stroke-width="0.6"/>
<path d="M566.20,269.61 L566.50,269.61 L567.17,268.36 L567.83,266.30 L568.50,264.71 L569.12,263.72 L569.75,261.39 L570.38,259.90 L571.00,258.85 L571.62,257.41 L572.25,255.89 L572.88,254.70 L573.50,253.75 L574.12,253.22 L574.75,251.80 L575.38,250.72 L576.00,249.99 L576.60,250.07 L577.20,250.47 L577.80,250.42 L578.40,250.54 L579.00,250.57 L579.66,250.87 L580.32,250.69 L580.98,250.88 L581.64,250.79 L582.30,251.54 L582.92,251.01 L583.53,252.15 L584.15,251.92 L584.77,252.54 L585.38,252.97 L586.00,252.69 L586.60,253.15 L587.20,253.57 L587.80,253.64 L588.40,254.02 L589.00,254.72 L589.60,255.32 L590.20,255.54 L590.80,255.64 L591.38,255.54 L591.96,256.30 L592.53,256.74 L593.11,257.22 L593.69,258.04 L594.27,258.73 L594.84,258.84 L595.42,259.15 L596.00,259.61 L596.60,259.77 L597.20,260.32 L597.80,260.66 L598.40,261.34 L599.00,261.52 L599.60,262.05 L600.20,262.95 L600.80,262.51 L601.40,263.17 L601.97,262.73 L602.55,262.82 L603.12,262.84 L603.69,263.69 L604.27,263.70 L604.84,263.48 L605.41,264.53 L605.99,264.73 L606.56,264.50 L607.13,264.79 L607.71,264.61 L608.28,264.91 L608.85,265.26 L609.43,264.93 L610.00,265.39 L610.58,265.41 L611.16,265.31 L611.73,265.65 L612.31,265.77 L612.89,265.68 L613.47,266.03 L614.04,265.64 L614.62,266.04 L615.20,266.33 L615.78,266.88 L616.36,266.78 L616.93,266.90 L617.51,266.89 L618.09,267.00 L618.67,266.82 L619.24,266.82 L619.82,267.30 L620.40,267.36 L620.96,267.21 L621.53,266.91 L622.09,267.55 L622.66,267.45 L623.22,267.27 L623.79,267.95 L624.35,267.91 L624.92,267.42 L625.48,267.67 L626.05,268.05 L626.61,268.51 L627.18,267.90 L627.74,268.17 L628.31,268.12 L628.87,268.02 L629.44,268.15 L630.00,268.58 L630.56,268.83 L631.12,268.74 L631.68,268.59 L632.24,268.66 L632.79,269.02 L633.35,269.11 L633.91,268.80 L634.47,268.92 L635.03,269.24 L635.59,269.20 L636.15,269.29 L636.71,269.38 L637.26,269.45 L637.82,269.52 L638.38,269.56 L638.94,269.60 L639.50,269.61" fill="none" stroke="#4a2412" stroke-width="0.5"/>
<line x1="543.50" y1="279.48" x2="680.70" y2="279.48" stroke="#a8a8a8" stroke-width="0.6"/>
<path d="M569.60,279.48 L569.60,279.48 L570.23,277.48 L570.87,274.91 L571.50,273.89 L572.17,272.00 L572.83,268.78 L573.50,267.65 L574.17,266.40 L574.83,265.33 L575.50,264.16 L576.25,263.17 L577.00,262.90 L577.60,262.86 L578.20,263.36 L578.80,263.18 L579.40,263.20 L580.00,263.49 L580.56,263.16 L581.12,263.30 L581.69,262.93 L582.25,263.36 L582.81,263.57 L583.38,263.87 L583.94,263.88 L584.50,263.35 L585.08,264.00 L585.67,264.17 L586.25,264.33 L586.83,264.23 L587.42,264.12 L588.00,264.38 L588.56,264.27 L589.12,265.09 L589.68,265.31 L590.24,264.77 L590.80,265.24 L591.40,265.05 L592.00,265.79 L592.60,266.52 L593.20,267.05 L593.80,267.77 L594.40,267.46 L595.00,267.91 L595.58,268.20 L596.16,268.33 L596.75,268.72 L597.33,269.43 L597.91,269.14 L598.49,269.89 L599.07,270.01 L599.65,270.90 L600.24,271.07 L600.82,271.62 L601.40,271.89 L601.97,271.12 L602.55,271.28 L603.12,271.91 L603.69,271.56 L604.27,271.84 L604.84,272.54 L605.41,272.51 L605.99,272.44 L606.56,273.10 L607.13,272.93 L607.71,273.77 L608.28,273.82 L608.85,273.66 L609.43,274.20 L610.00,274.15 L610.58,273.66 L611.16,274.05 L611.73,273.84 L612.31,274.43 L612.89,274.59 L613.47,274.55 L614.04,274.83 L614.62,274.26 L615.20,275.02 L615.78,274.92 L616.36,275.46 L616.93,275.21 L617.51,275.46 L618.09,275.55 L618.67,275.95 L619.24,275.96 L619.82,275.37 L620.40,275.81 L620.96,275.93 L621.53,276.02 L622.09,276.01 L622.66,276.14 L623.22,276.43 L623.79,275.99 L624.35,276.41 L624.92,276.72 L625.48,276.37 L626.05,277.06 L626.61,277.03 L627.18,276.64 L627.74,277.39 L628.31,277.20 L628.87,276.92 L629.44,276.99 L630.00,277.59 L630.56,277.42 L631.12,277.13 L631.68,277.49 L632.24,277.04 L632.79,277.79 L633.35,277.22 L633.91,277.72 L634.47,278.07 L635.03,277.98 L635.59,278.37 L636.15,277.95 L636.71,278.44 L637.26,277.95 L637.82,278.30 L638.38,278.55 L638.94,278.70 L639.50,278.38 L640.05,278.75 L640.61,278.18 L641.16,278.89 L641.71,278.58 L642.26,278.61 L642.82,278.92 L643.37,278.54 L643.92,278.97 L644.47,278.80 L645.03,279.02 L645.58,279.10 L646.13,279.17 L646.68,279.24 L647.24,279.31 L647.79,279.37 L648.34,279.41 L648.89,279.45 L649.45,279.47 L650.00,279.48 L650.00,279.48 Z" fill="#12979A" stroke="none" stroke-width="0.6"/>
<path d="M569.30,279.48 L569.60,279.48 L570.23,277.48 L570.87,274.91 L571.50,273.89 L572.17,272.00 L572.83,268.78 L573.50,267.65 L574.17,266.40 L574.83,265.33 L575.50,264.16 L576.25,263.17 L577.00,262.90 L577.60,262.86 L578.20,263.36 L578.80,263.18 L579.40,263.20 L580.00,263.49 L580.56,263.16 L581.12,263.30 L581.69,262.93 L582.25,263.36 L582.81,263.57 L583.38,263.87 L583.94,263.88 L584.50,263.35 L585.08,264.00 L585.67,264.17 L586.25,264.33 L586.83,264.23 L587.42,264.12 L588.00,264.38 L588.56,264.27 L589.12,265.09 L589.68,265.31 L590.24,264.77 L590.80,265.24 L591.40,265.05 L592.00,265.79 L592.60,266.52 L593.20,267.05 L593.80,267.77 L594.40,267.46 L595.00,267.91 L595.58,268.20 L596.16,268.33 L596.75,268.72 L597.33,269.43 L597.91,269.14 L598.49,269.89 L599.07,270.01 L599.65,270.90 L600.24,271.07 L600.82,271.62 L601.40,271.89 L601.97,271.12 L602.55,271.28 L603.12,271.91 L603.69,271.56 L604.27,271.84 L604.84,272.54 L605.41,272.51 L605.99,272.44 L606.56,273.10 L607.13,272.93 L607.71,273.77 L608.28,273.82 L608.85,273.66 L609.43,274.20 L610.00,274.15 L610.58,273.66 L611.16,274.05 L611.73,273.84 L612.31,274.43 L612.89,274.59 L613.47,274.55 L614.04,274.83 L614.62,274.26 L615.20,275.02 L615.78,274.92 L616.36,275.46 L616.93,275.21 L617.51,275.46 L618.09,275.55 L618.67,275.95 L619.24,275.96 L619.82,275.37 L620.40,275.81 L620.96,275.93 L621.53,276.02 L622.09,276.01 L622.66,276.14 L623.22,276.43 L623.79,275.99 L624.35,276.41 L624.92,276.72 L625.48,276.37 L626.05,277.06 L626.61,277.03 L627.18,276.64 L627.74,277.39 L628.31,277.20 L628.87,276.92 L629.44,276.99 L630.00,277.59 L630.56,277.42 L631.12,277.13 L631.68,277.49 L632.24,277.04 L632.79,277.79 L633.35,277.22 L633.91,277.72 L634.47,278.07 L635.03,277.98 L635.59,278.37 L636.15,277.95 L636.71,278.44 L637.26,277.95 L637.82,278.30 L638.38,278.55 L638.94,278.70 L639.50,278.38 L640.05,278.75 L640.61,278.18 L641.16,278.89 L641.71,278.58 L642.26,278.61 L642.82,278.92 L643.37,278.54 L643.92,278.97 L644.47,278.80 L645.03,279.02 L645.58,279.10 L646.13,279.17 L646.68,279.24 L647.24,279.31 L647.79,279.37 L648.34,279.41 L648.89,279.45 L649.45,279.47 L650.00,279.48" fill="none" stroke="#08393a" stroke-width="0.5"/>
<line x1="543.50" y1="289.35" x2="680.70" y2="289.35" stroke="#a8a8a8" stroke-width="0.6"/>
<path d="M569.60,289.35 L569.60,289.35 L570.23,287.48 L570.87,284.34 L571.50,282.45 L572.17,281.17 L572.83,278.20 L573.50,276.04 L574.12,275.83 L574.75,274.01 L575.38,272.99 L576.00,271.90 L576.60,272.20 L577.20,272.38 L577.80,272.91 L578.40,273.42 L579.00,273.32 L579.55,273.45 L580.10,273.68 L580.65,273.35 L581.20,273.98 L581.75,274.14 L582.30,273.95 L582.85,274.32 L583.40,274.42 L583.95,274.58 L584.50,275.28 L585.08,275.24 L585.67,275.69 L586.25,275.39 L586.83,275.69 L587.42,276.20 L588.00,276.23 L588.61,276.08 L589.23,276.22 L589.84,276.89 L590.45,276.64 L591.06,277.38 L591.67,277.39 L592.29,277.97 L592.90,278.10 L593.49,277.53 L594.07,278.06 L594.66,278.59 L595.24,279.74 L595.83,280.25 L596.41,280.51 L597.00,280.63 L597.59,280.59 L598.18,280.69 L598.77,281.24 L599.36,281.30 L599.95,281.35 L600.55,282.12 L601.14,281.87 L601.73,282.42 L602.32,282.53 L602.91,283.11 L603.50,283.01 L604.07,282.82 L604.63,283.21 L605.20,283.65 L605.77,283.07 L606.33,283.33 L606.90,283.99 L607.47,284.44 L608.03,283.95 L608.60,284.41 L609.17,285.14 L609.73,285.16 L610.30,285.45 L610.87,284.97 L611.43,285.58 L612.00,284.98 L612.55,285.14 L613.10,285.76 L613.66,285.25 L614.21,285.57 L614.76,285.31 L615.31,285.31 L615.87,285.88 L616.42,286.14 L616.97,285.46 L617.52,286.03 L618.07,285.67 L618.63,285.98 L619.18,286.03 L619.73,286.05 L620.28,286.32 L620.83,286.56 L621.39,287.00 L621.94,286.49 L622.49,286.80 L623.04,286.77 L623.60,286.44 L624.15,287.18 L624.70,286.62 L625.27,287.28 L625.84,286.72 L626.42,286.67 L626.99,287.23 L627.56,287.06 L628.13,286.77 L628.71,287.17 L629.28,287.36 L629.85,287.73 L630.42,288.01 L630.99,287.84 L631.57,287.90 L632.14,288.18 L632.71,288.16 L633.28,288.38 L633.86,287.92 L634.43,287.99 L635.00,288.39 L635.55,288.41 L636.10,288.23 L636.65,288.39 L637.20,288.07 L637.75,288.74 L638.30,288.93 L638.85,288.90 L639.40,289.04 L639.95,289.17 L640.50,289.26 L641.05,289.33 L641.60,289.35 L641.60,289.35 Z" fill="#12979A" stroke="none" stroke-width="0.6"/>
<path d="M569.30,289.35 L569.60,289.35 L570.23,287.48 L570.87,284.34 L571.50,282.45 L572.17,281.17 L572.83,278.20 L573.50,276.04 L574.12,275.83 L574.75,274.01 L575.38,272.99 L576.00,271.90 L576.60,272.20 L577.20,272.38 L577.80,272.91 L578.40,273.42 L579.00,273.32 L579.55,273.45 L580.10,273.68 L580.65,273.35 L581.20,273.98 L581.75,274.14 L582.30,273.95 L582.85,274.32 L583.40,274.42 L583.95,274.58 L584.50,275.28 L585.08,275.24 L585.67,275.69 L586.25,275.39 L586.83,275.69 L587.42,276.20 L588.00,276.23 L588.61,276.08 L589.23,276.22 L589.84,276.89 L590.45,276.64 L591.06,277.38 L591.67,277.39 L592.29,277.97 L592.90,278.10 L593.49,277.53 L594.07,278.06 L594.66,278.59 L595.24,279.74 L595.83,280.25 L596.41,280.51 L597.00,280.63 L597.59,280.59 L598.18,280.69 L598.77,281.24 L599.36,281.30 L599.95,281.35 L600.55,282.12 L601.14,281.87 L601.73,282.42 L602.32,282.53 L602.91,283.11 L603.50,283.01 L604.07,282.82 L604.63,283.21 L605.20,283.65 L605.77,283.07 L606.33,283.33 L606.90,283.99 L607.47,284.44 L608.03,283.95 L608.60,284.41 L609.17,285.14 L609.73,285.16 L610.30,285.45 L610.87,284.97 L611.43,285.58 L612.00,284.98 L612.55,285.14 L613.10,285.76 L613.66,285.25 L614.21,285.57 L614.76,285.31 L615.31,285.31 L615.87,285.88 L616.42,286.14 L616.97,285.46 L617.52,286.03 L618.07,285.67 L618.63,285.98 L619.18,286.03 L619.73,286.05 L620.28,286.32 L620.83,286.56 L621.39,287.00 L621.94,286.49 L622.49,286.80 L623.04,286.77 L623.60,286.44 L624.15,287.18 L624.70,286.62 L625.27,287.28 L625.84,286.72 L626.42,286.67 L626.99,287.23 L627.56,287.06 L628.13,286.77 L628.71,287.17 L629.28,287.36 L629.85,287.73 L630.42,288.01 L630.99,287.84 L631.57,287.90 L632.14,288.18 L632.71,288.16 L633.28,288.38 L633.86,287.92 L634.43,287.99 L635.00,288.39 L635.55,288.41 L636.10,288.23 L636.65,288.39 L637.20,288.07 L637.75,288.74 L638.30,288.93 L638.85,288.90 L639.40,289.04 L639.95,289.17 L640.50,289.26 L641.05,289.33 L641.60,289.35" fill="none" stroke="#08393a" stroke-width="0.5"/>
<line x1="543.50" y1="299.23" x2="680.70" y2="299.23" stroke="#a8a8a8" stroke-width="0.6"/>
<path d="M571.80,299.23 L571.80,299.23 L572.40,295.38 L573.00,292.55 L573.75,288.67 L574.50,285.38 L575.13,283.96 L575.77,282.37 L576.40,281.19 L577.00,281.75 L577.60,281.35 L578.20,281.49 L578.80,281.68 L579.40,281.46 L580.00,281.43 L580.56,282.09 L581.12,281.98 L581.69,281.98 L582.25,282.19 L582.81,282.40 L583.38,282.26 L583.94,282.38 L584.50,281.95 L585.08,282.25 L585.67,282.76 L586.25,282.83 L586.83,282.97 L587.42,283.27 L588.00,283.53 L588.56,283.72 L589.12,284.02 L589.68,283.43 L590.24,283.90 L590.80,284.60 L591.40,284.25 L592.00,284.59 L592.60,285.74 L593.20,287.00 L593.80,287.44 L594.40,288.06 L595.00,288.51 L595.58,288.27 L596.16,288.97 L596.75,288.47 L597.33,289.12 L597.91,289.58 L598.49,289.77 L599.07,290.47 L599.65,291.23 L600.24,291.56 L600.82,291.87 L601.40,292.05 L601.97,291.41 L602.55,291.45 L603.12,292.08 L603.69,292.37 L604.27,292.18 L604.84,292.23 L605.41,292.41 L605.99,293.35 L606.56,293.06 L607.13,293.26 L607.71,293.55 L608.28,294.11 L608.85,294.38 L609.43,293.90 L610.00,294.39 L610.58,294.36 L611.16,294.24 L611.73,294.46 L612.31,294.13 L612.89,294.76 L613.47,295.05 L614.04,294.70 L614.62,294.78 L615.20,294.74 L615.78,294.97 L616.36,294.92 L616.93,295.01 L617.51,295.53 L618.09,295.63 L618.67,296.02 L619.24,295.95 L619.82,295.74 L620.40,296.20 L620.96,295.67 L621.53,296.18 L622.09,295.99 L622.66,295.60 L623.22,296.49 L623.79,296.64 L624.35,296.40 L624.92,296.74 L625.48,296.39 L626.05,297.16 L626.61,296.52 L627.18,296.61 L627.74,296.77 L628.31,297.18 L628.87,297.37 L629.44,297.07 L630.00,297.21 L630.55,297.31 L631.10,297.42 L631.66,297.39 L632.21,297.27 L632.76,297.22 L633.31,297.26 L633.87,298.05 L634.42,298.06 L634.97,298.06 L635.52,298.10 L636.08,298.43 L636.63,298.71 L637.18,298.95 L637.73,298.87 L638.29,298.83 L638.84,298.94 L639.39,299.04 L639.94,299.12 L640.50,299.18 L641.05,299.21 L641.60,299.23 L641.60,299.23 Z" fill="#12979A" stroke="none" stroke-width="0.6"/>
<path d="M571.50,299.23 L571.80,299.23 L572.40,295.38 L573.00,292.55 L573.75,288.67 L574.50,285.38 L575.13,283.96 L575.77,282.37 L576.40,281.19 L577.00,281.75 L577.60,281.35 L578.20,281.49 L578.80,281.68 L579.40,281.46 L580.00,281.43 L580.56,282.09 L581.12,281.98 L581.69,281.98 L582.25,282.19 L582.81,282.40 L583.38,282.26 L583.94,282.38 L584.50,281.95 L585.08,282.25 L585.67,282.76 L586.25,282.83 L586.83,282.97 L587.42,283.27 L588.00,283.53 L588.56,283.72 L589.12,284.02 L589.68,283.43 L590.24,283.90 L590.80,284.60 L591.40,284.25 L592.00,284.59 L592.60,285.74 L593.20,287.00 L593.80,287.44 L594.40,288.06 L595.00,288.51 L595.58,288.27 L596.16,288.97 L596.75,288.47 L597.33,289.12 L597.91,289.58 L598.49,289.77 L599.07,290.47 L599.65,291.23 L600.24,291.56 L600.82,291.87 L601.40,292.05 L601.97,291.41 L602.55,291.45 L603.12,292.08 L603.69,292.37 L604.27,292.18 L604.84,292.23 L605.41,292.41 L605.99,293.35 L606.56,293.06 L607.13,293.26 L607.71,293.55 L608.28,294.11 L608.85,294.38 L609.43,293.90 L610.00,294.39 L610.58,294.36 L611.16,294.24 L611.73,294.46 L612.31,294.13 L612.89,294.76 L613.47,295.05 L614.04,294.70 L614.62,294.78 L615.20,294.74 L615.78,294.97 L616.36,294.92 L616.93,295.01 L617.51,295.53 L618.09,295.63 L618.67,296.02 L619.24,295.95 L619.82,295.74 L620.40,296.20 L620.96,295.67 L621.53,296.18 L622.09,295.99 L622.66,295.60 L623.22,296.49 L623.79,296.64 L624.35,296.40 L624.92,296.74 L625.48,296.39 L626.05,297.16 L626.61,296.52 L627.18,296.61 L627.74,296.77 L628.31,297.18 L628.87,297.37 L629.44,297.07 L630.00,297.21 L630.55,297.31 L631.10,297.42 L631.66,297.39 L632.21,297.27 L632.76,297.22 L633.31,297.26 L633.87,298.05 L634.42,298.06 L634.97,298.06 L635.52,298.10 L636.08,298.43 L636.63,298.71 L637.18,298.95 L637.73,298.87 L638.29,298.83 L638.84,298.94 L639.39,299.04 L639.94,299.12 L640.50,299.18 L641.05,299.21 L641.60,299.23" fill="none" stroke="#08393a" stroke-width="0.5"/>
<line x1="543.50" y1="309.10" x2="680.70" y2="309.10" stroke="#a8a8a8" stroke-width="0.6"/>
<path d="M564.30,309.10 L564.30,309.10 L564.92,308.88 L565.53,308.36 L566.15,307.18 L566.77,306.51 L567.38,305.99 L568.00,305.67 L568.63,305.39 L569.27,304.96 L569.90,303.82 L570.53,303.53 L571.17,302.24 L571.80,302.00 L572.44,301.92 L573.08,300.80 L573.72,299.42 L574.36,298.98 L575.00,298.47 L575.60,298.56 L576.20,297.97 L576.80,296.72 L577.40,296.66 L578.00,295.75 L578.60,294.76 L579.20,294.75 L579.76,295.27 L580.32,295.22 L580.88,296.05 L581.44,296.33 L582.00,296.68 L582.62,296.78 L583.25,297.19 L583.88,297.79 L584.50,298.25 L585.12,298.44 L585.75,298.35 L586.38,299.21 L587.00,299.85 L587.67,299.30 L588.33,300.09 L589.00,300.36 L589.57,300.03 L590.14,300.44 L590.71,300.44 L591.29,300.62 L591.86,301.13 L592.43,300.97 L593.00,301.45 L593.55,301.10 L594.11,301.09 L594.66,301.62 L595.21,301.42 L595.76,301.84 L596.32,301.65 L596.87,301.42 L597.42,301.86 L597.97,301.87 L598.53,302.00 L599.08,302.74 L599.63,302.11 L600.18,302.50 L600.74,303.20 L601.29,302.66 L601.84,303.16 L602.39,303.43 L602.95,302.77 L603.50,303.14 L604.07,302.97 L604.63,303.61 L605.20,303.13 L605.77,303.90 L606.33,303.88 L606.90,303.91 L607.47,304.40 L608.03,304.05 L608.60,304.56 L609.17,304.64 L609.73,304.42 L610.30,304.79 L610.87,304.47 L611.43,304.77 L612.00,304.57 L612.55,304.85 L613.10,304.55 L613.66,304.63 L614.21,305.31 L614.76,304.85 L615.31,305.28 L615.87,304.97 L616.42,305.13 L616.97,305.08 L617.52,305.80 L618.07,305.67 L618.63,305.43 L619.18,305.33 L619.73,305.63 L620.28,306.32 L620.83,305.90 L621.39,306.42 L621.94,306.09 L622.49,305.91 L623.04,306.58 L623.60,305.89 L624.15,306.13 L624.70,306.52 L625.27,306.59 L625.84,306.39 L626.42,306.09 L626.99,306.39 L627.56,306.89 L628.13,307.07 L628.71,307.09 L629.28,306.57 L629.85,307.23 L630.42,307.01 L630.99,307.35 L631.57,307.09 L632.14,307.46 L632.71,307.76 L633.28,307.17 L633.86,307.52 L634.43,307.42 L635.00,307.32 L635.55,307.22 L636.10,308.12 L636.65,307.91 L637.20,308.20 L637.75,308.01 L638.30,307.81 L638.85,308.02 L639.40,308.83 L639.95,308.81 L640.50,308.62 L641.05,308.68 L641.60,308.70 L642.16,308.71 L642.72,308.72 L643.28,308.74 L643.84,308.77 L644.40,308.80 L644.96,308.84 L645.52,308.88 L646.08,308.92 L646.64,308.96 L647.20,309.00 L647.76,309.03 L648.32,309.06 L648.88,309.08 L649.44,309.09 L650.00,309.10 L650.00,309.10 Z" fill="#12979A" stroke="none" stroke-width="0.6"/>
<path d="M564.00,309.10 L564.30,309.10 L564.92,308.88 L565.53,308.36 L566.15,307.18 L566.77,306.51 L567.38,305.99 L568.00,305.67 L568.63,305.39 L569.27,304.96 L569.90,303.82 L570.53,303.53 L571.17,302.24 L571.80,302.00 L572.44,301.92 L573.08,300.80 L573.72,299.42 L574.36,298.98 L575.00,298.47 L575.60,298.56 L576.20,297.97 L576.80,296.72 L577.40,296.66 L578.00,295.75 L578.60,294.76 L579.20,294.75 L579.76,295.27 L580.32,295.22 L580.88,296.05 L581.44,296.33 L582.00,296.68 L582.62,296.78 L583.25,297.19 L583.88,297.79 L584.50,298.25 L585.12,298.44 L585.75,298.35 L586.38,299.21 L587.00,299.85 L587.67,299.30 L588.33,300.09 L589.00,300.36 L589.57,300.03 L590.14,300.44 L590.71,300.44 L591.29,300.62 L591.86,301.13 L592.43,300.97 L593.00,301.45 L593.55,301.10 L594.11,301.09 L594.66,301.62 L595.21,301.42 L595.76,301.84 L596.32,301.65 L596.87,301.42 L597.42,301.86 L597.97,301.87 L598.53,302.00 L599.08,302.74 L599.63,302.11 L600.18,302.50 L600.74,303.20 L601.29,302.66 L601.84,303.16 L602.39,303.43 L602.95,302.77 L603.50,303.14 L604.07,302.97 L604.63,303.61 L605.20,303.13 L605.77,303.90 L606.33,303.88 L606.90,303.91 L607.47,304.40 L608.03,304.05 L608.60,304.56 L609.17,304.64 L609.73,304.42 L610.30,304.79 L610.87,304.47 L611.43,304.77 L612.00,304.57 L612.55,304.85 L613.10,304.55 L613.66,304.63 L614.21,305.31 L614.76,304.85 L615.31,305.28 L615.87,304.97 L616.42,305.13 L616.97,305.08 L617.52,305.80 L618.07,305.67 L618.63,305.43 L619.18,305.33 L619.73,305.63 L620.28,306.32 L620.83,305.90 L621.39,306.42 L621.94,306.09 L622.49,305.91 L623.04,306.58 L623.60,305.89 L624.15,306.13 L624.70,306.52 L625.27,306.59 L625.84,306.39 L626.42,306.09 L626.99,306.39 L627.56,306.89 L628.13,307.07 L628.71,307.09 L629.28,306.57 L629.85,307.23 L630.42,307.01 L630.99,307.35 L631.57,307.09 L632.14,307.46 L632.71,307.76 L633.28,307.17 L633.86,307.52 L634.43,307.42 L635.00,307.32 L635.55,307.22 L636.10,308.12 L636.65,307.91 L637.20,308.20 L637.75,308.01 L638.30,307.81 L638.85,308.02 L639.40,308.83 L639.95,308.81 L640.50,308.62 L641.05,308.68 L641.60,308.70 L642.16,308.71 L642.72,308.72 L643.28,308.74 L643.84,308.77 L644.40,308.80 L644.96,308.84 L645.52,308.88 L646.08,308.92 L646.64,308.96 L647.20,309.00 L647.76,309.03 L648.32,309.06 L648.88,309.08 L649.44,309.09 L650.00,309.10" fill="none" stroke="#08393a" stroke-width="0.5"/>
<line x1="575.40" y1="144.30" x2="575.40" y2="309.10" stroke="#e050d0" stroke-width="0.6" stroke-dasharray="1.5,1.2"/>
<text x="638.70" y="150.90" font-size="7.55" fill="#0d0d0d" stroke="#0d0d0d" stroke-width="0.12">sgCtrl</text>
<text x="638.70" y="168.27" font-size="7.55" fill="#0d0d0d" stroke="#0d0d0d" stroke-width="0.12">sgUSP16</text>
<text x="638.70" y="178.15" font-size="7.55" fill="#0d0d0d" stroke="#0d0d0d" stroke-width="0.12">sgERBB4</text>
<text x="638.70" y="188.02" font-size="7.55" fill="#0d0d0d" stroke="#0d0d0d" stroke-width="0.12">sgTP53</text>
<text x="638.70" y="197.89" font-size="7.55" fill="#0d0d0d" stroke="#0d0d0d" stroke-width="0.12">sgDNAJC2</text>
<text x="638.70" y="207.77" font-size="7.55" fill="#0d0d0d" stroke="#0d0d0d" stroke-width="0.12">sgDKC1</text>
<text x="638.70" y="217.64" font-size="7.55" fill="#0d0d0d" stroke="#0d0d0d" stroke-width="0.12">sgTLK2</text>
<text x="638.70" y="227.51" font-size="7.55" fill="#0d0d0d" stroke="#0d0d0d" stroke-width="0.12">sgINO80</text>
<text x="638.70" y="237.39" font-size="7.55" fill="#0d0d0d" stroke="#0d0d0d" stroke-width="0.12">sgUBE2A</text>
<text x="638.70" y="247.26" font-size="7.55" fill="#0d0d0d" stroke="#0d0d0d" stroke-width="0.12">sgNONO</text>
<text x="638.70" y="257.13" font-size="7.55" fill="#0d0d0d" stroke="#0d0d0d" stroke-width="0.12">sgDNTTIP2</text>
<text x="638.70" y="267.01" font-size="7.55" fill="#0d0d0d" stroke="#0d0d0d" stroke-width="0.12">sgZMYM3</text>
<text x="638.70" y="276.88" font-size="7.55" fill="#0d0d0d" stroke="#0d0d0d" stroke-width="0.12">sgELAVL1</text>
<text x="638.70" y="286.75" font-size="7.55" fill="#0d0d0d" stroke="#0d0d0d" stroke-width="0.12">sgYEATS2</text>
<text x="638.70" y="296.63" font-size="7.55" fill="#0d0d0d" stroke="#0d0d0d" stroke-width="0.12">sgCPEB1</text>
<text x="638.70" y="306.50" font-size="7.55" fill="#0d0d0d" stroke="#0d0d0d" stroke-width="0.12">sgRAG2</text>
<rect x="543.50" y="143.30" width="137.20" height="165.80" fill="none" stroke="#404040" stroke-width="0.7"/>
<line x1="565.40" y1="309.10" x2="565.40" y2="311.30" stroke="#444" stroke-width="0.5"/>
<line x1="608.10" y1="309.10" x2="608.10" y2="311.30" stroke="#444" stroke-width="0.5"/>
<line x1="650.80" y1="309.10" x2="650.80" y2="311.30" stroke="#444" stroke-width="0.5"/>
<line x1="548.41" y1="309.10" x2="548.41" y2="310.30" stroke="#666" stroke-width="0.4"/>
<line x1="552.55" y1="309.10" x2="552.55" y2="310.30" stroke="#666" stroke-width="0.4"/>
<line x1="555.93" y1="309.10" x2="555.93" y2="310.30" stroke="#666" stroke-width="0.4"/>
<line x1="558.79" y1="309.10" x2="558.79" y2="310.30" stroke="#666" stroke-width="0.4"/>
<line x1="561.26" y1="309.10" x2="561.26" y2="310.30" stroke="#666" stroke-width="0.4"/>
<line x1="563.45" y1="309.10" x2="563.45" y2="310.30" stroke="#666" stroke-width="0.4"/>
<line x1="578.25" y1="309.10" x2="578.25" y2="310.30" stroke="#666" stroke-width="0.4"/>
<line x1="585.77" y1="309.10" x2="585.77" y2="310.30" stroke="#666" stroke-width="0.4"/>
<line x1="591.11" y1="309.10" x2="591.11" y2="310.30" stroke="#666" stroke-width="0.4"/>
<line x1="595.25" y1="309.10" x2="595.25" y2="310.30" stroke="#666" stroke-width="0.4"/>
<line x1="598.63" y1="309.10" x2="598.63" y2="310.30" stroke="#666" stroke-width="0.4"/>
<line x1="601.49" y1="309.10" x2="601.49" y2="310.30" stroke="#666" stroke-width="0.4"/>
<line x1="603.96" y1="309.10" x2="603.96" y2="310.30" stroke="#666" stroke-width="0.4"/>
<line x1="606.15" y1="309.10" x2="606.15" y2="310.30" stroke="#666" stroke-width="0.4"/>
<line x1="620.95" y1="309.10" x2="620.95" y2="310.30" stroke="#666" stroke-width="0.4"/>
<line x1="628.47" y1="309.10" x2="628.47" y2="310.30" stroke="#666" stroke-width="0.4"/>
<line x1="633.81" y1="309.10" x2="633.81" y2="310.30" stroke="#666" stroke-width="0.4"/>
<line x1="637.95" y1="309.10" x2="637.95" y2="310.30" stroke="#666" stroke-width="0.4"/>
<line x1="641.33" y1="309.10" x2="641.33" y2="310.30" stroke="#666" stroke-width="0.4"/>
<line x1="644.19" y1="309.10" x2="644.19" y2="310.30" stroke="#666" stroke-width="0.4"/>
<line x1="646.66" y1="309.10" x2="646.66" y2="310.30" stroke="#666" stroke-width="0.4"/>
<line x1="648.85" y1="309.10" x2="648.85" y2="310.30" stroke="#666" stroke-width="0.4"/>
<line x1="663.65" y1="309.10" x2="663.65" y2="310.30" stroke="#666" stroke-width="0.4"/>
<line x1="671.17" y1="309.10" x2="671.17" y2="310.30" stroke="#666" stroke-width="0.4"/>
<line x1="676.51" y1="309.10" x2="676.51" y2="310.30" stroke="#666" stroke-width="0.4"/>
<line x1="680.65" y1="309.10" x2="680.65" y2="310.30" stroke="#666" stroke-width="0.4"/>
<text x="561.60" y="320.20" font-size="6.6" fill="#0d0d0d" stroke="#0d0d0d" stroke-width="0.12">10<tspan font-size="4.6" dy="-2.8">4</tspan></text>
<text x="604.30" y="320.20" font-size="6.6" fill="#0d0d0d" stroke="#0d0d0d" stroke-width="0.12">10<tspan font-size="4.6" dy="-2.8">5</tspan></text>
<text x="647.00" y="320.20" font-size="6.6" fill="#0d0d0d" stroke="#0d0d0d" stroke-width="0.12">10<tspan font-size="4.6" dy="-2.8">6</tspan></text>
<text x="541.20" y="328.80" font-size="9.5" fill="#0d0d0d" stroke="#0d0d0d" stroke-width="0.12">BiFC</text>
<line x1="567.00" y1="325.30" x2="592.10" y2="325.30" stroke="#a0a0a0" stroke-width="0.6"/>
<polygon points="595.30,325.30 592.10,326.70 592.10,323.90" fill="#a0a0a0" stroke="none" stroke-width="0.6"/>
<text x="537.00" y="281.80" font-size="9.95" text-anchor="middle" fill="#0d0d0d" stroke="#0d0d0d" stroke-width="0.12" transform="rotate(-90 537.00 281.80) ">Cell counts</text>
<line x1="534.30" y1="252.60" x2="534.30" y2="224.50" stroke="#a0a0a0" stroke-width="0.6"/>
<polygon points="534.30,221.30 535.70,224.50 532.90,224.50" fill="#a0a0a0" stroke="none" stroke-width="0.6"/>
<text x="322.50" y="343.50" font-size="13" font-weight="bold" fill="#000" stroke="#000" stroke-width="0.55">f</text>
<text x="374.90" y="350.30" font-size="9.3" fill="#0d0d0d" stroke="#0d0d0d" stroke-width="0.12">CTCF &amp; RAD21</text>
<text x="368.80" y="360.10" font-size="8.95" fill="#0d0d0d" stroke="#0d0d0d" stroke-width="0.12">Wald's FDR = 0.015</text>
<line x1="384.50" y1="371.00" x2="384.50" y2="387.50" stroke="#666" stroke-width="0.6"/>
<line x1="384.50" y1="397.00" x2="384.50" y2="439.20" stroke="#666" stroke-width="0.6"/>
<line x1="379.70" y1="385.50" x2="387.80" y2="392.50" stroke="#333" stroke-width="0.6"/>
<line x1="379.70" y1="395.50" x2="387.80" y2="402.70" stroke="#333" stroke-width="0.6"/>
<line x1="384.50" y1="439.20" x2="435.60" y2="439.20" stroke="#666" stroke-width="0.6"/>
<line x1="382.70" y1="371.00" x2="384.50" y2="371.00" stroke="#666" stroke-width="0.6"/>
<text x="379.30" y="373.80" font-size="7.7" text-anchor="end" fill="#0d0d0d" stroke="#0d0d0d" stroke-width="0.12">10000</text>
<line x1="382.70" y1="380.30" x2="384.50" y2="380.30" stroke="#666" stroke-width="0.6"/>
<text x="379.30" y="383.10" font-size="7.7" text-anchor="end" fill="#0d0d0d" stroke="#0d0d0d" stroke-width="0.12">7500</text>
<line x1="382.70" y1="387.70" x2="384.50" y2="387.70" stroke="#666" stroke-width="0.6"/>
<text x="379.30" y="390.50" font-size="7.7" text-anchor="end" fill="#0d0d0d" stroke="#0d0d0d" stroke-width="0.12">5000</text>
<line x1="382.70" y1="396.70" x2="384.50" y2="396.70" stroke="#666" stroke-width="0.6"/>
<text x="379.30" y="399.50" font-size="7.7" text-anchor="end" fill="#0d0d0d" stroke="#0d0d0d" stroke-width="0.12">1500</text>
<line x1="382.70" y1="412.20" x2="384.50" y2="412.20" stroke="#666" stroke-width="0.6"/>
<text x="379.30" y="415.00" font-size="7.7" text-anchor="end" fill="#0d0d0d" stroke="#0d0d0d" stroke-width="0.12">1000</text>
<line x1="382.70" y1="426.00" x2="384.50" y2="426.00" stroke="#666" stroke-width="0.6"/>
<text x="379.30" y="428.80" font-size="7.7" text-anchor="end" fill="#0d0d0d" stroke="#0d0d0d" stroke-width="0.12">500</text>
<line x1="382.70" y1="439.20" x2="384.50" y2="439.20" stroke="#666" stroke-width="0.6"/>
<text x="379.30" y="442.00" font-size="7.7" text-anchor="end" fill="#0d0d0d" stroke="#0d0d0d" stroke-width="0.12">0</text>
<text x="358.40" y="404.00" font-size="9.7" text-anchor="middle" fill="#0d0d0d" stroke="#0d0d0d" stroke-width="0.12" transform="rotate(-90 358.40 404.00) ">Normalized count</text>
<text x="389.70" y="449.80" font-size="9.4" fill="#0d0d0d" stroke="#0d0d0d" stroke-width="0.12">high</text>
<text x="415.30" y="449.80" font-size="9.4" fill="#0d0d0d" stroke="#0d0d0d" stroke-width="0.12">low</text>
<polyline points="398.60,370.50 398.60,368.20 421.00,368.20 421.00,381.50" fill="none" stroke="#555" stroke-width="0.6"/>
<line x1="398.60" y1="374.90" x2="421.00" y2="389.10" stroke="#777" stroke-width="0.45"/>
<line x1="398.60" y1="406.50" x2="421.00" y2="410.00" stroke="#777" stroke-width="0.45"/>
<line x1="398.60" y1="407.70" x2="421.00" y2="422.70" stroke="#777" stroke-width="0.45"/>
<line x1="398.60" y1="418.00" x2="421.00" y2="424.20" stroke="#777" stroke-width="0.45"/>
<line x1="398.60" y1="432.70" x2="421.00" y2="430.80" stroke="#777" stroke-width="0.45"/>
<line x1="398.60" y1="433.70" x2="421.00" y2="431.80" stroke="#777" stroke-width="0.45"/>
<line x1="398.60" y1="435.00" x2="421.00" y2="435.60" stroke="#777" stroke-width="0.45"/>
<line x1="398.60" y1="436.00" x2="421.00" y2="438.40" stroke="#777" stroke-width="0.45"/>
<line x1="398.60" y1="434.20" x2="421.00" y2="430.20" stroke="#777" stroke-width="0.45"/>
<circle cx="398.6" cy="374.9" r="1.5" fill="#fff" stroke="#2aa6b0" stroke-width="0.6"/>
<circle cx="421.0" cy="389.1" r="1.5" fill="#fff" stroke="#ee8a5a" stroke-width="0.6"/>
<circle cx="398.6" cy="406.5" r="1.5" fill="#fff" stroke="#2aa6b0" stroke-width="0.6"/>
<circle cx="421.0" cy="410.0" r="1.5" fill="#fff" stroke="#ee8a5a" stroke-width="0.6"/>
<circle cx="398.6" cy="407.7" r="1.5" fill="#fff" stroke="#2aa6b0" stroke-width="0.6"/>
<circle cx="421.0" cy="422.7" r="1.5" fill="#fff" stroke="#ee8a5a" stroke-width="0.6"/>
<circle cx="398.6" cy="418.0" r="1.5" fill="#fff" stroke="#2aa6b0" stroke-width="0.6"/>
<circle cx="421.0" cy="424.2" r="1.5" fill="#fff" stroke="#ee8a5a" stroke-width="0.6"/>
<circle cx="398.6" cy="432.7" r="1.5" fill="#fff" stroke="#2aa6b0" stroke-width="0.6"/>
<circle cx="421.0" cy="430.8" r="1.5" fill="#fff" stroke="#ee8a5a" stroke-width="0.6"/>
<circle cx="398.6" cy="433.7" r="1.5" fill="#fff" stroke="#2aa6b0" stroke-width="0.6"/>
<circle cx="421.0" cy="431.8" r="1.5" fill="#fff" stroke="#ee8a5a" stroke-width="0.6"/>
<circle cx="398.6" cy="435.0" r="1.5" fill="#fff" stroke="#2aa6b0" stroke-width="0.6"/>
<circle cx="421.0" cy="435.6" r="1.5" fill="#fff" stroke="#ee8a5a" stroke-width="0.6"/>
<circle cx="398.6" cy="436.0" r="1.5" fill="#fff" stroke="#2aa6b0" stroke-width="0.6"/>
<circle cx="421.0" cy="438.4" r="1.5" fill="#fff" stroke="#ee8a5a" stroke-width="0.6"/>
<circle cx="398.6" cy="434.2" r="1.5" fill="#fff" stroke="#2aa6b0" stroke-width="0.6"/>
<circle cx="421.0" cy="430.2" r="1.5" fill="#fff" stroke="#ee8a5a" stroke-width="0.6"/>
<text x="478.00" y="350.30" font-size="9.3" fill="#0d0d0d" stroke="#0d0d0d" stroke-width="0.12">CTCF &amp; SMC3</text>
<text x="468.10" y="360.10" font-size="8.95" fill="#0d0d0d" stroke="#0d0d0d" stroke-width="0.12">Wald's FDR &lt; 0.0001</text>
<line x1="484.50" y1="371.00" x2="484.50" y2="387.50" stroke="#666" stroke-width="0.6"/>
<line x1="484.50" y1="397.00" x2="484.50" y2="439.20" stroke="#666" stroke-width="0.6"/>
<line x1="479.70" y1="385.50" x2="487.80" y2="392.50" stroke="#333" stroke-width="0.6"/>
<line x1="479.70" y1="395.50" x2="487.80" y2="402.70" stroke="#333" stroke-width="0.6"/>
<line x1="484.50" y1="439.20" x2="535.60" y2="439.20" stroke="#666" stroke-width="0.6"/>
<line x1="482.70" y1="371.00" x2="484.50" y2="371.00" stroke="#666" stroke-width="0.6"/>
<text x="479.30" y="373.80" font-size="7.7" text-anchor="end" fill="#0d0d0d" stroke="#0d0d0d" stroke-width="0.12">10000</text>
<line x1="482.70" y1="380.30" x2="484.50" y2="380.30" stroke="#666" stroke-width="0.6"/>
<text x="479.30" y="383.10" font-size="7.7" text-anchor="end" fill="#0d0d0d" stroke="#0d0d0d" stroke-width="0.12">7500</text>
<line x1="482.70" y1="387.70" x2="484.50" y2="387.70" stroke="#666" stroke-width="0.6"/>
<text x="479.30" y="390.50" font-size="7.7" text-anchor="end" fill="#0d0d0d" stroke="#0d0d0d" stroke-width="0.12">5000</text>
<line x1="482.70" y1="396.70" x2="484.50" y2="396.70" stroke="#666" stroke-width="0.6"/>
<text x="479.30" y="399.50" font-size="7.7" text-anchor="end" fill="#0d0d0d" stroke="#0d0d0d" stroke-width="0.12">1500</text>
<line x1="482.70" y1="412.20" x2="484.50" y2="412.20" stroke="#666" stroke-width="0.6"/>
<text x="479.30" y="415.00" font-size="7.7" text-anchor="end" fill="#0d0d0d" stroke="#0d0d0d" stroke-width="0.12">1000</text>
<line x1="482.70" y1="426.00" x2="484.50" y2="426.00" stroke="#666" stroke-width="0.6"/>
<text x="479.30" y="428.80" font-size="7.7" text-anchor="end" fill="#0d0d0d" stroke="#0d0d0d" stroke-width="0.12">500</text>
<line x1="482.70" y1="439.20" x2="484.50" y2="439.20" stroke="#666" stroke-width="0.6"/>
<text x="479.30" y="442.00" font-size="7.7" text-anchor="end" fill="#0d0d0d" stroke="#0d0d0d" stroke-width="0.12">0</text>
<text x="458.40" y="404.00" font-size="9.7" text-anchor="middle" fill="#0d0d0d" stroke="#0d0d0d" stroke-width="0.12" transform="rotate(-90 458.40 404.00) ">Normalized count</text>
<text x="489.70" y="449.80" font-size="9.4" fill="#0d0d0d" stroke="#0d0d0d" stroke-width="0.12">high</text>
<text x="514.00" y="449.80" font-size="9.4" fill="#0d0d0d" stroke="#0d0d0d" stroke-width="0.12">low</text>
<polyline points="498.50,370.50 498.50,368.20 520.70,368.20 520.70,383.00" fill="none" stroke="#555" stroke-width="0.6"/>
<line x1="498.50" y1="374.90" x2="520.70" y2="389.10" stroke="#777" stroke-width="0.45"/>
<line x1="498.50" y1="401.80" x2="520.70" y2="412.40" stroke="#777" stroke-width="0.45"/>
<line x1="498.50" y1="412.40" x2="520.70" y2="418.50" stroke="#777" stroke-width="0.45"/>
<line x1="498.50" y1="425.00" x2="520.70" y2="419.50" stroke="#777" stroke-width="0.45"/>
<line x1="498.50" y1="427.00" x2="520.70" y2="429.00" stroke="#777" stroke-width="0.45"/>
<line x1="498.50" y1="430.80" x2="520.70" y2="432.70" stroke="#777" stroke-width="0.45"/>
<line x1="498.50" y1="432.70" x2="520.70" y2="435.60" stroke="#777" stroke-width="0.45"/>
<line x1="498.50" y1="434.60" x2="520.70" y2="438.40" stroke="#777" stroke-width="0.45"/>
<line x1="498.50" y1="431.50" x2="520.70" y2="433.50" stroke="#777" stroke-width="0.45"/>
<line x1="498.50" y1="433.50" x2="520.70" y2="437.00" stroke="#777" stroke-width="0.45"/>
<circle cx="498.5" cy="374.9" r="1.5" fill="#fff" stroke="#2aa6b0" stroke-width="0.6"/>
<circle cx="520.7" cy="389.1" r="1.5" fill="#fff" stroke="#ee8a5a" stroke-width="0.6"/>
<circle cx="498.5" cy="401.8" r="1.5" fill="#fff" stroke="#2aa6b0" stroke-width="0.6"/>
<circle cx="520.7" cy="412.4" r="1.5" fill="#fff" stroke="#ee8a5a" stroke-width="0.6"/>
<circle cx="498.5" cy="412.4" r="1.5" fill="#fff" stroke="#2aa6b0" stroke-width="0.6"/>
<circle cx="520.7" cy="418.5" r="1.5" fill="#fff" stroke="#ee8a5a" stroke-width="0.6"/>
<circle cx="498.5" cy="425.0" r="1.5" fill="#fff" stroke="#2aa6b0" stroke-width="0.6"/>
<circle cx="520.7" cy="419.5" r="1.5" fill="#fff" stroke="#ee8a5a" stroke-width="0.6"/>
<circle cx="498.5" cy="427.0" r="1.5" fill="#fff" stroke="#2aa6b0" stroke-width="0.6"/>
<circle cx="520.7" cy="429.0" r="1.5" fill="#fff" stroke="#ee8a5a" stroke-width="0.6"/>
<circle cx="498.5" cy="430.8" r="1.5" fill="#fff" stroke="#2aa6b0" stroke-width="0.6"/>
<circle cx="520.7" cy="432.7" r="1.5" fill="#fff" stroke="#ee8a5a" stroke-width="0.6"/>
<circle cx="498.5" cy="432.7" r="1.5" fill="#fff" stroke="#2aa6b0" stroke-width="0.6"/>
<circle cx="520.7" cy="435.6" r="1.5" fill="#fff" stroke="#ee8a5a" stroke-width="0.6"/>
<circle cx="498.5" cy="434.6" r="1.5" fill="#fff" stroke="#2aa6b0" stroke-width="0.6"/>
<circle cx="520.7" cy="438.4" r="1.5" fill="#fff" stroke="#ee8a5a" stroke-width="0.6"/>
<circle cx="498.5" cy="431.5" r="1.5" fill="#fff" stroke="#2aa6b0" stroke-width="0.6"/>
<circle cx="520.7" cy="433.5" r="1.5" fill="#fff" stroke="#ee8a5a" stroke-width="0.6"/>
<circle cx="498.5" cy="433.5" r="1.5" fill="#fff" stroke="#2aa6b0" stroke-width="0.6"/>
<circle cx="520.7" cy="437.0" r="1.5" fill="#fff" stroke="#ee8a5a" stroke-width="0.6"/>
<text x="583.10" y="350.30" font-size="9.3" fill="#0d0d0d" stroke="#0d0d0d" stroke-width="0.12">YFPc &amp; YFPn</text>
<text x="572.50" y="360.10" font-size="8.95" fill="#0d0d0d" stroke="#0d0d0d" stroke-width="0.12">Wald's FDR = 0.459</text>
<line x1="587.70" y1="371.00" x2="587.70" y2="387.50" stroke="#666" stroke-width="0.6"/>
<line x1="587.70" y1="397.00" x2="587.70" y2="439.20" stroke="#666" stroke-width="0.6"/>
<line x1="582.90" y1="385.50" x2="591.00" y2="392.50" stroke="#333" stroke-width="0.6"/>
<line x1="582.90" y1="395.50" x2="591.00" y2="402.70" stroke="#333" stroke-width="0.6"/>
<line x1="587.70" y1="439.20" x2="639.50" y2="439.20" stroke="#666" stroke-width="0.6"/>
<line x1="585.90" y1="371.00" x2="587.70" y2="371.00" stroke="#666" stroke-width="0.6"/>
<text x="583.80" y="373.80" font-size="7.2" text-anchor="end" fill="#0d0d0d" stroke="#0d0d0d" stroke-width="0.12">10000</text>
<line x1="585.90" y1="380.30" x2="587.70" y2="380.30" stroke="#666" stroke-width="0.6"/>
<text x="583.80" y="383.10" font-size="7.2" text-anchor="end" fill="#0d0d0d" stroke="#0d0d0d" stroke-width="0.12">7500</text>
<line x1="585.90" y1="387.70" x2="587.70" y2="387.70" stroke="#666" stroke-width="0.6"/>
<text x="583.80" y="390.50" font-size="7.2" text-anchor="end" fill="#0d0d0d" stroke="#0d0d0d" stroke-width="0.12">5000</text>
<line x1="585.90" y1="397.30" x2="587.70" y2="397.30" stroke="#666" stroke-width="0.6"/>
<text x="583.80" y="400.10" font-size="7.2" text-anchor="end" fill="#0d0d0d" stroke="#0d0d0d" stroke-width="0.12">2000</text>
<line x1="585.90" y1="409.50" x2="587.70" y2="409.50" stroke="#666" stroke-width="0.6"/>
<text x="583.80" y="412.30" font-size="7.2" text-anchor="end" fill="#0d0d0d" stroke="#0d0d0d" stroke-width="0.12">1500</text>
<line x1="585.90" y1="419.00" x2="587.70" y2="419.00" stroke="#666" stroke-width="0.6"/>
<text x="583.80" y="421.80" font-size="7.2" text-anchor="end" fill="#0d0d0d" stroke="#0d0d0d" stroke-width="0.12">1000</text>
<line x1="585.90" y1="429.00" x2="587.70" y2="429.00" stroke="#666" stroke-width="0.6"/>
<text x="583.80" y="431.80" font-size="7.2" text-anchor="end" fill="#0d0d0d" stroke="#0d0d0d" stroke-width="0.12">500</text>
<line x1="585.90" y1="439.20" x2="587.70" y2="439.20" stroke="#666" stroke-width="0.6"/>
<text x="583.80" y="442.00" font-size="7.2" text-anchor="end" fill="#0d0d0d" stroke="#0d0d0d" stroke-width="0.12">0</text>
<text x="562.00" y="404.00" font-size="9.7" text-anchor="middle" fill="#0d0d0d" stroke="#0d0d0d" stroke-width="0.12" transform="rotate(-90 562.00 404.00) ">Normalized count</text>
<text x="593.00" y="449.80" font-size="9.4" fill="#0d0d0d" stroke="#0d0d0d" stroke-width="0.12">high</text>
<text x="616.70" y="449.80" font-size="9.4" fill="#0d0d0d" stroke="#0d0d0d" stroke-width="0.12">low</text>
<polyline points="602.40,370.50 602.40,368.20 624.70,368.20 624.70,373.00" fill="none" stroke="#555" stroke-width="0.6"/>
<line x1="602.40" y1="381.50" x2="624.70" y2="389.10" stroke="#777" stroke-width="0.45"/>
<line x1="602.40" y1="411.50" x2="624.70" y2="406.70" stroke="#777" stroke-width="0.45"/>
<line x1="602.40" y1="411.50" x2="624.70" y2="423.30" stroke="#777" stroke-width="0.45"/>
<line x1="602.40" y1="421.00" x2="624.70" y2="427.40" stroke="#777" stroke-width="0.45"/>
<line x1="602.40" y1="434.60" x2="624.70" y2="431.80" stroke="#777" stroke-width="0.45"/>
<line x1="602.40" y1="435.60" x2="624.70" y2="433.30" stroke="#777" stroke-width="0.45"/>
<line x1="602.40" y1="436.50" x2="624.70" y2="436.00" stroke="#777" stroke-width="0.45"/>
<line x1="602.40" y1="437.50" x2="624.70" y2="438.40" stroke="#777" stroke-width="0.45"/>
<line x1="602.40" y1="436.00" x2="624.70" y2="432.00" stroke="#777" stroke-width="0.45"/>
<circle cx="602.4" cy="381.5" r="1.5" fill="#fff" stroke="#2aa6b0" stroke-width="0.6"/>
<circle cx="624.7" cy="389.1" r="1.5" fill="#fff" stroke="#ee8a5a" stroke-width="0.6"/>
<circle cx="602.4" cy="411.5" r="1.5" fill="#fff" stroke="#2aa6b0" stroke-width="0.6"/>
<circle cx="624.7" cy="406.7" r="1.5" fill="#fff" stroke="#ee8a5a" stroke-width="0.6"/>
<circle cx="602.4" cy="411.5" r="1.5" fill="#fff" stroke="#2aa6b0" stroke-width="0.6"/>
<circle cx="624.7" cy="423.3" r="1.5" fill="#fff" stroke="#ee8a5a" stroke-width="0.6"/>
<circle cx="602.4" cy="421.0" r="1.5" fill="#fff" stroke="#2aa6b0" stroke-width="0.6"/>
<circle cx="624.7" cy="427.4" r="1.5" fill="#fff" stroke="#ee8a5a" stroke-width="0.6"/>
<circle cx="602.4" cy="434.6" r="1.5" fill="#fff" stroke="#2aa6b0" stroke-width="0.6"/>
<circle cx="624.7" cy="431.8" r="1.5" fill="#fff" stroke="#ee8a5a" stroke-width="0.6"/>
<circle cx="602.4" cy="435.6" r="1.5" fill="#fff" stroke="#2aa6b0" stroke-width="0.6"/>
<circle cx="624.7" cy="433.3" r="1.5" fill="#fff" stroke="#ee8a5a" stroke-width="0.6"/>
<circle cx="602.4" cy="436.5" r="1.5" fill="#fff" stroke="#2aa6b0" stroke-width="0.6"/>
<circle cx="624.7" cy="436.0" r="1.5" fill="#fff" stroke="#ee8a5a" stroke-width="0.6"/>
<circle cx="602.4" cy="437.5" r="1.5" fill="#fff" stroke="#2aa6b0" stroke-width="0.6"/>
<circle cx="624.7" cy="438.4" r="1.5" fill="#fff" stroke="#ee8a5a" stroke-width="0.6"/>
<circle cx="602.4" cy="436.0" r="1.5" fill="#fff" stroke="#2aa6b0" stroke-width="0.6"/>
<circle cx="624.7" cy="432.0" r="1.5" fill="#fff" stroke="#ee8a5a" stroke-width="0.6"/>
<text x="326.00" y="471.20" font-size="13" font-weight="bold" fill="#000" stroke="#000" stroke-width="0.55">g</text>
<defs><filter id="blur1" x="-10%" y="-30%" width="120%" height="160%"><feGaussianBlur stdDeviation="1.1"/></filter>
<filter id="blur2" x="-10%" y="-30%" width="120%" height="160%"><feGaussianBlur stdDeviation="0.6"/></filter>
<filter id="blur3" x="-10%" y="-30%" width="120%" height="160%"><feGaussianBlur stdDeviation="0.35"/></filter></defs>
<text x="382.30" y="476.40" font-size="9.6" fill="#0d0d0d" stroke="#0d0d0d" stroke-width="0.12">CTCF ChIP-seq</text>
<rect x="383.0" y="482.5" width="67.30000000000001" height="59.299999999999955" fill="#fff"/>
<line x1="383.00" y1="509.40" x2="450.30" y2="509.40" stroke="#c6e2f6" stroke-width="1.2"/>
<polygon points="391.50,502.50 392.00,502.39 392.50,502.28 393.00,502.16 393.50,502.05 394.00,501.94 394.50,497.80 395.00,497.76 395.50,497.73 396.00,497.69 396.50,497.66 397.00,497.62 397.50,497.73 398.00,498.04 398.50,498.35 399.00,498.67 399.50,498.98 400.00,499.29 400.50,499.61 401.00,499.92 401.50,500.24 402.00,500.55 402.50,500.86 403.00,501.18 403.50,501.49 404.00,501.80 404.50,502.12 405.00,502.43 405.50,502.75 406.00,503.06 406.50,503.37 407.00,503.69 407.50,504.00 408.00,504.18 408.50,504.37 409.00,504.55 409.50,504.74 410.00,504.92 410.50,505.11 411.00,505.29 411.50,505.48 412.00,505.66 412.50,505.84 413.00,506.03 413.50,506.21 414.00,506.40 414.50,506.58 415.00,506.77 415.50,506.95 416.00,507.14 416.50,507.32 417.00,507.50 417.50,507.69 418.00,507.86 418.50,508.02 419.00,508.18 419.50,508.33 420.00,508.49 420.50,508.65 421.00,508.80 421.50,508.96 422.00,509.12 422.50,509.27 423.00,509.43 423.50,509.59 424.00,509.75 424.50,509.90 425.00,510.06 425.50,510.22 426.00,510.37 426.50,510.53 427.00,510.69 427.50,510.84 428.00,511.00 428.50,511.13 429.00,511.26 429.50,511.40 430.00,511.53 430.50,511.66 431.00,511.79 431.50,511.93 432.00,512.06 432.50,512.19 433.00,512.32 433.50,512.46 434.00,512.59 434.50,512.72 435.00,512.85 435.50,512.99 436.00,513.12 436.50,513.25 437.00,513.38 437.50,513.51 438.00,513.65 438.50,513.76 439.00,513.86 439.50,513.97 440.00,514.07 440.50,514.17 441.00,514.28 441.50,514.38 442.00,514.48 442.50,514.58 443.00,514.69 443.50,514.79 444.00,514.89 444.50,514.99 445.00,515.10 445.50,515.20 445.50,515.20 445.00,515.27 444.50,515.34 444.00,515.41 443.50,515.47 443.00,515.54 442.50,515.61 442.00,515.68 441.50,515.75 441.00,515.82 440.50,515.88 440.00,515.95 439.50,516.02 439.00,516.09 438.50,516.16 438.00,516.23 437.50,516.30 437.00,516.36 436.50,516.43 436.00,516.50 435.50,516.57 435.00,516.64 434.50,516.71 434.00,516.78 433.50,516.85 433.00,516.91 432.50,516.98 432.00,517.05 431.50,517.12 431.00,517.19 430.50,517.26 430.00,517.33 429.50,517.39 429.00,517.46 428.50,517.53 428.00,517.60 427.50,517.70 427.00,517.81 426.50,517.91 426.00,518.01 425.50,518.11 425.00,518.22 424.50,518.32 424.00,518.42 423.50,518.53 423.00,518.63 422.50,518.73 422.00,518.84 421.50,518.94 421.00,519.04 420.50,519.14 420.00,519.25 419.50,519.35 419.00,519.45 418.50,519.56 418.00,519.66 417.50,519.79 417.00,519.94 416.50,520.09 416.00,520.24 415.50,520.39 415.00,520.54 414.50,520.69 414.00,520.84 413.50,520.99 413.00,521.14 412.50,521.30 412.00,521.45 411.50,521.60 411.00,521.75 410.50,521.90 410.00,522.05 409.50,522.20 409.00,522.35 408.50,522.50 408.00,522.65 407.50,522.80 407.00,522.98 406.50,523.17 406.00,523.35 405.50,523.54 405.00,523.72 404.50,523.91 404.00,524.09 403.50,524.28 403.00,524.46 402.50,524.65 402.00,524.83 401.50,525.02 401.00,525.20 400.50,525.39 400.00,525.57 399.50,525.76 399.00,525.94 398.50,526.13 398.00,526.24 397.50,526.30 397.00,526.37 396.50,526.43 396.00,526.50 395.50,522.44 395.00,522.70 394.50,522.96 394.00,523.21 393.50,523.47 393.00,523.73 392.50,523.99 392.00,524.24 391.50,524.50" fill="#c4dcf0" stroke="none" stroke-width="0.6" filter="url(#blur1)"/>
<polygon points="391.50,516.50 392.00,515.30 392.50,513.99 393.00,512.68 393.50,511.37 394.00,510.06 394.50,508.75 395.00,507.43 395.50,506.12 396.00,504.81 396.50,503.50 397.00,503.39 397.50,503.41 398.00,503.63 398.50,503.86 399.00,504.08 399.50,504.31 400.00,504.53 400.50,504.76 401.00,504.98 401.50,505.21 402.00,505.43 402.50,505.66 403.00,505.90 403.50,506.14 404.00,506.38 404.50,506.62 405.00,506.86 405.50,507.10 406.00,507.33 406.50,507.57 407.00,507.81 407.50,508.05 408.00,508.17 408.50,508.29 409.00,508.41 409.50,508.53 410.00,508.65 410.50,508.78 411.00,508.90 411.50,509.02 412.00,509.14 412.50,509.26 413.00,509.38 413.50,509.51 414.00,509.64 414.50,509.77 415.00,509.89 415.50,510.02 416.00,510.15 416.50,510.28 417.00,510.41 417.50,510.53 418.00,510.65 418.50,510.77 419.00,510.88 419.50,510.99 420.00,511.10 420.50,511.22 421.00,511.33 421.50,511.44 422.00,511.55 422.50,511.67 423.00,511.78 423.50,511.89 424.00,512.00 424.50,512.11 425.00,512.23 425.50,512.34 426.00,512.45 426.50,512.56 427.00,512.68 427.50,512.79 428.00,512.90 428.50,512.99 429.00,513.07 429.50,513.16 430.00,513.24 430.50,513.33 431.00,513.42 431.50,513.50 432.00,513.59 432.50,513.67 433.00,513.76 433.50,513.84 434.00,513.93 434.50,514.02 435.00,514.10 435.50,514.19 436.00,514.27 436.50,514.36 437.00,514.45 437.50,514.53 438.00,514.62 438.50,514.67 439.00,514.71 439.50,514.75 440.00,514.79 440.50,514.82 441.00,514.86 441.50,514.90 442.00,514.94 442.50,514.97 443.00,515.01 443.50,515.05 444.00,515.09 444.50,515.12 445.00,515.16 445.50,515.20 445.50,515.20 445.00,515.21 444.50,515.22 444.00,515.23 443.50,515.24 443.00,515.25 442.50,515.25 442.00,515.26 441.50,515.27 441.00,515.28 440.50,515.29 440.00,515.30 439.50,515.31 439.00,515.32 438.50,515.33 438.00,515.34 437.50,515.36 437.00,515.38 436.50,515.39 436.00,515.41 435.50,515.43 435.00,515.45 434.50,515.47 434.00,515.49 433.50,515.50 433.00,515.52 432.50,515.54 432.00,515.56 431.50,515.58 431.00,515.60 430.50,515.61 430.00,515.63 429.50,515.65 429.00,515.67 428.50,515.69 428.00,515.70 427.50,515.74 427.00,515.78 426.50,515.82 426.00,515.86 425.50,515.89 425.00,515.93 424.50,515.97 424.00,516.01 423.50,516.04 423.00,516.08 422.50,516.12 422.00,516.16 421.50,516.20 421.00,516.23 420.50,516.27 420.00,516.31 419.50,516.35 419.00,516.38 418.50,516.42 418.00,516.46 417.50,516.52 417.00,516.59 416.50,516.66 416.00,516.73 415.50,516.80 415.00,516.87 414.50,516.94 414.00,517.01 413.50,517.08 413.00,517.15 412.50,517.22 412.00,517.30 411.50,517.38 411.00,517.46 410.50,517.53 410.00,517.61 409.50,517.69 409.00,517.76 408.50,517.84 408.00,517.92 407.50,518.00 407.00,518.10 406.50,518.21 406.00,518.32 405.50,518.43 405.00,518.54 404.50,518.65 404.00,518.76 403.50,518.87 403.00,518.98 402.50,519.09 402.00,519.21 401.50,519.33 401.00,519.45 400.50,519.58 400.00,519.70 399.50,519.82 399.00,519.94 398.50,520.07 398.00,520.26 397.50,520.49 397.00,520.73 396.50,520.96 396.00,520.64 395.50,520.29 395.00,519.92 394.50,519.52 394.00,519.10 393.50,518.65 393.00,518.18 392.50,517.68 392.00,517.16 391.50,516.50" fill="#7eb0da" stroke="none" stroke-width="0.6" filter="url(#blur1)" opacity="0.9"/>
<polygon points="391.50,516.50 392.00,515.93 392.50,515.24 393.00,514.56 393.50,513.87 394.00,513.19 394.50,512.51 395.00,511.82 395.50,511.14 396.00,510.45 396.50,509.77 397.00,509.08 397.50,508.47 398.00,508.00 398.50,507.57 399.00,507.16 399.50,506.79 400.00,506.93 400.50,507.08 401.00,507.23 401.50,507.37 402.00,507.52 402.50,507.67 403.00,507.85 403.50,508.03 404.00,508.20 404.50,508.38 405.00,508.56 405.50,508.74 406.00,508.92 406.50,509.09 407.00,509.27 407.50,509.45 408.00,509.54 408.50,509.63 409.00,509.71 409.50,509.80 410.00,509.89 410.50,509.98 411.00,510.07 411.50,510.15 412.00,510.24 412.50,510.33 413.00,510.43 413.50,510.53 414.00,510.63 414.50,510.74 415.00,510.84 415.50,510.95 416.00,511.05 416.50,511.15 417.00,511.26 417.50,511.36 418.00,511.46 418.50,511.55 419.00,511.64 419.50,511.74 420.00,511.83 420.50,511.92 421.00,512.01 421.50,512.10 422.00,512.20 422.50,512.29 423.00,512.38 423.50,512.47 424.00,512.56 424.50,512.66 425.00,512.75 425.50,512.84 426.00,512.93 426.50,513.02 427.00,513.12 427.50,513.21 428.00,513.30 428.50,513.37 429.00,513.44 429.50,513.51 430.00,513.58 430.50,513.65 431.00,513.72 431.50,513.79 432.00,513.86 432.50,513.93 433.00,514.00 433.50,514.07 434.00,514.14 434.50,514.21 435.00,514.28 435.50,514.35 436.00,514.42 436.50,514.49 437.00,514.56 437.50,514.62 438.00,514.69 438.50,514.74 439.00,514.77 439.50,514.81 440.00,514.84 440.50,514.87 441.00,514.91 441.50,514.94 442.00,514.97 442.50,515.00 443.00,515.04 443.50,515.07 444.00,515.10 444.50,515.13 445.00,515.17 445.50,515.20 445.50,515.20 445.00,515.20 444.50,515.21 444.00,515.21 443.50,515.21 443.00,515.21 442.50,515.22 442.00,515.22 441.50,515.22 441.00,515.23 440.50,515.23 440.00,515.23 439.50,515.23 439.00,515.24 438.50,515.24 438.00,515.25 437.50,515.26 437.00,515.27 436.50,515.28 436.00,515.29 435.50,515.30 435.00,515.31 434.50,515.32 434.00,515.33 433.50,515.34 433.00,515.35 432.50,515.36 432.00,515.37 431.50,515.38 431.00,515.39 430.50,515.40 430.00,515.41 429.50,515.42 429.00,515.43 428.50,515.44 428.00,515.44 427.50,515.47 427.00,515.49 426.50,515.51 426.00,515.54 425.50,515.56 425.00,515.58 424.50,515.60 424.00,515.63 423.50,515.65 423.00,515.67 422.50,515.69 422.00,515.72 421.50,515.74 421.00,515.76 420.50,515.79 420.00,515.81 419.50,515.83 419.00,515.85 418.50,515.88 418.00,515.90 417.50,515.94 417.00,515.98 416.50,516.03 416.00,516.08 415.50,516.13 415.00,516.18 414.50,516.22 414.00,516.27 413.50,516.32 413.00,516.37 412.50,516.42 412.00,516.48 411.50,516.55 411.00,516.61 410.50,516.67 410.00,516.74 409.50,516.80 409.00,516.86 408.50,516.93 408.00,516.99 407.50,517.06 407.00,517.14 406.50,517.23 406.00,517.32 405.50,517.41 405.00,517.50 404.50,517.58 404.00,517.67 403.50,517.76 403.00,517.85 402.50,517.94 402.00,518.05 401.50,518.17 401.00,518.29 400.50,518.41 400.00,518.53 399.50,518.65 399.00,518.53 398.50,518.41 398.00,518.33 397.50,518.27 397.00,518.20 396.50,518.11 396.00,518.02 395.50,517.91 395.00,517.79 394.50,517.66 394.00,517.51 393.50,517.35 393.00,517.19 392.50,517.01 392.00,516.81 391.50,516.50" fill="#3a78b6" stroke="none" stroke-width="0.6" filter="url(#blur1)" opacity="0.9"/>
<polygon points="391.50,516.50 392.00,516.21 392.50,515.81 393.00,515.41 393.50,515.01 394.00,514.61 394.50,514.21 395.00,513.81 395.50,513.42 396.00,513.02 396.50,512.62 397.00,512.22 397.50,511.85 398.00,511.56 398.50,511.29 399.00,511.03 399.50,510.79 400.00,510.56 400.50,510.35 401.00,510.15 401.50,509.98 402.00,509.81 402.50,509.68 403.00,509.80 403.50,509.91 404.00,510.03 404.50,510.15 405.00,510.26 405.50,510.38 406.00,510.50 406.50,510.62 407.00,510.73 407.50,510.85 408.00,510.91 408.50,510.96 409.00,511.02 409.50,511.07 410.00,511.13 410.50,511.18 411.00,511.24 411.50,511.29 412.00,511.34 412.50,511.40 413.00,511.47 413.50,511.55 414.00,511.63 414.50,511.71 415.00,511.79 415.50,511.87 416.00,511.95 416.50,512.03 417.00,512.11 417.50,512.19 418.00,512.27 418.50,512.34 419.00,512.41 419.50,512.48 420.00,512.55 420.50,512.62 421.00,512.70 421.50,512.77 422.00,512.84 422.50,512.91 423.00,512.98 423.50,513.05 424.00,513.13 424.50,513.20 425.00,513.27 425.50,513.34 426.00,513.41 426.50,513.48 427.00,513.56 427.50,513.63 428.00,513.70 428.50,513.75 429.00,513.81 429.50,513.86 430.00,513.91 430.50,513.97 431.00,514.02 431.50,514.07 432.00,514.13 432.50,514.18 433.00,514.24 433.50,514.29 434.00,514.34 434.50,514.40 435.00,514.45 435.50,514.50 436.00,514.56 436.50,514.61 437.00,514.66 437.50,514.72 438.00,514.77 438.50,514.81 439.00,514.84 439.50,514.86 440.00,514.89 440.50,514.92 441.00,514.95 441.50,514.98 442.00,515.00 442.50,515.03 443.00,515.06 443.50,515.09 444.00,515.12 444.50,515.14 445.00,515.17 445.50,515.20 445.50,515.20 445.00,515.20 444.50,515.19 444.00,515.19 443.50,515.19 443.00,515.18 442.50,515.18 442.00,515.18 441.50,515.17 441.00,515.17 440.50,515.17 440.00,515.16 439.50,515.16 439.00,515.16 438.50,515.15 438.00,515.15 437.50,515.15 437.00,515.16 436.50,515.16 436.00,515.16 435.50,515.16 435.00,515.16 434.50,515.16 434.00,515.17 433.50,515.17 433.00,515.17 432.50,515.17 432.00,515.17 431.50,515.17 431.00,515.18 430.50,515.18 430.00,515.18 429.50,515.18 429.00,515.18 428.50,515.18 428.00,515.18 427.50,515.19 427.00,515.20 426.50,515.21 426.00,515.22 425.50,515.22 425.00,515.23 424.50,515.24 424.00,515.25 423.50,515.25 423.00,515.26 422.50,515.27 422.00,515.28 421.50,515.28 421.00,515.29 420.50,515.30 420.00,515.31 419.50,515.32 419.00,515.32 418.50,515.33 418.00,515.34 417.50,515.36 417.00,515.38 416.50,515.41 416.00,515.43 415.50,515.46 415.00,515.48 414.50,515.51 414.00,515.53 413.50,515.56 413.00,515.58 412.50,515.62 412.00,515.67 411.50,515.72 411.00,515.77 410.50,515.82 410.00,515.87 409.50,515.92 409.00,515.97 408.50,516.02 408.00,516.07 407.50,516.12 407.00,516.18 406.50,516.25 406.00,516.32 405.50,516.38 405.00,516.45 404.50,516.52 404.00,516.58 403.50,516.65 403.00,516.72 402.50,516.79 402.00,516.77 401.50,516.77 401.00,516.77 400.50,516.77 400.00,516.76 399.50,516.76 399.00,516.75 398.50,516.75 398.00,516.76 397.50,516.79 397.00,516.81 396.50,516.82 396.00,516.82 395.50,516.82 395.00,516.82 394.50,516.81 394.00,516.79 393.50,516.77 393.00,516.74 392.50,516.70 392.00,516.66 391.50,516.50" fill="#1d4a82" stroke="none" stroke-width="0.6" filter="url(#blur1)" opacity="0.95"/>
<polygon points="391.50,516.50 392.00,516.37 392.50,516.13 393.00,515.89 393.50,515.64 394.00,515.40 394.50,515.16 395.00,514.92 395.50,514.68 396.00,514.44 396.50,514.19 397.00,513.95 397.50,513.73 398.00,513.53 398.50,513.35 399.00,513.17 399.50,513.00 400.00,512.84 400.50,512.68 401.00,512.53 401.50,512.39 402.00,512.26 402.50,512.15 403.00,512.10 403.50,512.06 404.00,512.02 404.50,511.99 405.00,511.96 405.50,511.94 406.00,512.00 406.50,512.06 407.00,512.12 407.50,512.18 408.00,512.20 408.50,512.23 409.00,512.25 409.50,512.28 410.00,512.30 410.50,512.32 411.00,512.35 411.50,512.37 412.00,512.39 412.50,512.42 413.00,512.46 413.50,512.52 414.00,512.57 414.50,512.63 415.00,512.69 415.50,512.75 416.00,512.80 416.50,512.86 417.00,512.92 417.50,512.98 418.00,513.03 418.50,513.08 419.00,513.14 419.50,513.19 420.00,513.24 420.50,513.29 421.00,513.35 421.50,513.40 422.00,513.45 422.50,513.50 423.00,513.56 423.50,513.61 424.00,513.66 424.50,513.71 425.00,513.77 425.50,513.82 426.00,513.87 426.50,513.92 427.00,513.98 427.50,514.03 428.00,514.08 428.50,514.12 429.00,514.16 429.50,514.19 430.00,514.23 430.50,514.27 431.00,514.31 431.50,514.35 432.00,514.39 432.50,514.42 433.00,514.46 433.50,514.50 434.00,514.54 434.50,514.58 435.00,514.61 435.50,514.65 436.00,514.69 436.50,514.73 437.00,514.77 437.50,514.81 438.00,514.84 438.50,514.87 439.00,514.90 439.50,514.92 440.00,514.94 440.50,514.97 441.00,514.99 441.50,515.01 442.00,515.04 442.50,515.06 443.00,515.08 443.50,515.11 444.00,515.13 444.50,515.15 445.00,515.18 445.50,515.20 445.50,515.20 445.00,515.19 444.50,515.18 444.00,515.17 443.50,515.16 443.00,515.15 442.50,515.15 442.00,515.14 441.50,515.13 441.00,515.12 440.50,515.11 440.00,515.10 439.50,515.09 439.00,515.08 438.50,515.07 438.00,515.06 437.50,515.06 437.00,515.05 436.50,515.05 436.00,515.04 435.50,515.03 435.00,515.03 434.50,515.02 434.00,515.01 433.50,515.01 433.00,515.00 432.50,514.99 432.00,514.99 431.50,514.98 431.00,514.98 430.50,514.97 430.00,514.96 429.50,514.96 429.00,514.95 428.50,514.94 428.00,514.94 427.50,514.93 427.00,514.92 426.50,514.92 426.00,514.91 425.50,514.90 425.00,514.90 424.50,514.89 424.00,514.89 423.50,514.88 423.00,514.87 422.50,514.87 422.00,514.86 421.50,514.85 421.00,514.85 420.50,514.84 420.00,514.83 419.50,514.83 419.00,514.82 418.50,514.81 418.00,514.81 417.50,514.81 417.00,514.81 416.50,514.81 416.00,514.82 415.50,514.82 415.00,514.82 414.50,514.83 414.00,514.83 413.50,514.83 413.00,514.84 412.50,514.85 412.00,514.89 411.50,514.93 411.00,514.96 410.50,515.00 410.00,515.04 409.50,515.08 409.00,515.11 408.50,515.15 408.00,515.19 407.50,515.22 407.00,515.27 406.50,515.32 406.00,515.36 405.50,515.41 405.00,515.41 404.50,515.41 404.00,515.40 403.50,515.39 403.00,515.38 402.50,515.37 402.00,515.42 401.50,515.48 401.00,515.54 400.50,515.59 400.00,515.65 399.50,515.71 399.00,515.77 398.50,515.83 398.00,515.90 397.50,515.97 397.00,516.04 396.50,516.10 396.00,516.16 395.50,516.22 395.00,516.28 394.50,516.34 394.00,516.39 393.50,516.44 393.00,516.49 392.50,516.53 392.00,516.57 391.50,516.50" fill="#112a55" stroke="none" stroke-width="0.6" filter="url(#blur2)" opacity="1.0"/>
<polygon points="394.50,497.80 397.30,497.60 407.50,504.00 417.80,507.80 428.00,511.00 438.20,513.70 445.50,515.20 445.50,515.80 438.20,515.20 428.00,513.20 417.80,510.60 407.50,507.60 397.30,501.80" fill="#ea1f7f" stroke="none" stroke-width="0.6" filter="url(#blur3)" opacity="0.9"/>
<polygon points="396.00,526.50 398.30,526.20 407.50,522.80 417.80,519.70 428.00,517.60 438.20,516.20 445.50,515.20 445.50,514.60 438.20,514.80 428.00,515.30 417.80,516.30 407.50,518.10 398.30,520.40" fill="#ea1f7f" stroke="none" stroke-width="0.6" filter="url(#blur3)" opacity="0.9"/>
<path d="M427.2,510.2h.8M430.0,509.9h.8M418.9,507.5h.8M420.9,508.1h.8M414.0,505.6h.8M410.0,504.6h.8M441.9,513.5h.8M406.2,503.1h.8M405.8,502.6h.8M394.8,497.3h.8M436.3,512.2h.8M421.8,508.7h.8M409.0,504.4h.8M409.0,504.2h.8M409.3,504.5h.8M439.5,512.7h.8M410.8,504.1h.8M398.3,497.6h.8M403.1,498.6h.8M411.6,504.1h.8M431.7,510.2h.8M397.8,497.0h.8M417.8,507.1h.8M406.9,503.1h.8M395.6,497.3h.8M428.3,510.4h.8M405.0,501.9h.8M423.4,509.2h.8M436.0,512.7h.8M429.7,510.9h.8M440.7,513.9h.8M433.4,512.2h.8M436.5,513.0h.8M403.5,501.1h.8M420.3,507.6h.8M438.8,512.8h.8M404.7,501.5h.8M425.6,508.8h.8M414.0,506.0h.8M397.3,496.8h.8M414.4,505.2h.8M410.6,504.7h.8M418.2,507.3h.8M416.7,507.0h.8M395.2,496.6h.8M441.9,513.9h.8M397.2,496.4h.8M410.3,504.0h.8M399.0,498.3h.8M431.3,511.4h.8M398.8,498.1h.8M420.4,507.6h.8M422.7,508.0h.8M423.4,509.1h.8M410.4,505.0h.8M428.6,510.4h.8M431.1,511.7h.8M431.6,511.1h.8M441.4,513.6h.8M419.6,508.1h.8M439.7,513.9h.8M417.3,507.5h.8M426.0,510.2h.8M442.0,513.5h.8M405.5,502.7h.8M395.8,497.3h.8M400.9,498.8h.8M421.2,508.4h.8M403.2,500.4h.8M401.7,500.0h.8M404.3,524.2h.8M403.5,526.5h.8M397.4,526.5h.8M441.7,516.5h.8M419.2,520.0h.8M433.2,517.6h.8M417.4,520.8h.8M401.0,527.1h.8M430.1,518.6h.8M414.7,521.2h.8M436.2,517.7h.8M415.1,521.0h.8M438.7,517.4h.8M406.4,523.7h.8M407.7,522.8h.8M406.8,524.1h.8M405.4,523.6h.8M409.9,523.5h.8M442.2,515.9h.8M403.3,525.6h.8M436.1,517.0h.8M430.9,517.8h.8M434.3,516.9h.8M418.6,520.4h.8M437.4,517.1h.8M423.8,519.8h.8M417.1,521.7h.8M405.8,524.4h.8M437.1,517.5h.8M436.1,517.8h.8M404.5,526.0h.8M409.8,524.5h.8M397.1,528.4h.8M396.4,528.2h.8M438.4,517.1h.8M400.5,526.7h.8M403.8,524.3h.8M411.8,521.9h.8M438.7,516.6h.8M441.6,517.8h.8M397.5,526.5h.8M428.1,519.4h.8M397.8,527.0h.8M416.0,520.3h.8M400.9,528.3h.8M410.7,522.2h.8M436.9,517.2h.8M402.3,525.5h.8M415.9,520.9h.8M402.9,525.9h.8M430.3,517.8h.8M412.4,521.3h.8M419.1,520.2h.8M406.0,523.8h.8M441.0,517.0h.8M408.7,523.5h.8M404.2,524.0h.8M398.0,526.6h.8M419.7,520.4h.8M412.9,521.9h.8M396.5,527.0h.8M421.3,520.3h.8M421.5,520.0h.8M436.6,519.1h.8M429.4,518.1h.8M415.5,520.9h.8M441.2,516.5h.8M415.1,521.2h.8M402.7,524.7h.8M424.3,518.4h.8M439.1,516.1h.8M413.5,522.4h.8M407.2,523.1h.8M435.2,517.1h.8M432.5,517.3h.8M428.3,517.7h.8M411.1,522.5h.8M410.7,522.8h.8M441.2,517.4h.8M435.7,516.6h.8M419.7,522.0h.8M406.9,524.8h.8M425.3,518.2h.8M429.1,518.4h.8M414.3,522.1h.8M427.5,517.9h.8M411.0,522.6h.8M406.4,524.1h.8M424.5,518.5h.8M418.0,521.8h.8" fill="none" stroke="#ee3a8e" stroke-width="0.8" opacity="0.85"/>
<path d="M395.3,487.1h.7M392.2,490.7h.7M399.0,490.3h.7M393.2,495.5h.7M395.0,496.5h.7M427.5,528.5h.7M413.0,523.5h.7M418.0,524.0h.7M392.5,526.1h.7M393.0,527.3h.7M393.7,528.9h.7M394.8,530.2h.7M395.8,530.9h.7M396.5,532.3h.7M397.8,534.0h.7M398.0,534.9h.7M394.1,525.0h.7M395.3,526.4h.7M396.1,527.7h.7M397.4,529.5h.7M397.9,531.1h.7M399.8,532.3h.7M400.1,534.3h.7M396.0,524.3h.7M397.2,525.8h.7M398.3,527.6h.7M399.7,529.5h.7M400.0,530.7h.7M401.6,532.5h.7" fill="none" stroke="#ee4a96" stroke-width="0.7" opacity="0.8"/>
<path d="M393.5,499.5h.7M391.0,505.0h.7M391.5,513.0h.7M392.0,516.5h.7M391.0,520.6h.7M391.8,522.4h.7M392.4,524.7h.7M393.8,526.9h.7" fill="none" stroke="#8a9ad8" stroke-width="0.7" opacity="0.8"/>
<polyline points="390.70,518.30 396.00,516.20 402.40,514.50 412.70,513.20 430.00,513.80 444.50,515.00" fill="none" stroke="#dd5a4a" stroke-width="0.6" opacity="0.9"/>
<rect x="383.0" y="482.5" width="67.30000000000001" height="59.299999999999955" fill="none" stroke="#666" stroke-width="0.6"/>
<line x1="381.20" y1="485.50" x2="383.00" y2="485.50" stroke="#444" stroke-width="0.5"/>
<text x="379.80" y="485.50" font-size="8.3" text-anchor="middle" fill="#0d0d0d" stroke="#0d0d0d" stroke-width="0.12" transform="rotate(-90 379.80 485.50) ">4</text>
<line x1="381.20" y1="497.40" x2="383.00" y2="497.40" stroke="#444" stroke-width="0.5"/>
<text x="379.80" y="497.40" font-size="8.3" text-anchor="middle" fill="#0d0d0d" stroke="#0d0d0d" stroke-width="0.12" transform="rotate(-90 379.80 497.40) ">2</text>
<line x1="381.20" y1="509.00" x2="383.00" y2="509.00" stroke="#444" stroke-width="0.5"/>
<text x="379.80" y="509.00" font-size="8.3" text-anchor="middle" fill="#0d0d0d" stroke="#0d0d0d" stroke-width="0.12" transform="rotate(-90 379.80 509.00) ">0</text>
<line x1="381.20" y1="521.30" x2="383.00" y2="521.30" stroke="#444" stroke-width="0.5"/>
<text x="379.80" y="521.30" font-size="8.3" text-anchor="middle" fill="#0d0d0d" stroke="#0d0d0d" stroke-width="0.12" transform="rotate(-90 379.80 521.30) ">−2</text>
<line x1="381.20" y1="533.00" x2="383.00" y2="533.00" stroke="#444" stroke-width="0.5"/>
<text x="379.80" y="533.00" font-size="8.3" text-anchor="middle" fill="#0d0d0d" stroke="#0d0d0d" stroke-width="0.12" transform="rotate(-90 379.80 533.00) ">−4</text>
<line x1="390.50" y1="541.80" x2="390.50" y2="543.60" stroke="#444" stroke-width="0.5"/>
<text x="390.50" y="551.10" font-size="9.0" text-anchor="middle" fill="#0d0d0d" stroke="#0d0d0d" stroke-width="0.12">2</text>
<line x1="403.40" y1="541.80" x2="403.40" y2="543.60" stroke="#444" stroke-width="0.5"/>
<text x="403.40" y="551.10" font-size="9.0" text-anchor="middle" fill="#0d0d0d" stroke="#0d0d0d" stroke-width="0.12">4</text>
<line x1="416.50" y1="541.80" x2="416.50" y2="543.60" stroke="#444" stroke-width="0.5"/>
<text x="416.50" y="551.10" font-size="9.0" text-anchor="middle" fill="#0d0d0d" stroke="#0d0d0d" stroke-width="0.12">6</text>
<line x1="429.30" y1="541.80" x2="429.30" y2="543.60" stroke="#444" stroke-width="0.5"/>
<text x="429.30" y="551.10" font-size="9.0" text-anchor="middle" fill="#0d0d0d" stroke="#0d0d0d" stroke-width="0.12">8</text>
<line x1="443.60" y1="541.80" x2="443.60" y2="543.60" stroke="#444" stroke-width="0.5"/>
<text x="443.60" y="551.10" font-size="9.0" text-anchor="middle" fill="#0d0d0d" stroke="#0d0d0d" stroke-width="0.12">10</text>
<text x="448.10" y="488.50" font-size="5.6" text-anchor="end" fill="#333" stroke="#333" stroke-width="0.12">FDR &lt; 0.05</text>
<text x="379.70" y="580.40" font-size="9.6" fill="#0d0d0d" stroke="#0d0d0d" stroke-width="0.12">RAD21 ChIP-seq</text>
<rect x="382.8" y="587.2" width="66.59999999999997" height="58.09999999999991" fill="#fff"/>
<line x1="382.80" y1="604.90" x2="449.40" y2="604.90" stroke="#c6e2f6" stroke-width="1.2"/>
<polygon points="392.00,603.00 392.50,603.06 393.00,603.11 393.50,600.09 394.00,600.23 394.50,600.38 395.00,600.53 395.50,600.67 396.00,600.82 396.50,600.97 397.00,601.11 397.50,601.30 398.00,601.54 398.50,601.79 399.00,602.03 399.50,602.28 400.00,602.52 400.50,602.77 401.00,603.01 401.50,603.26 402.00,603.50 402.50,603.73 403.00,603.85 403.50,603.98 404.00,604.10 404.50,604.23 405.00,604.36 405.50,604.48 406.00,604.61 406.50,604.73 407.00,604.86 407.50,604.99 408.00,605.11 408.50,605.24 409.00,605.37 409.50,605.49 410.00,605.62 410.50,605.74 411.00,605.87 411.50,606.00 412.00,606.12 412.50,606.25 413.00,606.38 413.50,606.50 414.00,606.63 414.50,606.76 415.00,606.89 415.50,607.01 416.00,607.14 416.50,607.27 417.00,607.40 417.50,607.52 418.00,607.65 418.50,607.78 419.00,607.91 419.50,608.03 420.00,608.16 420.50,608.29 421.00,608.42 421.50,608.54 422.00,608.67 422.50,608.80 423.00,608.92 423.50,609.04 424.00,609.15 424.50,609.26 425.00,609.37 425.50,609.49 426.00,609.60 426.50,609.71 427.00,609.82 427.50,609.94 428.00,610.05 428.50,610.16 429.00,610.28 429.50,610.39 430.00,610.50 430.50,610.61 431.00,610.73 431.50,610.84 432.00,610.95 432.50,611.06 433.00,611.18 433.50,611.28 434.00,611.39 434.50,611.49 435.00,611.59 435.50,611.69 436.00,611.80 436.50,611.90 437.00,612.00 437.50,612.10 438.00,612.21 438.50,612.31 439.00,612.41 439.50,612.52 440.00,612.62 440.50,612.72 441.00,612.82 441.50,612.93 442.00,613.03 442.50,613.13 443.00,613.24 443.50,613.34 443.50,613.67 443.00,613.79 442.50,613.90 442.00,614.02 441.50,614.14 441.00,614.25 440.50,614.37 440.00,614.49 439.50,614.60 439.00,614.72 438.50,614.84 438.00,614.96 437.50,615.07 437.00,615.19 436.50,615.31 436.00,615.42 435.50,615.54 435.00,615.66 434.50,615.77 434.00,615.89 433.50,616.01 433.00,616.12 432.50,616.24 432.00,616.36 431.50,616.48 431.00,616.59 430.50,616.71 430.00,616.83 429.50,616.95 429.00,617.06 428.50,617.18 428.00,617.30 427.50,617.42 427.00,617.54 426.50,617.65 426.00,617.77 425.50,617.89 425.00,618.01 424.50,618.12 424.00,618.24 423.50,618.36 423.00,618.48 422.50,618.61 422.00,618.75 421.50,618.88 421.00,619.02 420.50,619.16 420.00,619.30 419.50,619.43 419.00,619.57 418.50,619.71 418.00,619.85 417.50,619.98 417.00,620.12 416.50,620.26 416.00,620.39 415.50,620.53 415.00,620.67 414.50,620.81 414.00,620.94 413.50,621.08 413.00,621.22 412.50,621.38 412.00,621.59 411.50,621.79 411.00,621.99 410.50,622.20 410.00,622.40 409.50,622.60 409.00,622.81 408.50,623.01 408.00,623.22 407.50,623.42 407.00,623.62 406.50,623.83 406.00,624.03 405.50,624.24 405.00,624.44 404.50,624.64 404.00,624.85 403.50,625.05 403.00,625.26 402.50,625.46 402.00,625.77 401.50,626.11 401.00,626.45 400.50,626.79 400.00,627.13 399.50,627.47 399.00,627.81 398.50,628.15 398.00,628.49 397.50,628.83 397.00,629.17 396.50,629.51 396.00,629.85 395.50,630.19 395.00,630.52 394.50,630.86 394.00,627.42 393.50,627.82 393.00,628.21 392.50,628.61 392.00,629.00" fill="#c4dcf0" stroke="none" stroke-width="0.6" filter="url(#blur1)"/>
<polygon points="392.00,615.50 392.50,614.34 393.00,613.21 393.50,612.10 394.00,611.03 394.50,609.98 395.00,608.97 395.50,607.98 396.00,607.02 396.50,606.09 397.00,605.19 397.50,605.27 398.00,605.42 398.50,605.57 399.00,605.72 399.50,605.88 400.00,606.03 400.50,606.18 401.00,606.33 401.50,606.49 402.00,606.64 402.50,606.78 403.00,606.88 403.50,606.97 404.00,607.07 404.50,607.17 405.00,607.27 405.50,607.36 406.00,607.46 406.50,607.56 407.00,607.65 407.50,607.75 408.00,607.86 408.50,607.96 409.00,608.06 409.50,608.17 410.00,608.27 410.50,608.37 411.00,608.48 411.50,608.58 412.00,608.68 412.50,608.79 413.00,608.88 413.50,608.98 414.00,609.08 414.50,609.17 415.00,609.27 415.50,609.36 416.00,609.46 416.50,609.56 417.00,609.65 417.50,609.75 418.00,609.85 418.50,609.94 419.00,610.04 419.50,610.13 420.00,610.23 420.50,610.33 421.00,610.42 421.50,610.52 422.00,610.61 422.50,610.71 423.00,610.80 423.50,610.88 424.00,610.95 424.50,611.03 425.00,611.10 425.50,611.18 426.00,611.25 426.50,611.33 427.00,611.40 427.50,611.48 428.00,611.55 428.50,611.63 429.00,611.70 429.50,611.78 430.00,611.85 430.50,611.93 431.00,612.00 431.50,612.08 432.00,612.16 432.50,612.23 433.00,612.31 433.50,612.37 434.00,612.43 434.50,612.49 435.00,612.55 435.50,612.61 436.00,612.67 436.50,612.73 437.00,612.79 437.50,612.85 438.00,612.91 438.50,612.97 439.00,613.03 439.50,613.09 440.00,613.15 440.50,613.21 441.00,613.27 441.50,613.32 442.00,613.38 442.50,613.44 443.00,613.50 443.50,613.56 443.50,613.64 443.00,613.69 442.50,613.75 442.00,613.81 441.50,613.87 441.00,613.93 440.50,613.99 440.00,614.05 439.50,614.11 439.00,614.17 438.50,614.23 438.00,614.29 437.50,614.35 437.00,614.41 436.50,614.47 436.00,614.53 435.50,614.59 435.00,614.64 434.50,614.70 434.00,614.76 433.50,614.82 433.00,614.88 432.50,614.95 432.00,615.02 431.50,615.08 431.00,615.15 430.50,615.22 430.00,615.28 429.50,615.35 429.00,615.42 428.50,615.48 428.00,615.55 427.50,615.61 427.00,615.68 426.50,615.75 426.00,615.81 425.50,615.88 425.00,615.95 424.50,616.01 424.00,616.08 423.50,616.15 423.00,616.21 422.50,616.29 422.00,616.38 421.50,616.46 421.00,616.54 420.50,616.63 420.00,616.71 419.50,616.79 419.00,616.87 418.50,616.96 418.00,617.04 417.50,617.12 417.00,617.21 416.50,617.29 416.00,617.37 415.50,617.46 415.00,617.54 414.50,617.62 414.00,617.71 413.50,617.79 413.00,617.87 412.50,617.97 412.00,618.10 411.50,618.23 411.00,618.36 410.50,618.48 410.00,618.61 409.50,618.74 409.00,618.87 408.50,618.99 408.00,619.12 407.50,619.25 407.00,619.38 406.50,619.52 406.00,619.65 405.50,619.79 405.00,619.92 404.50,620.05 404.00,620.19 403.50,620.32 403.00,620.45 402.50,620.59 402.00,620.84 401.50,621.12 401.00,621.40 400.50,621.68 400.00,621.96 399.50,622.25 399.00,622.53 398.50,622.81 398.00,623.09 397.50,623.37 397.00,623.66 396.50,623.00 396.00,622.31 395.50,621.59 395.00,620.85 394.50,620.07 394.00,619.26 393.50,618.39 393.00,617.47 392.50,616.51 392.00,615.50" fill="#7eb0da" stroke="none" stroke-width="0.6" filter="url(#blur1)" opacity="0.9"/>
<polygon points="392.00,615.50 392.50,614.89 393.00,614.29 393.50,613.70 394.00,613.13 394.50,612.57 395.00,612.02 395.50,611.49 396.00,610.97 396.50,610.47 397.00,609.98 397.50,609.54 398.00,609.18 398.50,608.84 399.00,608.52 399.50,608.21 400.00,607.92 400.50,608.03 401.00,608.14 401.50,608.25 402.00,608.35 402.50,608.45 403.00,608.52 403.50,608.58 404.00,608.65 404.50,608.71 405.00,608.78 405.50,608.84 406.00,608.91 406.50,608.97 407.00,609.04 407.50,609.10 408.00,609.18 408.50,609.26 409.00,609.34 409.50,609.42 410.00,609.50 410.50,609.58 411.00,609.66 411.50,609.74 412.00,609.82 412.50,609.90 413.00,609.97 413.50,610.05 414.00,610.12 414.50,610.20 415.00,610.27 415.50,610.34 416.00,610.42 416.50,610.49 417.00,610.56 417.50,610.64 418.00,610.71 418.50,610.79 419.00,610.86 419.50,610.93 420.00,611.01 420.50,611.08 421.00,611.15 421.50,611.23 422.00,611.30 422.50,611.38 423.00,611.45 423.50,611.50 424.00,611.56 424.50,611.62 425.00,611.68 425.50,611.74 426.00,611.79 426.50,611.85 427.00,611.91 427.50,611.97 428.00,612.02 428.50,612.08 429.00,612.14 429.50,612.20 430.00,612.26 430.50,612.31 431.00,612.37 431.50,612.43 432.00,612.49 432.50,612.55 433.00,612.60 433.50,612.65 434.00,612.70 434.50,612.74 435.00,612.79 435.50,612.84 436.00,612.88 436.50,612.93 437.00,612.97 437.50,613.02 438.00,613.07 438.50,613.11 439.00,613.16 439.50,613.20 440.00,613.25 440.50,613.30 441.00,613.34 441.50,613.39 442.00,613.43 442.50,613.48 443.00,613.53 443.50,613.57 443.50,613.63 443.00,613.67 442.50,613.72 442.00,613.76 441.50,613.81 441.00,613.85 440.50,613.90 440.00,613.94 439.50,613.99 439.00,614.03 438.50,614.08 438.00,614.12 437.50,614.17 437.00,614.21 436.50,614.26 436.00,614.30 435.50,614.35 435.00,614.39 434.50,614.44 434.00,614.48 433.50,614.53 433.00,614.57 432.50,614.63 432.00,614.68 431.50,614.73 431.00,614.78 430.50,614.83 430.00,614.88 429.50,614.93 429.00,614.98 428.50,615.03 428.00,615.08 427.50,615.13 427.00,615.18 426.50,615.23 426.00,615.28 425.50,615.33 425.00,615.38 424.50,615.43 424.00,615.48 423.50,615.53 423.00,615.58 422.50,615.65 422.00,615.71 421.50,615.77 421.00,615.84 420.50,615.90 420.00,615.96 419.50,616.02 419.00,616.09 418.50,616.15 418.00,616.21 417.50,616.28 417.00,616.34 416.50,616.40 416.00,616.47 415.50,616.53 415.00,616.59 414.50,616.66 414.00,616.72 413.50,616.78 413.00,616.85 412.50,616.92 412.00,617.02 411.50,617.12 411.00,617.22 410.50,617.31 410.00,617.41 409.50,617.51 409.00,617.61 408.50,617.70 408.00,617.80 407.50,617.90 407.00,618.01 406.50,618.12 406.00,618.23 405.50,618.34 405.00,618.45 404.50,618.57 404.00,618.68 403.50,618.79 403.00,618.90 402.50,619.01 402.00,619.21 401.50,619.44 401.00,619.66 400.50,619.89 400.00,620.11 399.50,619.95 399.00,619.76 398.50,619.55 398.00,619.32 397.50,619.06 397.00,618.81 396.50,618.55 396.00,618.28 395.50,618.00 395.00,617.70 394.50,617.39 394.00,617.06 393.50,616.70 393.00,616.32 392.50,615.92 392.00,615.50" fill="#3a78b6" stroke="none" stroke-width="0.6" filter="url(#blur1)" opacity="0.9"/>
<polygon points="392.00,615.50 392.50,615.13 393.00,614.78 393.50,614.42 394.00,614.08 394.50,613.74 395.00,613.41 395.50,613.09 396.00,612.77 396.50,612.46 397.00,612.16 397.50,611.90 398.00,611.70 398.50,611.50 399.00,611.32 399.50,611.15 400.00,610.98 400.50,610.83 401.00,610.68 401.50,610.55 402.00,610.42 402.50,610.30 403.00,610.16 403.50,610.19 404.00,610.23 404.50,610.26 405.00,610.29 405.50,610.32 406.00,610.36 406.50,610.39 407.00,610.42 407.50,610.46 408.00,610.51 408.50,610.57 409.00,610.62 409.50,610.68 410.00,610.73 410.50,610.79 411.00,610.84 411.50,610.90 412.00,610.96 412.50,611.01 413.00,611.06 413.50,611.12 414.00,611.17 414.50,611.22 415.00,611.27 415.50,611.32 416.00,611.37 416.50,611.42 417.00,611.48 417.50,611.53 418.00,611.58 418.50,611.63 419.00,611.68 419.50,611.73 420.00,611.78 420.50,611.84 421.00,611.89 421.50,611.94 422.00,611.99 422.50,612.04 423.00,612.09 423.50,612.13 424.00,612.17 424.50,612.21 425.00,612.25 425.50,612.29 426.00,612.33 426.50,612.37 427.00,612.42 427.50,612.46 428.00,612.50 428.50,612.54 429.00,612.58 429.50,612.62 430.00,612.66 430.50,612.70 431.00,612.74 431.50,612.78 432.00,612.82 432.50,612.86 433.00,612.90 433.50,612.93 434.00,612.97 434.50,613.00 435.00,613.03 435.50,613.06 436.00,613.10 436.50,613.13 437.00,613.16 437.50,613.19 438.00,613.23 438.50,613.26 439.00,613.29 439.50,613.32 440.00,613.35 440.50,613.39 441.00,613.42 441.50,613.45 442.00,613.48 442.50,613.52 443.00,613.55 443.50,613.58 443.50,613.62 443.00,613.65 442.50,613.68 442.00,613.71 441.50,613.74 441.00,613.77 440.50,613.80 440.00,613.83 439.50,613.86 439.00,613.90 438.50,613.93 438.00,613.96 437.50,613.99 437.00,614.02 436.50,614.05 436.00,614.08 435.50,614.11 435.00,614.14 434.50,614.17 434.00,614.20 433.50,614.23 433.00,614.27 432.50,614.30 432.00,614.33 431.50,614.37 431.00,614.40 430.50,614.44 430.00,614.47 429.50,614.51 429.00,614.54 428.50,614.58 428.00,614.61 427.50,614.65 427.00,614.68 426.50,614.71 426.00,614.75 425.50,614.78 425.00,614.82 424.50,614.85 424.00,614.89 423.50,614.92 423.00,614.96 422.50,615.00 422.00,615.04 421.50,615.08 421.00,615.13 420.50,615.17 420.00,615.21 419.50,615.26 419.00,615.30 418.50,615.34 418.00,615.39 417.50,615.43 417.00,615.47 416.50,615.52 416.00,615.56 415.50,615.61 415.00,615.65 414.50,615.69 414.00,615.74 413.50,615.78 413.00,615.82 412.50,615.87 412.00,615.94 411.50,616.01 411.00,616.08 410.50,616.14 410.00,616.21 409.50,616.28 409.00,616.34 408.50,616.41 408.00,616.48 407.50,616.54 407.00,616.63 406.50,616.72 406.00,616.81 405.50,616.90 405.00,616.99 404.50,617.08 404.00,617.17 403.50,617.26 403.00,617.35 402.50,617.28 402.00,617.26 401.50,617.24 401.00,617.21 400.50,617.17 400.00,617.12 399.50,617.06 399.00,616.98 398.50,616.90 398.00,616.80 397.50,616.69 397.00,616.60 396.50,616.53 396.00,616.45 395.50,616.36 395.00,616.27 394.50,616.17 394.00,616.06 393.50,615.94 393.00,615.80 392.50,615.66 392.00,615.50" fill="#1d4a82" stroke="none" stroke-width="0.6" filter="url(#blur1)" opacity="0.95"/>
<polygon points="392.00,615.50 392.50,615.27 393.00,615.05 393.50,614.83 394.00,614.61 394.50,614.39 395.00,614.18 395.50,613.97 396.00,613.77 396.50,613.56 397.00,613.36 397.50,613.20 398.00,613.09 398.50,612.98 399.00,612.88 399.50,612.78 400.00,612.68 400.50,612.59 401.00,612.50 401.50,612.42 402.00,612.34 402.50,612.26 403.00,612.18 403.50,612.10 404.00,612.02 404.50,611.94 405.00,611.87 405.50,611.80 406.00,611.73 406.50,611.74 407.00,611.74 407.50,611.74 408.00,611.77 408.50,611.81 409.00,611.84 409.50,611.87 410.00,611.90 410.50,611.94 411.00,611.97 411.50,612.00 412.00,612.03 412.50,612.07 413.00,612.10 413.50,612.13 414.00,612.16 414.50,612.19 415.00,612.22 415.50,612.25 416.00,612.28 416.50,612.31 417.00,612.34 417.50,612.37 418.00,612.40 418.50,612.43 419.00,612.46 419.50,612.49 420.00,612.52 420.50,612.55 421.00,612.58 421.50,612.61 422.00,612.64 422.50,612.68 423.00,612.70 423.50,612.73 424.00,612.75 424.50,612.78 425.00,612.80 425.50,612.82 426.00,612.85 426.50,612.87 427.00,612.90 427.50,612.92 428.00,612.94 428.50,612.97 429.00,612.99 429.50,613.02 430.00,613.04 430.50,613.06 431.00,613.09 431.50,613.11 432.00,613.14 432.50,613.16 433.00,613.18 433.50,613.20 434.00,613.22 434.50,613.24 435.00,613.26 435.50,613.28 436.00,613.30 436.50,613.32 437.00,613.34 437.50,613.36 438.00,613.38 438.50,613.40 439.00,613.42 439.50,613.43 440.00,613.45 440.50,613.47 441.00,613.49 441.50,613.51 442.00,613.53 442.50,613.55 443.00,613.57 443.50,613.59 443.50,613.61 443.00,613.63 442.50,613.64 442.00,613.66 441.50,613.68 441.00,613.70 440.50,613.71 440.00,613.73 439.50,613.75 439.00,613.77 438.50,613.78 438.00,613.80 437.50,613.82 437.00,613.83 436.50,613.85 436.00,613.87 435.50,613.89 435.00,613.90 434.50,613.92 434.00,613.94 433.50,613.95 433.00,613.97 432.50,613.99 432.00,614.01 431.50,614.03 431.00,614.05 430.50,614.07 430.00,614.09 429.50,614.11 429.00,614.13 428.50,614.15 428.00,614.17 427.50,614.19 427.00,614.20 426.50,614.22 426.00,614.24 425.50,614.26 425.00,614.28 424.50,614.30 424.00,614.32 423.50,614.34 423.00,614.36 422.50,614.38 422.00,614.41 421.50,614.43 421.00,614.46 420.50,614.48 420.00,614.51 419.50,614.53 419.00,614.55 418.50,614.58 418.00,614.60 417.50,614.63 417.00,614.65 416.50,614.68 416.00,614.70 415.50,614.73 415.00,614.75 414.50,614.77 414.00,614.80 413.50,614.82 413.00,614.85 412.50,614.88 412.00,614.92 411.50,614.95 411.00,614.99 410.50,615.03 410.00,615.07 409.50,615.11 409.00,615.14 408.50,615.18 408.00,615.22 407.50,615.26 407.00,615.33 406.50,615.40 406.00,615.46 405.50,615.46 405.00,615.46 404.50,615.46 404.00,615.46 403.50,615.45 403.00,615.44 402.50,615.43 402.00,615.44 401.50,615.45 401.00,615.46 400.50,615.47 400.00,615.47 399.50,615.46 399.00,615.45 398.50,615.43 398.00,615.40 397.50,615.38 397.00,615.38 396.50,615.41 396.00,615.44 395.50,615.46 395.00,615.48 394.50,615.50 394.00,615.51 393.50,615.51 393.00,615.51 392.50,615.51 392.00,615.50" fill="#112a55" stroke="none" stroke-width="0.6" filter="url(#blur2)" opacity="1.0"/>
<polygon points="393.20,600.00 397.30,601.20 402.40,603.70 412.70,606.30 422.90,608.90 433.10,611.20 443.80,613.40 443.80,614.20 433.10,612.70 422.90,610.90 412.70,608.60 402.40,606.10 397.30,604.20" fill="#ea1f7f" stroke="none" stroke-width="0.6" filter="url(#blur3)" opacity="0.9"/>
<polygon points="394.30,631.00 402.40,625.50 412.70,621.30 422.90,618.50 433.10,616.10 443.80,613.60 443.80,613.00 433.10,614.50 422.90,616.10 412.70,618.10 402.40,621.20 395.30,625.80" fill="#ea1f7f" stroke="none" stroke-width="0.6" filter="url(#blur3)" opacity="0.9"/>
<path d="M409.4,605.3h.8M402.8,603.7h.8M420.4,607.7h.8M427.4,609.7h.8M406.3,604.3h.8M432.9,610.5h.8M397.5,600.0h.8M402.8,602.3h.8M413.3,606.1h.8M410.9,604.5h.8M395.3,599.7h.8M427.1,609.5h.8M407.3,603.7h.8M431.8,610.1h.8M410.0,604.6h.8M437.2,611.2h.8M402.3,602.1h.8M410.9,605.6h.8M424.9,609.2h.8M429.2,610.0h.8M411.3,604.8h.8M436.1,611.6h.8M429.2,609.0h.8M415.2,606.7h.8M415.2,606.4h.8M415.7,606.2h.8M435.6,610.6h.8M417.6,607.1h.8M432.5,610.3h.8M412.3,604.8h.8M395.1,600.0h.8M429.8,609.3h.8M429.8,609.9h.8M396.9,600.6h.8M432.1,610.6h.8M429.1,610.0h.8M420.1,606.8h.8M427.0,609.3h.8M416.2,605.7h.8M413.1,605.9h.8M421.0,606.6h.8M434.7,611.5h.8M400.1,602.0h.8M393.5,599.0h.8M440.3,612.6h.8M408.1,604.4h.8M405.3,603.6h.8M417.5,606.5h.8M413.2,605.6h.8M434.5,611.2h.8M431.4,610.3h.8M402.8,603.2h.8M395.7,599.8h.8M415.3,606.7h.8M416.5,606.4h.8M431.3,610.3h.8M402.7,602.7h.8M395.6,600.1h.8M408.2,604.2h.8M420.1,608.0h.8M408.6,605.0h.8M407.1,603.1h.8M427.0,609.4h.8M414.8,605.6h.8M437.7,610.2h.8M395.9,600.1h.8M413.8,606.4h.8M434.3,611.2h.8M396.6,600.5h.8M437.1,611.7h.8M420.4,619.6h.8M425.6,619.0h.8M425.7,618.0h.8M433.3,616.7h.8M401.1,627.0h.8M399.0,628.2h.8M398.7,628.5h.8M413.6,623.5h.8M424.9,618.1h.8M426.2,619.9h.8M401.5,627.6h.8M396.2,630.2h.8M433.2,616.3h.8M421.4,619.6h.8M409.1,623.3h.8M436.7,615.5h.8M409.4,623.0h.8M431.5,617.0h.8M439.9,614.7h.8M412.0,621.8h.8M424.1,618.4h.8M398.7,629.3h.8M415.9,620.6h.8M425.9,618.9h.8M399.6,627.6h.8M437.2,615.6h.8M440.6,615.5h.8M407.8,623.7h.8M410.5,622.2h.8M437.5,616.2h.8M398.6,630.1h.8M422.1,618.9h.8M419.4,619.9h.8M406.9,624.0h.8M435.8,615.9h.8M437.3,615.7h.8M395.8,632.1h.8M410.3,623.8h.8M438.2,615.1h.8M409.8,622.8h.8M415.2,620.6h.8M402.6,627.1h.8M430.9,616.7h.8M420.3,619.6h.8M398.7,629.6h.8M422.0,619.3h.8M415.8,621.6h.8M398.8,628.2h.8M424.4,619.0h.8M410.7,623.1h.8M411.7,622.0h.8M402.2,626.2h.8M438.1,615.9h.8M434.9,617.4h.8M416.6,620.5h.8M435.2,616.0h.8M399.7,628.5h.8M399.8,627.3h.8M416.1,621.0h.8M417.9,620.9h.8M411.4,622.2h.8M403.8,625.9h.8M400.2,627.1h.8M417.6,622.0h.8M435.7,617.9h.8M417.0,620.3h.8M431.1,618.0h.8M405.0,625.1h.8M429.2,617.5h.8M395.7,630.7h.8M412.6,622.2h.8M435.7,615.6h.8M398.2,629.0h.8M422.0,619.1h.8M430.8,616.7h.8M405.7,624.5h.8M422.2,619.0h.8M423.0,618.5h.8M426.5,618.0h.8M432.0,617.2h.8M415.8,620.6h.8M438.0,615.0h.8M413.5,621.5h.8M405.7,624.4h.8M428.4,617.4h.8M410.3,622.8h.8M400.8,626.8h.8M409.7,623.2h.8M439.7,616.3h.8M416.6,620.3h.8" fill="none" stroke="#ee3a8e" stroke-width="0.8" opacity="0.85"/>
<path d="M392.2,589.6h.7M392.2,592.6h.7M392.4,595.2h.7M412.5,627.5h.7M405.0,628.0h.7M389.4,631.0h.7M390.2,632.2h.7M390.9,634.1h.7M392.3,635.2h.7M393.3,636.9h.7M394.1,637.7h.7M395.5,639.4h.7M396.4,641.1h.7M397.6,642.5h.7M393.9,627.2h.7M394.7,628.5h.7M396.1,630.2h.7M396.8,631.6h.7M398.2,633.0h.7M399.3,634.4h.7" fill="none" stroke="#ee4a96" stroke-width="0.7" opacity="0.8"/>
<path d="M391.8,597.5h.7M391.2,601.0h.7M392.0,604.8h.7M391.0,611.0h.7M391.1,627.9h.7M392.8,629.8h.7M393.4,630.9h.7M394.6,632.4h.7M395.7,634.6h.7M396.9,635.9h.7M397.7,637.4h.7" fill="none" stroke="#8a9ad8" stroke-width="0.7" opacity="0.8"/>
<polyline points="388.10,619.20 393.00,616.60 397.30,615.10 407.50,613.80 443.30,613.50" fill="none" stroke="#dd5a4a" stroke-width="0.6" opacity="0.9"/>
<rect x="382.8" y="587.2" width="66.59999999999997" height="58.09999999999991" fill="none" stroke="#666" stroke-width="0.6"/>
<line x1="381.00" y1="589.20" x2="382.80" y2="589.20" stroke="#444" stroke-width="0.5"/>
<text x="379.60" y="589.20" font-size="8.3" text-anchor="middle" fill="#0d0d0d" stroke="#0d0d0d" stroke-width="0.12" transform="rotate(-90 379.60 589.20) ">2</text>
<line x1="381.00" y1="605.00" x2="382.80" y2="605.00" stroke="#444" stroke-width="0.5"/>
<text x="379.60" y="605.00" font-size="8.3" text-anchor="middle" fill="#0d0d0d" stroke="#0d0d0d" stroke-width="0.12" transform="rotate(-90 379.60 605.00) ">0</text>
<line x1="381.00" y1="620.30" x2="382.80" y2="620.30" stroke="#444" stroke-width="0.5"/>
<text x="379.60" y="620.30" font-size="8.3" text-anchor="middle" fill="#0d0d0d" stroke="#0d0d0d" stroke-width="0.12" transform="rotate(-90 379.60 620.30) ">−2</text>
<line x1="381.00" y1="636.00" x2="382.80" y2="636.00" stroke="#444" stroke-width="0.5"/>
<text x="379.60" y="636.00" font-size="8.3" text-anchor="middle" fill="#0d0d0d" stroke="#0d0d0d" stroke-width="0.12" transform="rotate(-90 379.60 636.00) ">−4</text>
<line x1="384.40" y1="645.30" x2="384.40" y2="647.10" stroke="#444" stroke-width="0.5"/>
<text x="384.40" y="654.60" font-size="9.0" text-anchor="middle" fill="#0d0d0d" stroke="#0d0d0d" stroke-width="0.12">2</text>
<line x1="398.00" y1="645.30" x2="398.00" y2="647.10" stroke="#444" stroke-width="0.5"/>
<text x="398.00" y="654.60" font-size="9.0" text-anchor="middle" fill="#0d0d0d" stroke="#0d0d0d" stroke-width="0.12">4</text>
<line x1="411.60" y1="645.30" x2="411.60" y2="647.10" stroke="#444" stroke-width="0.5"/>
<text x="411.60" y="654.60" font-size="9.0" text-anchor="middle" fill="#0d0d0d" stroke="#0d0d0d" stroke-width="0.12">6</text>
<line x1="425.30" y1="645.30" x2="425.30" y2="647.10" stroke="#444" stroke-width="0.5"/>
<text x="425.30" y="654.60" font-size="9.0" text-anchor="middle" fill="#0d0d0d" stroke="#0d0d0d" stroke-width="0.12">8</text>
<line x1="441.60" y1="645.30" x2="441.60" y2="647.10" stroke="#444" stroke-width="0.5"/>
<text x="441.60" y="654.60" font-size="9.0" text-anchor="middle" fill="#0d0d0d" stroke="#0d0d0d" stroke-width="0.12">10</text>
<text x="447.20" y="593.20" font-size="5.6" text-anchor="end" fill="#333" stroke="#333" stroke-width="0.12">FDR &lt; 0.05</text>
<text x="358.20" y="515.80" font-size="9.7" text-anchor="middle" fill="#0d0d0d" stroke="#0d0d0d" stroke-width="0.12" transform="rotate(-90 358.20 515.80) ">Log Fold Change</text>
<text x="369.80" y="515.80" font-size="9.8" text-anchor="middle" fill="#0d0d0d" stroke="#0d0d0d" stroke-width="0.12" transform="rotate(-90 369.80 515.80) ">shTLK2 vs shNC</text>
<text x="379.70" y="561.20" font-size="9.85" fill="#0d0d0d" stroke="#0d0d0d" stroke-width="0.12">log concentration</text>
<text x="357.60" y="619.80" font-size="9.7" text-anchor="middle" fill="#0d0d0d" stroke="#0d0d0d" stroke-width="0.12" transform="rotate(-90 357.60 619.80) ">Log Fold Change</text>
<text x="369.20" y="619.80" font-size="9.8" text-anchor="middle" fill="#0d0d0d" stroke="#0d0d0d" stroke-width="0.12" transform="rotate(-90 369.20 619.80) ">shTLK2 vs shNC</text>
<text x="380.30" y="665.30" font-size="9.85" fill="#0d0d0d" stroke="#0d0d0d" stroke-width="0.12">log concentration</text>
<text x="473.50" y="470.00" font-size="13" font-weight="bold" fill="#000" stroke="#000" stroke-width="0.55">h</text>
<text x="534.00" y="475.70" font-size="9.3" text-anchor="middle" fill="#0d0d0d" stroke="#0d0d0d" stroke-width="0.12">shCtrl</text>
<line x1="506.10" y1="479.60" x2="561.90" y2="479.60" stroke="#888" stroke-width="0.6"/>
<text x="616.00" y="476.00" font-size="9.3" text-anchor="middle" fill="#0d0d0d" stroke="#0d0d0d" stroke-width="0.12">shTLK2</text>
<line x1="588.10" y1="479.60" x2="643.90" y2="479.60" stroke="#888" stroke-width="0.6"/>
<defs><filter id="hblur" x="-50%" y="-10%" width="200%" height="120%"><feGaussianBlur stdDeviation="2.6 1.5"/></filter><filter id="hblur2" x="-50%" y="-10%" width="200%" height="120%"><feGaussianBlur stdDeviation="1.6 1.0"/></filter></defs>
<text x="514.80" y="490.00" font-size="9.5" text-anchor="middle" fill="#0d0d0d" stroke="#0d0d0d" stroke-width="0.12">CTCF</text>
<rect x="497.00" y="494.30" width="35.60" height="26.10" fill="#fff" stroke="#9a9a9a" stroke-width="0.6"/>
<polyline points="497.00,518.91 497.44,518.90 497.89,518.89 498.33,518.87 498.78,518.85 499.23,518.83 499.67,518.80 500.12,518.77 500.56,518.73 501.00,518.68 501.45,518.63 501.89,518.56 502.34,518.48 502.79,518.39 503.23,518.27 503.68,518.13 504.12,517.97 504.56,517.78 505.01,517.56 505.45,517.30 505.90,517.00 506.35,516.66 506.79,516.28 507.24,515.86 507.68,515.39 508.12,514.88 508.57,514.33 509.01,513.74 509.46,513.13 509.91,512.49 510.35,511.84 510.80,511.19 511.24,510.55 511.69,509.94 512.13,509.37 512.58,508.85 513.02,508.40 513.47,508.04 513.91,507.77 514.36,507.60 514.80,507.55 515.25,507.60 515.69,507.77 516.13,508.04 516.58,508.40 517.02,508.85 517.47,509.37 517.91,509.94 518.36,510.55 518.81,511.19 519.25,511.84 519.70,512.49 520.14,513.13 520.59,513.74 521.03,514.33 521.48,514.88 521.92,515.39 522.37,515.86 522.81,516.28 523.25,516.66 523.70,517.00 524.14,517.30 524.59,517.56 525.03,517.78 525.48,517.97 525.93,518.13 526.37,518.27 526.82,518.39 527.26,518.48 527.71,518.56 528.15,518.63 528.60,518.68 529.04,518.73 529.49,518.77 529.93,518.80 530.38,518.83 530.82,518.85 531.26,518.87 531.71,518.89 532.15,518.90 532.60,518.91" fill="none" stroke="#1aa0a4" stroke-width="1.05"/>
<line x1="497.00" y1="520.40" x2="532.60" y2="520.40" stroke="#6a5040" stroke-width="0.8"/>
<line x1="514.80" y1="520.40" x2="514.80" y2="518.90" stroke="#555" stroke-width="0.4"/>
<clipPath id="clipT1"><rect x="497.0" y="522.6" width="35.60000000000002" height="130.0"/></clipPath>
<g clip-path="url(#clipT1)">
<rect x="497.00" y="522.60" width="35.60" height="130.00" fill="#eef3fa"/>
<polygon points="488.37,518.60 491.73,524.60 497.50,530.00 503.03,545.00 507.35,575.00 509.03,610.00 510.47,656.60 519.13,656.60 520.57,610.00 522.25,575.00 526.57,545.00 532.10,530.00 537.87,524.60 541.23,518.60" fill="#cfeaee" stroke="none" stroke-width="0.6" opacity="0.7" filter="url(#hblur)"/>
<polygon points="498.16,518.60 500.28,524.60 503.91,530.00 507.39,545.00 510.11,575.00 511.17,610.00 512.08,656.60 517.52,656.60 518.43,610.00 519.49,575.00 522.21,545.00 525.69,530.00 529.32,524.60 531.44,518.60" fill="#8ad0d0" stroke="none" stroke-width="0.6" opacity="0.55" filter="url(#hblur)"/>
<polygon points="506.58,518.60 507.62,524.60 509.42,530.00 511.14,545.00 512.48,575.00 513.01,610.00 513.45,656.60 516.15,656.60 516.59,610.00 517.12,575.00 518.46,545.00 520.18,530.00 521.98,524.60 523.02,518.60" fill="#3fb0b0" stroke="none" stroke-width="0.6" opacity="0.55" filter="url(#hblur)"/>
<path d="M497.0,523.9h35.60000000000002M497.0,525.2h35.60000000000002M497.0,526.5h35.60000000000002M497.0,527.8h35.60000000000002M497.0,529.1h35.60000000000002M497.0,530.4h35.60000000000002M497.0,531.7h35.60000000000002M497.0,533.0h35.60000000000002M497.0,534.3h35.60000000000002M497.0,535.6h35.60000000000002M497.0,536.9h35.60000000000002M497.0,538.2h35.60000000000002M497.0,539.5h35.60000000000002M497.0,540.8h35.60000000000002M497.0,542.1h35.60000000000002M497.0,543.4h35.60000000000002M497.0,544.7h35.60000000000002M497.0,546.0h35.60000000000002M497.0,547.3h35.60000000000002M497.0,548.6h35.60000000000002M497.0,549.9h35.60000000000002M497.0,551.2h35.60000000000002M497.0,552.5h35.60000000000002M497.0,553.8h35.60000000000002M497.0,555.1h35.60000000000002M497.0,556.4h35.60000000000002M497.0,557.7h35.60000000000002M497.0,559.0h35.60000000000002M497.0,560.3h35.60000000000002M497.0,561.6h35.60000000000002M497.0,562.9h35.60000000000002M497.0,564.2h35.60000000000002M497.0,565.5h35.60000000000002M497.0,566.8h35.60000000000002M497.0,568.1h35.60000000000002M497.0,569.4h35.60000000000002M497.0,570.7h35.60000000000002M497.0,572.0h35.60000000000002M497.0,573.3h35.60000000000002M497.0,574.6h35.60000000000002M497.0,575.9h35.60000000000002M497.0,577.2h35.60000000000002M497.0,578.5h35.60000000000002M497.0,579.8h35.60000000000002M497.0,581.1h35.60000000000002M497.0,582.4h35.60000000000002M497.0,583.7h35.60000000000002M497.0,585.0h35.60000000000002M497.0,586.3h35.60000000000002M497.0,587.6h35.60000000000002M497.0,588.9h35.60000000000002M497.0,590.2h35.60000000000002M497.0,591.5h35.60000000000002M497.0,592.8h35.60000000000002M497.0,594.1h35.60000000000002M497.0,595.4h35.60000000000002M497.0,596.7h35.60000000000002M497.0,598.0h35.60000000000002M497.0,599.3h35.60000000000002M497.0,600.6h35.60000000000002M497.0,601.9h35.60000000000002M497.0,603.2h35.60000000000002M497.0,604.5h35.60000000000002M497.0,605.8h35.60000000000002M497.0,607.1h35.60000000000002M497.0,608.4h35.60000000000002M497.0,609.7h35.60000000000002M497.0,611.0h35.60000000000002M497.0,612.3h35.60000000000002M497.0,613.6h35.60000000000002M497.0,614.9h35.60000000000002M497.0,616.2h35.60000000000002M497.0,617.5h35.60000000000002M497.0,618.8h35.60000000000002M497.0,620.1h35.60000000000002M497.0,621.4h35.60000000000002M497.0,622.7h35.60000000000002M497.0,624.0h35.60000000000002M497.0,625.3h35.60000000000002M497.0,626.6h35.60000000000002M497.0,627.9h35.60000000000002M497.0,629.2h35.60000000000002M497.0,630.5h35.60000000000002M497.0,631.8h35.60000000000002M497.0,633.1h35.60000000000002M497.0,634.4h35.60000000000002M497.0,635.7h35.60000000000002M497.0,637.0h35.60000000000002M497.0,638.3h35.60000000000002M497.0,639.6h35.60000000000002M497.0,640.9h35.60000000000002M497.0,642.2h35.60000000000002M497.0,643.5h35.60000000000002M497.0,644.8h35.60000000000002M497.0,646.1h35.60000000000002M497.0,647.4h35.60000000000002M497.0,648.7h35.60000000000002M497.0,650.0h35.60000000000002M497.0,651.3h35.60000000000002" fill="none" stroke="#ffffff" stroke-width="0.35" opacity="0.25"/>
</g>
<rect x="497.00" y="522.60" width="35.60" height="130.00" fill="none" stroke="#9a9a9a" stroke-width="0.6"/>
<line x1="497.00" y1="652.60" x2="497.00" y2="654.40" stroke="#666" stroke-width="0.5"/>
<line x1="514.80" y1="652.60" x2="514.80" y2="654.40" stroke="#666" stroke-width="0.5"/>
<line x1="532.60" y1="652.60" x2="532.60" y2="654.40" stroke="#666" stroke-width="0.5"/>
<text x="553.50" y="490.00" font-size="9.5" text-anchor="middle" fill="#0d0d0d" stroke="#0d0d0d" stroke-width="0.12">RAD21</text>
<rect x="535.50" y="494.30" width="36.00" height="26.10" fill="#fff" stroke="#9a9a9a" stroke-width="0.6"/>
<polyline points="535.50,518.52 535.95,518.50 536.40,518.47 536.85,518.44 537.30,518.41 537.75,518.37 538.20,518.32 538.65,518.27 539.10,518.20 539.55,518.12 540.00,518.03 540.45,517.91 540.90,517.77 541.35,517.60 541.80,517.40 542.25,517.16 542.70,516.88 543.15,516.54 543.60,516.14 544.05,515.68 544.50,515.15 544.95,514.54 545.40,513.85 545.85,513.08 546.30,512.23 546.75,511.30 547.20,510.29 547.65,509.22 548.10,508.09 548.55,506.92 549.00,505.72 549.45,504.52 549.90,503.34 550.35,502.21 550.80,501.14 551.25,500.18 551.70,499.35 552.15,498.66 552.60,498.16 553.05,497.85 553.50,497.74 553.95,497.85 554.40,498.16 554.85,498.66 555.30,499.35 555.75,500.18 556.20,501.14 556.65,502.21 557.10,503.34 557.55,504.52 558.00,505.72 558.45,506.92 558.90,508.09 559.35,509.22 559.80,510.29 560.25,511.30 560.70,512.23 561.15,513.08 561.60,513.85 562.05,514.54 562.50,515.15 562.95,515.68 563.40,516.14 563.85,516.54 564.30,516.88 564.75,517.16 565.20,517.40 565.65,517.60 566.10,517.77 566.55,517.91 567.00,518.03 567.45,518.12 567.90,518.20 568.35,518.27 568.80,518.32 569.25,518.37 569.70,518.41 570.15,518.44 570.60,518.47 571.05,518.50 571.50,518.52" fill="none" stroke="#1aa0a4" stroke-width="0.8"/>
<line x1="535.50" y1="520.40" x2="571.50" y2="520.40" stroke="#6a5040" stroke-width="0.8"/>
<line x1="553.50" y1="520.40" x2="553.50" y2="518.90" stroke="#555" stroke-width="0.4"/>
<clipPath id="clipT2"><rect x="535.5" y="522.6" width="36.0" height="130.0"/></clipPath>
<g clip-path="url(#clipT2)">
<rect x="535.50" y="522.60" width="36.00" height="130.00" fill="#eef3fa"/>
<polygon points="526.77,518.60 530.17,524.60 536.00,530.00 541.59,545.00 545.97,575.00 547.67,610.00 549.13,656.60 557.87,656.60 559.33,610.00 561.03,575.00 565.41,545.00 571.00,530.00 576.83,524.60 580.23,518.60" fill="#a6d8dc" stroke="none" stroke-width="0.6" opacity="0.85" filter="url(#hblur)"/>
<polygon points="536.67,518.60 538.81,524.60 542.48,530.00 546.00,545.00 548.76,575.00 549.83,610.00 550.75,656.60 556.25,656.60 557.17,610.00 558.24,575.00 561.00,545.00 564.52,530.00 568.19,524.60 570.33,518.60" fill="#45afb0" stroke="none" stroke-width="0.6" opacity="0.75" filter="url(#hblur)"/>
<polygon points="544.59,518.60 545.72,524.60 547.67,530.00 549.53,545.00 550.99,575.00 551.56,610.00 552.04,656.60 554.96,656.60 555.44,610.00 556.01,575.00 557.47,545.00 559.33,530.00 561.28,524.60 562.41,518.60" fill="#109496" stroke="none" stroke-width="0.6" opacity="0.7" filter="url(#hblur)"/>
<path d="M535.5,523.9h36.0M535.5,525.2h36.0M535.5,526.5h36.0M535.5,527.8h36.0M535.5,529.1h36.0M535.5,530.4h36.0M535.5,531.7h36.0M535.5,533.0h36.0M535.5,534.3h36.0M535.5,535.6h36.0M535.5,536.9h36.0M535.5,538.2h36.0M535.5,539.5h36.0M535.5,540.8h36.0M535.5,542.1h36.0M535.5,543.4h36.0M535.5,544.7h36.0M535.5,546.0h36.0M535.5,547.3h36.0M535.5,548.6h36.0M535.5,549.9h36.0M535.5,551.2h36.0M535.5,552.5h36.0M535.5,553.8h36.0M535.5,555.1h36.0M535.5,556.4h36.0M535.5,557.7h36.0M535.5,559.0h36.0M535.5,560.3h36.0M535.5,561.6h36.0M535.5,562.9h36.0M535.5,564.2h36.0M535.5,565.5h36.0M535.5,566.8h36.0M535.5,568.1h36.0M535.5,569.4h36.0M535.5,570.7h36.0M535.5,572.0h36.0M535.5,573.3h36.0M535.5,574.6h36.0M535.5,575.9h36.0M535.5,577.2h36.0M535.5,578.5h36.0M535.5,579.8h36.0M535.5,581.1h36.0M535.5,582.4h36.0M535.5,583.7h36.0M535.5,585.0h36.0M535.5,586.3h36.0M535.5,587.6h36.0M535.5,588.9h36.0M535.5,590.2h36.0M535.5,591.5h36.0M535.5,592.8h36.0M535.5,594.1h36.0M535.5,595.4h36.0M535.5,596.7h36.0M535.5,598.0h36.0M535.5,599.3h36.0M535.5,600.6h36.0M535.5,601.9h36.0M535.5,603.2h36.0M535.5,604.5h36.0M535.5,605.8h36.0M535.5,607.1h36.0M535.5,608.4h36.0M535.5,609.7h36.0M535.5,611.0h36.0M535.5,612.3h36.0M535.5,613.6h36.0M535.5,614.9h36.0M535.5,616.2h36.0M535.5,617.5h36.0M535.5,618.8h36.0M535.5,620.1h36.0M535.5,621.4h36.0M535.5,622.7h36.0M535.5,624.0h36.0M535.5,625.3h36.0M535.5,626.6h36.0M535.5,627.9h36.0M535.5,629.2h36.0M535.5,630.5h36.0M535.5,631.8h36.0M535.5,633.1h36.0M535.5,634.4h36.0M535.5,635.7h36.0M535.5,637.0h36.0M535.5,638.3h36.0M535.5,639.6h36.0M535.5,640.9h36.0M535.5,642.2h36.0M535.5,643.5h36.0M535.5,644.8h36.0M535.5,646.1h36.0M535.5,647.4h36.0M535.5,648.7h36.0M535.5,650.0h36.0M535.5,651.3h36.0" fill="none" stroke="#ffffff" stroke-width="0.35" opacity="0.25"/>
</g>
<rect x="535.50" y="522.60" width="36.00" height="130.00" fill="none" stroke="#9a9a9a" stroke-width="0.6"/>
<line x1="535.50" y1="652.60" x2="535.50" y2="654.40" stroke="#666" stroke-width="0.5"/>
<line x1="553.50" y1="652.60" x2="553.50" y2="654.40" stroke="#666" stroke-width="0.5"/>
<line x1="571.50" y1="652.60" x2="571.50" y2="654.40" stroke="#666" stroke-width="0.5"/>
<text x="596.20" y="490.00" font-size="9.5" text-anchor="middle" fill="#0d0d0d" stroke="#0d0d0d" stroke-width="0.12">CTCF</text>
<rect x="578.40" y="494.30" width="35.60" height="26.10" fill="#fff" stroke="#9a9a9a" stroke-width="0.6"/>
<polyline points="578.40,519.19 578.85,519.19 579.29,519.18 579.74,519.17 580.18,519.17 580.62,519.16 581.07,519.15 581.51,519.13 581.96,519.12 582.40,519.10 582.85,519.07 583.29,519.05 583.74,519.01 584.18,518.97 584.63,518.92 585.07,518.86 585.52,518.80 585.97,518.71 586.41,518.62 586.86,518.51 587.30,518.39 587.75,518.24 588.19,518.08 588.63,517.90 589.08,517.70 589.52,517.49 589.97,517.25 590.41,517.01 590.86,516.75 591.30,516.48 591.75,516.20 592.19,515.93 592.64,515.66 593.09,515.40 593.53,515.16 593.98,514.94 594.42,514.75 594.87,514.59 595.31,514.48 595.75,514.41 596.20,514.39 596.64,514.41 597.09,514.48 597.53,514.59 597.98,514.75 598.42,514.94 598.87,515.16 599.31,515.40 599.76,515.66 600.21,515.93 600.65,516.20 601.10,516.48 601.54,516.75 601.99,517.01 602.43,517.25 602.88,517.49 603.32,517.70 603.76,517.90 604.21,518.08 604.65,518.24 605.10,518.39 605.54,518.51 605.99,518.62 606.43,518.71 606.88,518.80 607.33,518.86 607.77,518.92 608.22,518.97 608.66,519.01 609.11,519.05 609.55,519.07 610.00,519.10 610.44,519.12 610.88,519.13 611.33,519.15 611.77,519.16 612.22,519.17 612.66,519.17 613.11,519.18 613.55,519.19 614.00,519.19" fill="none" stroke="#f08a5a" stroke-width="0.8"/>
<line x1="578.40" y1="520.40" x2="614.00" y2="520.40" stroke="#6a5040" stroke-width="0.8"/>
<line x1="596.20" y1="520.40" x2="596.20" y2="518.90" stroke="#555" stroke-width="0.4"/>
<clipPath id="clipO1"><rect x="578.4" y="522.6" width="35.60000000000002" height="130.0"/></clipPath>
<g clip-path="url(#clipO1)">
<rect x="578.40" y="522.60" width="35.60" height="130.00" fill="#f7f4f9"/>
<polygon points="569.77,518.60 573.13,524.60 578.90,530.00 584.43,545.00 588.75,575.00 590.43,610.00 591.87,656.60 600.53,656.60 601.97,610.00 603.65,575.00 607.97,545.00 613.50,530.00 619.27,524.60 622.63,518.60" fill="#fcebe2" stroke="none" stroke-width="0.6" opacity="0.6" filter="url(#hblur)"/>
<polygon points="579.56,518.60 581.68,524.60 585.31,530.00 588.79,545.00 591.51,575.00 592.57,610.00 593.48,656.60 598.92,656.60 599.83,610.00 600.89,575.00 603.61,545.00 607.09,530.00 610.72,524.60 612.84,518.60" fill="#fadccb" stroke="none" stroke-width="0.6" opacity="0.55" filter="url(#hblur)"/>
<polygon points="587.98,518.60 589.02,524.60 590.82,530.00 592.54,545.00 593.88,575.00 594.41,610.00 594.85,656.60 597.55,656.60 597.99,610.00 598.52,575.00 599.86,545.00 601.58,530.00 603.38,524.60 604.42,518.60" fill="#f4b294" stroke="none" stroke-width="0.6" opacity="0.45" filter="url(#hblur)"/>
<path d="M578.4,523.9h35.60000000000002M578.4,525.2h35.60000000000002M578.4,526.5h35.60000000000002M578.4,527.8h35.60000000000002M578.4,529.1h35.60000000000002M578.4,530.4h35.60000000000002M578.4,531.7h35.60000000000002M578.4,533.0h35.60000000000002M578.4,534.3h35.60000000000002M578.4,535.6h35.60000000000002M578.4,536.9h35.60000000000002M578.4,538.2h35.60000000000002M578.4,539.5h35.60000000000002M578.4,540.8h35.60000000000002M578.4,542.1h35.60000000000002M578.4,543.4h35.60000000000002M578.4,544.7h35.60000000000002M578.4,546.0h35.60000000000002M578.4,547.3h35.60000000000002M578.4,548.6h35.60000000000002M578.4,549.9h35.60000000000002M578.4,551.2h35.60000000000002M578.4,552.5h35.60000000000002M578.4,553.8h35.60000000000002M578.4,555.1h35.60000000000002M578.4,556.4h35.60000000000002M578.4,557.7h35.60000000000002M578.4,559.0h35.60000000000002M578.4,560.3h35.60000000000002M578.4,561.6h35.60000000000002M578.4,562.9h35.60000000000002M578.4,564.2h35.60000000000002M578.4,565.5h35.60000000000002M578.4,566.8h35.60000000000002M578.4,568.1h35.60000000000002M578.4,569.4h35.60000000000002M578.4,570.7h35.60000000000002M578.4,572.0h35.60000000000002M578.4,573.3h35.60000000000002M578.4,574.6h35.60000000000002M578.4,575.9h35.60000000000002M578.4,577.2h35.60000000000002M578.4,578.5h35.60000000000002M578.4,579.8h35.60000000000002M578.4,581.1h35.60000000000002M578.4,582.4h35.60000000000002M578.4,583.7h35.60000000000002M578.4,585.0h35.60000000000002M578.4,586.3h35.60000000000002M578.4,587.6h35.60000000000002M578.4,588.9h35.60000000000002M578.4,590.2h35.60000000000002M578.4,591.5h35.60000000000002M578.4,592.8h35.60000000000002M578.4,594.1h35.60000000000002M578.4,595.4h35.60000000000002M578.4,596.7h35.60000000000002M578.4,598.0h35.60000000000002M578.4,599.3h35.60000000000002M578.4,600.6h35.60000000000002M578.4,601.9h35.60000000000002M578.4,603.2h35.60000000000002M578.4,604.5h35.60000000000002M578.4,605.8h35.60000000000002M578.4,607.1h35.60000000000002M578.4,608.4h35.60000000000002M578.4,609.7h35.60000000000002M578.4,611.0h35.60000000000002M578.4,612.3h35.60000000000002M578.4,613.6h35.60000000000002M578.4,614.9h35.60000000000002M578.4,616.2h35.60000000000002M578.4,617.5h35.60000000000002M578.4,618.8h35.60000000000002M578.4,620.1h35.60000000000002M578.4,621.4h35.60000000000002M578.4,622.7h35.60000000000002M578.4,624.0h35.60000000000002M578.4,625.3h35.60000000000002M578.4,626.6h35.60000000000002M578.4,627.9h35.60000000000002M578.4,629.2h35.60000000000002M578.4,630.5h35.60000000000002M578.4,631.8h35.60000000000002M578.4,633.1h35.60000000000002M578.4,634.4h35.60000000000002M578.4,635.7h35.60000000000002M578.4,637.0h35.60000000000002M578.4,638.3h35.60000000000002M578.4,639.6h35.60000000000002M578.4,640.9h35.60000000000002M578.4,642.2h35.60000000000002M578.4,643.5h35.60000000000002M578.4,644.8h35.60000000000002M578.4,646.1h35.60000000000002M578.4,647.4h35.60000000000002M578.4,648.7h35.60000000000002M578.4,650.0h35.60000000000002M578.4,651.3h35.60000000000002" fill="none" stroke="#ffffff" stroke-width="0.35" opacity="0.25"/>
</g>
<rect x="578.40" y="522.60" width="35.60" height="130.00" fill="none" stroke="#9a9a9a" stroke-width="0.6"/>
<line x1="578.40" y1="652.60" x2="578.40" y2="654.40" stroke="#666" stroke-width="0.5"/>
<line x1="596.20" y1="652.60" x2="596.20" y2="654.40" stroke="#666" stroke-width="0.5"/>
<line x1="614.00" y1="652.60" x2="614.00" y2="654.40" stroke="#666" stroke-width="0.5"/>
<text x="634.80" y="490.00" font-size="9.5" text-anchor="middle" fill="#0d0d0d" stroke="#0d0d0d" stroke-width="0.12">RAD21</text>
<rect x="617.00" y="494.30" width="35.60" height="26.10" fill="#fff" stroke="#9a9a9a" stroke-width="0.6"/>
<polyline points="617.00,519.03 617.45,519.02 617.89,519.00 618.34,518.99 618.78,518.98 619.23,518.96 619.67,518.94 620.12,518.91 620.56,518.88 621.00,518.85 621.45,518.81 621.89,518.75 622.34,518.69 622.78,518.62 623.23,518.53 623.67,518.43 624.12,518.30 624.57,518.15 625.01,517.98 625.46,517.78 625.90,517.55 626.35,517.29 626.79,517.00 627.24,516.67 627.68,516.31 628.12,515.92 628.57,515.50 629.01,515.05 629.46,514.57 629.90,514.08 630.35,513.59 630.79,513.09 631.24,512.60 631.69,512.12 632.13,511.68 632.58,511.29 633.02,510.94 633.47,510.66 633.91,510.45 634.36,510.33 634.80,510.28 635.25,510.33 635.69,510.45 636.13,510.66 636.58,510.94 637.02,511.29 637.47,511.68 637.91,512.12 638.36,512.60 638.81,513.09 639.25,513.59 639.70,514.08 640.14,514.57 640.59,515.05 641.03,515.50 641.48,515.92 641.92,516.31 642.37,516.67 642.81,517.00 643.25,517.29 643.70,517.55 644.14,517.78 644.59,517.98 645.03,518.15 645.48,518.30 645.93,518.43 646.37,518.53 646.82,518.62 647.26,518.69 647.71,518.75 648.15,518.81 648.60,518.85 649.04,518.88 649.49,518.91 649.93,518.94 650.38,518.96 650.82,518.98 651.26,518.99 651.71,519.00 652.15,519.02 652.60,519.03" fill="none" stroke="#f08a5a" stroke-width="0.8"/>
<line x1="617.00" y1="520.40" x2="652.60" y2="520.40" stroke="#6a5040" stroke-width="0.8"/>
<line x1="634.80" y1="520.40" x2="634.80" y2="518.90" stroke="#555" stroke-width="0.4"/>
<clipPath id="clipO2"><rect x="617.0" y="522.6" width="35.60000000000002" height="130.0"/></clipPath>
<g clip-path="url(#clipO2)">
<rect x="617.00" y="522.60" width="35.60" height="130.00" fill="#f7f4f9"/>
<polygon points="608.37,518.60 611.73,524.60 617.50,530.00 623.03,545.00 627.35,575.00 629.03,610.00 630.47,656.60 639.13,656.60 640.57,610.00 642.25,575.00 646.57,545.00 652.10,530.00 657.87,524.60 661.23,518.60" fill="#fbdccd" stroke="none" stroke-width="0.6" opacity="0.65" filter="url(#hblur)"/>
<polygon points="618.16,518.60 620.28,524.60 623.91,530.00 627.39,545.00 630.11,575.00 631.17,610.00 632.08,656.60 637.52,656.60 638.43,610.00 639.49,575.00 642.21,545.00 645.69,530.00 649.32,524.60 651.44,518.60" fill="#f6b89a" stroke="none" stroke-width="0.6" opacity="0.6" filter="url(#hblur)"/>
<polygon points="626.97,518.60 627.96,524.60 629.67,530.00 631.31,545.00 632.59,575.00 633.09,610.00 633.52,656.60 636.08,656.60 636.51,610.00 637.01,575.00 638.29,545.00 639.93,530.00 641.64,524.60 642.63,518.60" fill="#f08a58" stroke="none" stroke-width="0.6" opacity="0.6" filter="url(#hblur)"/>
<path d="M617.0,523.9h35.60000000000002M617.0,525.2h35.60000000000002M617.0,526.5h35.60000000000002M617.0,527.8h35.60000000000002M617.0,529.1h35.60000000000002M617.0,530.4h35.60000000000002M617.0,531.7h35.60000000000002M617.0,533.0h35.60000000000002M617.0,534.3h35.60000000000002M617.0,535.6h35.60000000000002M617.0,536.9h35.60000000000002M617.0,538.2h35.60000000000002M617.0,539.5h35.60000000000002M617.0,540.8h35.60000000000002M617.0,542.1h35.60000000000002M617.0,543.4h35.60000000000002M617.0,544.7h35.60000000000002M617.0,546.0h35.60000000000002M617.0,547.3h35.60000000000002M617.0,548.6h35.60000000000002M617.0,549.9h35.60000000000002M617.0,551.2h35.60000000000002M617.0,552.5h35.60000000000002M617.0,553.8h35.60000000000002M617.0,555.1h35.60000000000002M617.0,556.4h35.60000000000002M617.0,557.7h35.60000000000002M617.0,559.0h35.60000000000002M617.0,560.3h35.60000000000002M617.0,561.6h35.60000000000002M617.0,562.9h35.60000000000002M617.0,564.2h35.60000000000002M617.0,565.5h35.60000000000002M617.0,566.8h35.60000000000002M617.0,568.1h35.60000000000002M617.0,569.4h35.60000000000002M617.0,570.7h35.60000000000002M617.0,572.0h35.60000000000002M617.0,573.3h35.60000000000002M617.0,574.6h35.60000000000002M617.0,575.9h35.60000000000002M617.0,577.2h35.60000000000002M617.0,578.5h35.60000000000002M617.0,579.8h35.60000000000002M617.0,581.1h35.60000000000002M617.0,582.4h35.60000000000002M617.0,583.7h35.60000000000002M617.0,585.0h35.60000000000002M617.0,586.3h35.60000000000002M617.0,587.6h35.60000000000002M617.0,588.9h35.60000000000002M617.0,590.2h35.60000000000002M617.0,591.5h35.60000000000002M617.0,592.8h35.60000000000002M617.0,594.1h35.60000000000002M617.0,595.4h35.60000000000002M617.0,596.7h35.60000000000002M617.0,598.0h35.60000000000002M617.0,599.3h35.60000000000002M617.0,600.6h35.60000000000002M617.0,601.9h35.60000000000002M617.0,603.2h35.60000000000002M617.0,604.5h35.60000000000002M617.0,605.8h35.60000000000002M617.0,607.1h35.60000000000002M617.0,608.4h35.60000000000002M617.0,609.7h35.60000000000002M617.0,611.0h35.60000000000002M617.0,612.3h35.60000000000002M617.0,613.6h35.60000000000002M617.0,614.9h35.60000000000002M617.0,616.2h35.60000000000002M617.0,617.5h35.60000000000002M617.0,618.8h35.60000000000002M617.0,620.1h35.60000000000002M617.0,621.4h35.60000000000002M617.0,622.7h35.60000000000002M617.0,624.0h35.60000000000002M617.0,625.3h35.60000000000002M617.0,626.6h35.60000000000002M617.0,627.9h35.60000000000002M617.0,629.2h35.60000000000002M617.0,630.5h35.60000000000002M617.0,631.8h35.60000000000002M617.0,633.1h35.60000000000002M617.0,634.4h35.60000000000002M617.0,635.7h35.60000000000002M617.0,637.0h35.60000000000002M617.0,638.3h35.60000000000002M617.0,639.6h35.60000000000002M617.0,640.9h35.60000000000002M617.0,642.2h35.60000000000002M617.0,643.5h35.60000000000002M617.0,644.8h35.60000000000002M617.0,646.1h35.60000000000002M617.0,647.4h35.60000000000002M617.0,648.7h35.60000000000002M617.0,650.0h35.60000000000002M617.0,651.3h35.60000000000002" fill="none" stroke="#ffffff" stroke-width="0.35" opacity="0.25"/>
</g>
<rect x="617.00" y="522.60" width="35.60" height="130.00" fill="none" stroke="#9a9a9a" stroke-width="0.6"/>
<line x1="617.00" y1="652.60" x2="617.00" y2="654.40" stroke="#666" stroke-width="0.5"/>
<line x1="634.80" y1="652.60" x2="634.80" y2="654.40" stroke="#666" stroke-width="0.5"/>
<line x1="652.60" y1="652.60" x2="652.60" y2="654.40" stroke="#666" stroke-width="0.5"/>
<line x1="497.00" y1="498.50" x2="495.60" y2="498.50" stroke="#666" stroke-width="0.4"/>
<text x="495.00" y="501.60" font-size="8.3" text-anchor="end" fill="#0d0d0d" stroke="#0d0d0d" stroke-width="0.12">80</text>
<text x="495.00" y="522.60" font-size="8.3" text-anchor="end" fill="#0d0d0d" stroke="#0d0d0d" stroke-width="0.12">0</text>
<line x1="497.00" y1="519.40" x2="498.00" y2="519.40" stroke="#888" stroke-width="0.35"/>
<line x1="497.00" y1="513.90" x2="498.00" y2="513.90" stroke="#888" stroke-width="0.35"/>
<line x1="497.00" y1="508.40" x2="498.00" y2="508.40" stroke="#888" stroke-width="0.35"/>
<line x1="497.00" y1="502.90" x2="498.00" y2="502.90" stroke="#888" stroke-width="0.35"/>
<line x1="497.00" y1="497.40" x2="498.00" y2="497.40" stroke="#888" stroke-width="0.35"/>
<line x1="535.50" y1="519.40" x2="536.50" y2="519.40" stroke="#888" stroke-width="0.35"/>
<line x1="535.50" y1="513.90" x2="536.50" y2="513.90" stroke="#888" stroke-width="0.35"/>
<line x1="535.50" y1="508.40" x2="536.50" y2="508.40" stroke="#888" stroke-width="0.35"/>
<line x1="535.50" y1="502.90" x2="536.50" y2="502.90" stroke="#888" stroke-width="0.35"/>
<line x1="535.50" y1="497.40" x2="536.50" y2="497.40" stroke="#888" stroke-width="0.35"/>
<line x1="578.40" y1="519.40" x2="579.40" y2="519.40" stroke="#888" stroke-width="0.35"/>
<line x1="578.40" y1="513.90" x2="579.40" y2="513.90" stroke="#888" stroke-width="0.35"/>
<line x1="578.40" y1="508.40" x2="579.40" y2="508.40" stroke="#888" stroke-width="0.35"/>
<line x1="578.40" y1="502.90" x2="579.40" y2="502.90" stroke="#888" stroke-width="0.35"/>
<line x1="578.40" y1="497.40" x2="579.40" y2="497.40" stroke="#888" stroke-width="0.35"/>
<line x1="617.00" y1="519.40" x2="618.00" y2="519.40" stroke="#888" stroke-width="0.35"/>
<line x1="617.00" y1="513.90" x2="618.00" y2="513.90" stroke="#888" stroke-width="0.35"/>
<line x1="617.00" y1="508.40" x2="618.00" y2="508.40" stroke="#888" stroke-width="0.35"/>
<line x1="617.00" y1="502.90" x2="618.00" y2="502.90" stroke="#888" stroke-width="0.35"/>
<line x1="617.00" y1="497.40" x2="618.00" y2="497.40" stroke="#888" stroke-width="0.35"/>
<text x="487.50" y="663.00" font-size="8.8" fill="#0d0d0d" stroke="#0d0d0d" stroke-width="0.12">-1.0</text>
<text x="521.10" y="663.00" font-size="8.5" fill="#0d0d0d" stroke="#0d0d0d" stroke-width="0.12">1.0 kb</text>
<text x="491.20" y="583.50" font-size="9.75" text-anchor="middle" fill="#0d0d0d" stroke="#0d0d0d" stroke-width="0.12" transform="rotate(-90 491.20 583.50) ">Loss Hubs (n=9172)</text>
</svg>
</body></html>
